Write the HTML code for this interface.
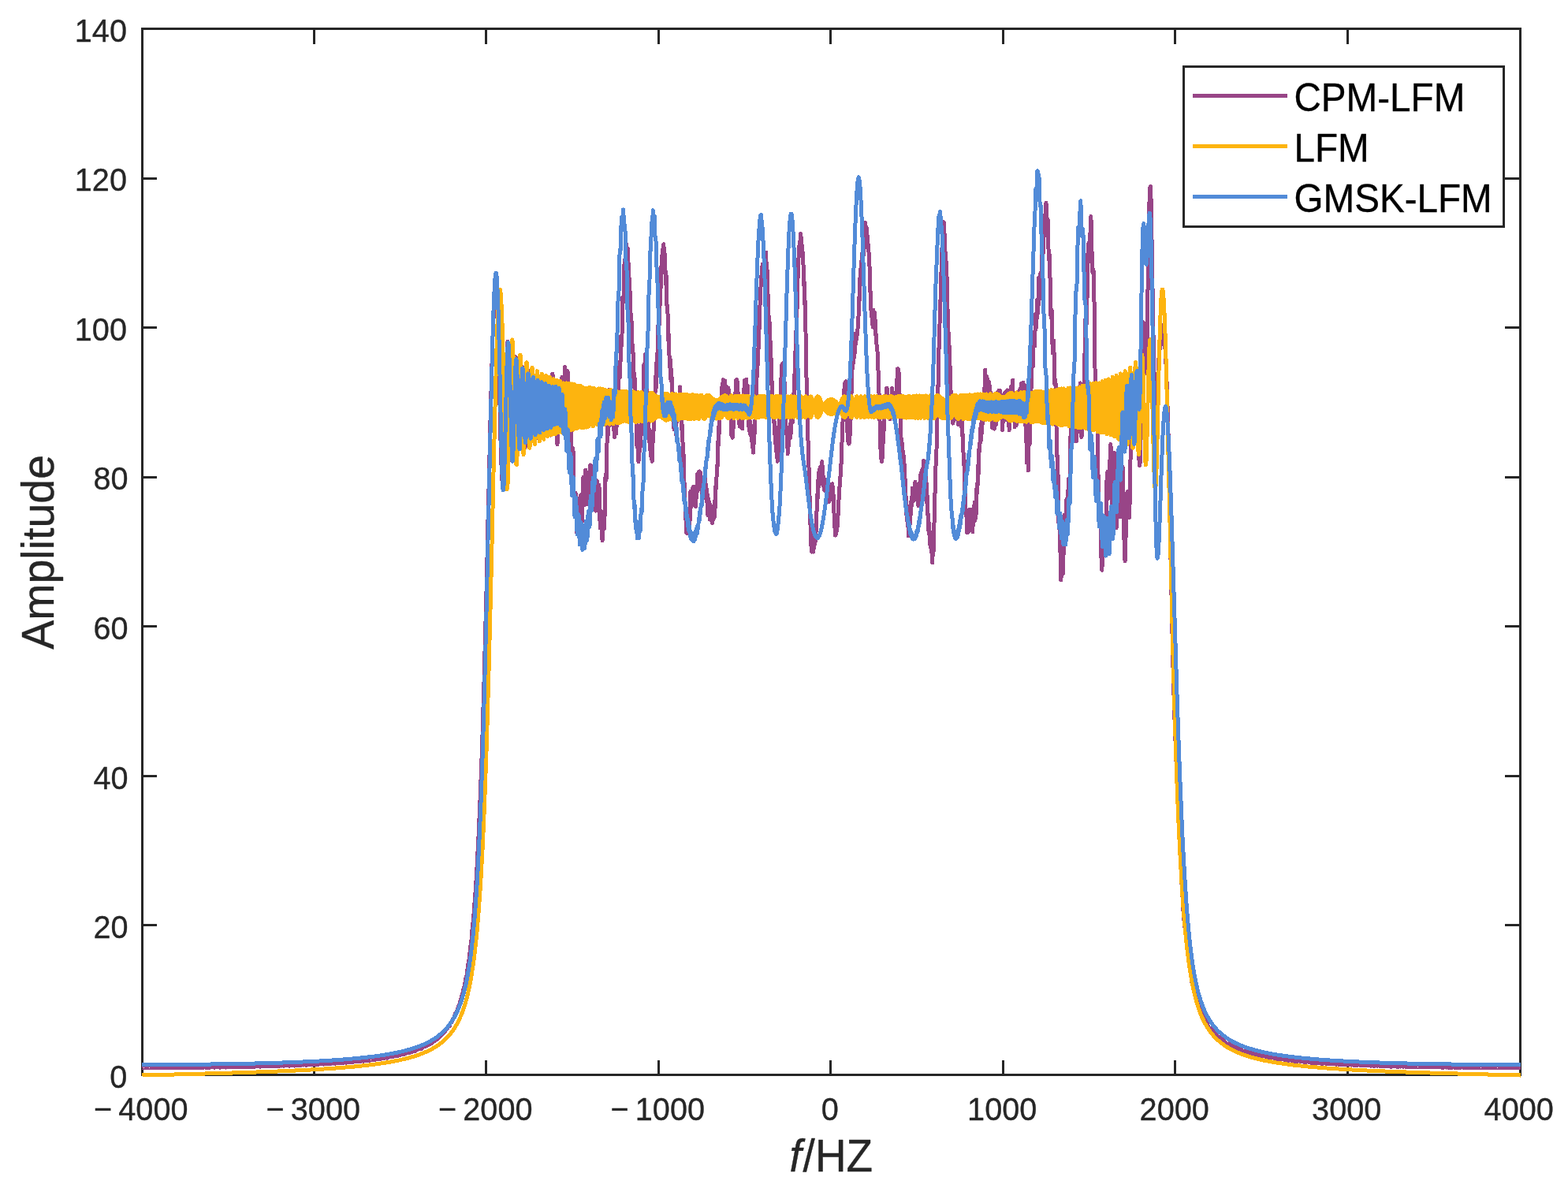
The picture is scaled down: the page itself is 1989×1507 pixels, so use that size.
<!DOCTYPE html>
<html lang="en">
<head>
<meta charset="utf-8">
<title>Spectrum comparison: CPM-LFM, LFM, GMSK-LFM</title>
<style>
html,body{margin:0;padding:0;background:#ffffff;}
body{width:1989px;height:1507px;overflow:hidden;font-family:"Liberation Sans",Arial,Helvetica,sans-serif;}
svg text{font-family:"Liberation Sans",Arial,Helvetica,sans-serif;}
</style>
</head>
<body>
<svg width="1989" height="1507" viewBox="0 0 1989 1507" style="display:block">
<rect x="0" y="0" width="1989" height="1507" fill="#ffffff"/>
<g fill="none" stroke="#262626" stroke-width="3" stroke-linecap="butt" shape-rendering="crispEdges">
<rect x="180.5" y="36.5" width="1748.0" height="1327.0"/>
<path d="M398.5,1363.5v-18.5M398.5,36.5v19.5M616.5,1363.5v-18.5M616.5,36.5v19.5M835.5,1363.5v-18.5M835.5,36.5v19.5M1053.5,1363.5v-18.5M1053.5,36.5v19.5M1272.5,1363.5v-18.5M1272.5,36.5v19.5M1490.5,1363.5v-18.5M1490.5,36.5v19.5M1709.5,1363.5v-18.5M1709.5,36.5v19.5M180.5,1173.5h18.5M1928.5,1173.5h-19.5M180.5,984.5h18.5M1928.5,984.5h-19.5M180.5,794.5h18.5M1928.5,794.5h-19.5M180.5,605.5h18.5M1928.5,605.5h-19.5M180.5,415.5h18.5M1928.5,415.5h-19.5M180.5,226.5h18.5M1928.5,226.5h-19.5"/>
</g>
<g fill="none" stroke-width="5.0" stroke-linejoin="round" stroke-linecap="butt" shape-rendering="crispEdges">
<path stroke="#984587" d="M180.3,1354.5L180.7,1354.4L181.2,1354.3L181.6,1354.5L182.0,1354.4L182.5,1354.5L182.9,1354.4L183.4,1354.3L183.8,1354.1L184.2,1353.8L184.7,1354.3L185.1,1354.7L185.5,1354.5L186.0,1354.3L186.4,1354.4L186.9,1354.2L187.3,1354.4L187.7,1354.6L188.2,1354.5L188.6,1354.1L189.0,1354.2L189.5,1354.5L189.9,1354.5L190.4,1354.4L190.8,1354.7L191.2,1354.1L191.7,1354.5L192.1,1354.8L192.5,1354.4L193.0,1354.3L193.4,1354.3L193.8,1354.1L194.3,1354.0L194.7,1354.2L195.2,1354.5L195.6,1354.3L196.0,1354.6L196.5,1354.4L196.9,1354.3L197.3,1353.9L197.8,1354.3L198.2,1354.4L198.7,1354.7L199.1,1354.1L199.5,1354.6L200.0,1354.2L200.4,1354.3L200.8,1354.6L201.3,1354.3L201.7,1354.4L202.2,1354.4L202.6,1354.4L203.0,1354.3L203.5,1354.4L203.9,1354.4L204.3,1354.5L204.8,1354.3L205.2,1354.3L205.6,1354.0L206.1,1353.7L206.5,1354.2L207.0,1354.7L207.4,1354.4L207.8,1354.2L208.3,1354.4L208.7,1354.2L209.1,1354.3L209.6,1354.5L210.0,1354.4L210.5,1354.1L210.9,1354.1L211.3,1354.5L211.8,1354.4L212.2,1354.3L212.6,1354.6L213.1,1354.1L213.5,1354.4L213.9,1354.8L214.4,1354.3L214.8,1354.2L215.3,1354.3L215.7,1354.0L216.1,1353.9L216.6,1354.1L217.0,1354.4L217.4,1354.2L217.9,1354.5L218.3,1354.3L218.8,1354.3L219.2,1353.9L219.6,1354.2L220.1,1354.3L220.5,1354.6L220.9,1354.0L221.4,1354.5L221.8,1354.1L222.3,1354.2L222.7,1354.5L223.1,1354.2L223.6,1354.3L224.0,1354.3L224.4,1354.3L224.9,1354.2L225.3,1354.3L225.7,1354.3L226.2,1354.4L226.6,1354.2L227.1,1354.2L227.5,1353.9L227.9,1353.6L228.4,1354.1L228.8,1354.6L229.2,1354.3L229.7,1354.1L230.1,1354.3L230.6,1354.1L231.0,1354.2L231.4,1354.4L231.9,1354.3L232.3,1354.0L232.7,1354.0L233.2,1354.3L233.6,1354.3L234.1,1354.2L234.5,1354.5L234.9,1353.9L235.4,1354.3L235.8,1354.6L236.2,1354.1L236.7,1354.1L237.1,1354.2L237.5,1353.9L238.0,1353.8L238.4,1354.0L238.9,1354.3L239.3,1354.1L239.7,1354.4L240.2,1354.2L240.6,1354.1L241.0,1353.7L241.5,1354.1L241.9,1354.1L242.4,1354.5L242.8,1353.9L243.2,1354.3L243.7,1354.0L244.1,1354.1L244.5,1354.3L245.0,1354.1L245.4,1354.2L245.9,1354.2L246.3,1354.1L246.7,1354.0L247.2,1354.1L247.6,1354.1L248.0,1354.2L248.5,1354.1L248.9,1354.0L249.3,1353.8L249.8,1353.5L250.2,1353.9L250.7,1354.4L251.1,1354.1L251.5,1353.9L252.0,1354.1L252.4,1353.9L252.8,1354.0L253.3,1354.2L253.7,1354.1L254.2,1353.8L254.6,1353.8L255.0,1354.1L255.5,1354.1L255.9,1353.9L256.3,1354.3L256.8,1353.7L257.2,1354.1L257.6,1354.4L258.1,1353.9L258.5,1353.9L259.0,1354.0L259.4,1353.7L259.8,1353.6L260.3,1353.8L260.7,1354.1L261.1,1353.9L261.6,1354.2L262.0,1353.9L262.5,1353.9L262.9,1353.5L263.3,1353.9L263.8,1353.9L264.2,1354.3L264.6,1353.6L265.1,1354.1L265.5,1353.7L266.0,1353.8L266.4,1354.1L266.8,1353.8L267.3,1354.0L267.7,1353.9L268.1,1353.9L268.6,1353.8L269.0,1353.9L269.4,1353.9L269.9,1354.0L270.3,1353.8L270.8,1353.8L271.2,1353.5L271.6,1353.2L272.1,1353.7L272.5,1354.2L272.9,1353.9L273.4,1353.7L273.8,1353.8L274.3,1353.6L274.7,1353.7L275.1,1353.9L275.6,1353.9L276.0,1353.5L276.4,1353.6L276.9,1353.9L277.3,1353.8L277.8,1353.7L278.2,1354.0L278.6,1353.4L279.1,1353.8L279.5,1354.1L279.9,1353.6L280.4,1353.6L280.8,1353.7L281.2,1353.4L281.7,1353.3L282.1,1353.5L282.6,1353.8L283.0,1353.6L283.4,1353.9L283.9,1353.7L284.3,1353.6L284.7,1353.2L285.2,1353.6L285.6,1353.6L286.1,1354.0L286.5,1353.3L286.9,1353.8L287.4,1353.4L287.8,1353.5L288.2,1353.7L288.7,1353.5L289.1,1353.7L289.6,1353.6L290.0,1353.6L290.4,1353.4L290.9,1353.6L291.3,1353.5L291.7,1353.7L292.2,1353.5L292.6,1353.5L293.0,1353.2L293.5,1352.9L293.9,1353.4L294.4,1353.8L294.8,1353.5L295.2,1353.3L295.7,1353.5L296.1,1353.3L296.5,1353.4L297.0,1353.6L297.4,1353.5L297.9,1353.2L298.3,1353.2L298.7,1353.5L299.2,1353.5L299.6,1353.3L300.0,1353.6L300.5,1353.1L300.9,1353.5L301.3,1353.8L301.8,1353.3L302.2,1353.3L302.7,1353.4L303.1,1353.1L303.5,1352.9L304.0,1353.1L304.4,1353.4L304.8,1353.2L305.3,1353.5L305.7,1353.3L306.2,1353.2L306.6,1352.8L307.0,1353.2L307.5,1353.3L307.9,1353.6L308.3,1352.9L308.8,1353.4L309.2,1353.0L309.7,1353.1L310.1,1353.3L310.5,1353.1L311.0,1353.3L311.4,1353.2L311.8,1353.2L312.3,1353.0L312.7,1353.1L313.1,1353.1L313.6,1353.3L314.0,1353.1L314.5,1353.1L314.9,1352.8L315.3,1352.4L315.8,1353.0L316.2,1353.4L316.6,1353.1L317.1,1352.9L317.5,1353.1L318.0,1352.8L318.4,1352.9L318.8,1353.2L319.3,1353.1L319.7,1352.8L320.1,1352.8L320.6,1353.1L321.0,1353.0L321.5,1352.9L321.9,1353.2L322.3,1352.6L322.8,1353.0L323.2,1353.3L323.6,1352.8L324.1,1352.8L324.5,1352.9L324.9,1352.6L325.4,1352.5L325.8,1352.6L326.3,1353.0L326.7,1352.8L327.1,1353.0L327.6,1352.8L328.0,1352.7L328.4,1352.3L328.9,1352.7L329.3,1352.8L329.8,1353.2L330.2,1352.5L330.6,1352.9L331.1,1352.5L331.5,1352.6L331.9,1352.8L332.4,1352.6L332.8,1352.8L333.2,1352.7L333.7,1352.6L334.1,1352.5L334.6,1352.6L335.0,1352.6L335.4,1352.8L335.9,1352.6L336.3,1352.6L336.7,1352.2L337.2,1351.9L337.6,1352.4L338.1,1352.9L338.5,1352.6L338.9,1352.4L339.4,1352.6L339.8,1352.3L340.2,1352.4L340.7,1352.6L341.1,1352.6L341.6,1352.2L342.0,1352.3L342.4,1352.6L342.9,1352.5L343.3,1352.3L343.7,1352.6L344.2,1352.1L344.6,1352.5L345.0,1352.8L345.5,1352.2L345.9,1352.2L346.4,1352.3L346.8,1352.0L347.2,1351.9L347.7,1352.0L348.1,1352.4L348.5,1352.2L349.0,1352.5L349.4,1352.2L349.9,1352.1L350.3,1351.7L350.7,1352.1L351.2,1352.2L351.6,1352.6L352.0,1351.8L352.5,1352.3L352.9,1351.9L353.4,1352.0L353.8,1352.2L354.2,1352.0L354.7,1352.2L355.1,1352.1L355.5,1352.0L356.0,1351.8L356.4,1351.9L356.8,1352.0L357.3,1352.1L357.7,1352.0L358.2,1351.9L358.6,1351.6L359.0,1351.2L359.5,1351.8L359.9,1352.3L360.3,1351.9L360.8,1351.7L361.2,1351.9L361.7,1351.6L362.1,1351.7L362.5,1351.9L363.0,1351.9L363.4,1351.5L363.8,1351.6L364.3,1351.9L364.7,1351.7L365.2,1351.6L365.6,1351.9L366.0,1351.3L366.5,1351.8L366.9,1352.1L367.3,1351.5L367.8,1351.5L368.2,1351.6L368.6,1351.3L369.1,1351.1L369.5,1351.3L370.0,1351.7L370.4,1351.4L370.8,1351.7L371.3,1351.5L371.7,1351.3L372.1,1350.9L372.6,1351.4L373.0,1351.5L373.5,1351.9L373.9,1351.1L374.3,1351.5L374.8,1351.1L375.2,1351.2L375.6,1351.4L376.1,1351.2L376.5,1351.4L377.0,1351.3L377.4,1351.2L377.8,1351.0L378.3,1351.1L378.7,1351.2L379.1,1351.3L379.6,1351.2L380.0,1351.1L380.4,1350.7L380.9,1350.4L381.3,1350.9L381.8,1351.5L382.2,1351.1L382.6,1350.8L383.1,1351.0L383.5,1350.8L383.9,1350.8L384.4,1351.1L384.8,1351.0L385.3,1350.7L385.7,1350.7L386.1,1351.0L386.6,1350.9L387.0,1350.7L387.4,1351.0L387.9,1350.4L388.3,1350.9L388.7,1351.2L389.2,1350.6L389.6,1350.6L390.1,1350.8L390.5,1350.4L390.9,1350.2L391.4,1350.4L391.8,1350.8L392.2,1350.5L392.7,1350.8L393.1,1350.6L393.6,1350.4L394.0,1349.9L394.4,1350.4L394.9,1350.5L395.3,1350.9L395.7,1350.1L396.2,1350.5L396.6,1350.1L397.1,1350.2L397.5,1350.4L397.9,1350.3L398.4,1350.5L398.8,1350.3L399.2,1350.2L399.7,1350.0L400.1,1350.1L400.5,1350.2L401.0,1350.3L401.4,1350.2L401.9,1350.1L402.3,1349.7L402.7,1349.3L403.2,1349.9L403.6,1350.5L404.0,1350.1L404.5,1349.8L404.9,1350.0L405.4,1349.7L405.8,1349.7L406.2,1350.0L406.7,1349.9L407.1,1349.6L407.5,1349.6L408.0,1349.9L408.4,1349.8L408.9,1349.5L409.3,1349.9L409.7,1349.3L410.2,1349.8L410.6,1350.1L411.0,1349.4L411.5,1349.5L411.9,1349.6L412.3,1349.3L412.8,1349.0L413.2,1349.2L413.7,1349.6L414.1,1349.4L414.5,1349.7L415.0,1349.4L415.4,1349.2L415.8,1348.7L416.3,1349.2L416.7,1349.3L417.2,1349.8L417.6,1348.9L418.0,1349.3L418.5,1348.8L418.9,1349.0L419.3,1349.2L419.8,1349.0L420.2,1349.2L420.7,1349.1L421.1,1348.9L421.5,1348.7L422.0,1348.8L422.4,1348.9L422.8,1349.1L423.3,1348.9L423.7,1348.9L424.1,1348.3L424.6,1347.9L425.0,1348.5L425.5,1349.2L425.9,1348.8L426.3,1348.4L426.8,1348.6L427.2,1348.3L427.6,1348.3L428.1,1348.6L428.5,1348.6L429.0,1348.2L429.4,1348.2L429.8,1348.5L430.3,1348.3L430.7,1348.1L431.1,1348.5L431.6,1347.9L432.0,1348.4L432.4,1348.6L432.9,1347.9L433.3,1348.0L433.8,1348.2L434.2,1347.8L434.6,1347.5L435.1,1347.7L435.5,1348.1L435.9,1347.9L436.4,1348.2L436.8,1347.9L437.3,1347.6L437.7,1347.1L438.1,1347.6L438.6,1347.8L439.0,1348.2L439.4,1347.3L439.9,1347.7L440.3,1347.2L440.8,1347.3L441.2,1347.6L441.6,1347.4L442.1,1347.6L442.5,1347.5L442.9,1347.3L443.4,1347.0L443.8,1347.1L444.2,1347.2L444.7,1347.4L445.1,1347.3L445.6,1347.2L446.0,1346.6L446.4,1346.1L446.9,1346.8L447.3,1347.5L447.7,1347.0L448.2,1346.7L448.6,1346.9L449.1,1346.5L449.5,1346.5L449.9,1346.8L450.4,1346.8L450.8,1346.4L451.2,1346.4L451.7,1346.7L452.1,1346.5L452.6,1346.2L453.0,1346.6L453.4,1346.0L453.9,1346.5L454.3,1346.8L454.7,1346.0L455.2,1346.1L455.6,1346.3L456.0,1345.8L456.5,1345.5L456.9,1345.7L457.4,1346.2L457.8,1345.9L458.2,1346.2L458.7,1345.9L459.1,1345.5L459.5,1345.0L460.0,1345.6L460.4,1345.8L460.9,1346.2L461.3,1345.2L461.7,1345.5L462.2,1345.1L462.6,1345.2L463.0,1345.4L463.5,1345.3L463.9,1345.5L464.4,1345.3L464.8,1345.1L465.2,1344.7L465.7,1344.8L466.1,1345.0L466.5,1345.2L467.0,1345.1L467.4,1344.9L467.8,1344.3L468.3,1343.8L468.7,1344.5L469.2,1345.2L469.6,1344.7L470.0,1344.3L470.5,1344.5L470.9,1344.1L471.3,1344.1L471.8,1344.4L472.2,1344.4L472.7,1343.9L473.1,1344.0L473.5,1344.3L474.0,1344.0L474.4,1343.7L474.8,1344.1L475.3,1343.4L475.7,1344.0L476.1,1344.2L476.6,1343.4L477.0,1343.5L477.5,1343.7L477.9,1343.2L478.3,1342.8L478.8,1343.0L479.2,1343.5L479.6,1343.2L480.1,1343.5L480.5,1343.1L481.0,1342.7L481.4,1342.1L481.8,1342.8L482.3,1343.0L482.7,1343.5L483.1,1342.3L483.6,1342.7L484.0,1342.1L484.5,1342.3L484.9,1342.5L485.3,1342.4L485.8,1342.6L486.2,1342.4L486.6,1342.0L487.1,1341.6L487.5,1341.7L487.9,1341.9L488.4,1342.2L488.8,1342.1L489.3,1341.9L489.7,1341.1L490.1,1340.5L490.6,1341.3L491.0,1342.1L491.4,1341.5L491.9,1341.0L492.3,1341.3L492.8,1340.8L493.2,1340.7L493.6,1341.1L494.1,1341.0L494.5,1340.5L494.9,1340.6L495.4,1340.8L495.8,1340.5L496.3,1340.2L496.7,1340.5L497.1,1339.8L497.6,1340.4L498.0,1340.7L498.4,1339.7L498.9,1339.8L499.3,1340.0L499.7,1339.5L500.2,1339.0L500.6,1339.2L501.1,1339.7L501.5,1339.4L501.9,1339.7L502.4,1339.3L502.8,1338.8L503.2,1338.1L503.7,1338.8L504.1,1339.1L504.6,1339.6L505.0,1338.3L505.4,1338.5L505.9,1337.9L506.3,1338.1L506.7,1338.3L507.2,1338.2L507.6,1338.4L508.1,1338.1L508.5,1337.7L508.9,1337.2L509.4,1337.3L509.8,1337.5L510.2,1337.8L510.7,1337.6L511.1,1337.4L511.5,1336.4L512.0,1335.8L512.4,1336.6L512.9,1337.5L513.3,1336.9L513.7,1336.3L514.2,1336.5L514.6,1335.9L515.0,1335.8L515.5,1336.2L515.9,1336.0L516.4,1335.5L516.8,1335.5L517.2,1335.8L517.7,1335.4L518.1,1334.9L518.5,1335.3L519.0,1334.5L519.4,1335.1L519.8,1335.3L520.3,1334.3L520.7,1334.3L521.2,1334.5L521.6,1333.9L522.0,1333.4L522.5,1333.5L522.9,1334.0L523.3,1333.7L523.8,1334.0L524.2,1333.4L524.7,1332.8L525.1,1332.0L525.5,1332.7L526.0,1333.1L526.4,1333.5L526.8,1332.0L527.3,1332.2L527.7,1331.5L528.2,1331.6L528.6,1331.8L529.0,1331.7L529.5,1331.9L529.9,1331.5L530.3,1330.9L530.8,1330.3L531.2,1330.3L531.6,1330.6L532.1,1330.9L532.5,1330.7L533.0,1330.3L533.4,1329.1L533.8,1328.3L534.3,1329.2L534.7,1330.2L535.1,1329.4L535.6,1328.7L536.0,1328.8L536.5,1328.1L536.9,1327.9L537.3,1328.2L537.8,1328.1L538.2,1327.4L538.6,1327.4L539.1,1327.6L539.5,1327.0L540.0,1326.4L540.4,1326.7L540.8,1325.9L541.3,1326.5L541.7,1326.6L542.1,1325.3L542.6,1325.3L543.0,1325.5L543.4,1324.7L543.9,1324.0L544.3,1324.0L544.8,1324.5L545.2,1324.1L545.6,1324.3L546.1,1323.5L546.5,1322.7L546.9,1321.7L547.4,1322.5L547.8,1322.8L548.3,1323.2L548.7,1321.4L549.1,1321.4L549.6,1320.5L550.0,1320.5L550.4,1320.7L550.9,1320.5L551.3,1320.6L551.8,1320.0L552.2,1319.2L552.6,1318.3L553.1,1318.2L553.5,1318.4L553.9,1318.7L554.4,1318.3L554.8,1317.7L555.2,1316.2L555.7,1315.1L556.1,1315.9L556.6,1316.9L557.0,1315.9L557.4,1314.9L557.9,1314.9L558.3,1313.9L558.7,1313.5L559.2,1313.7L559.6,1313.3L560.1,1312.4L560.5,1312.2L560.9,1312.2L561.4,1311.4L561.8,1310.5L562.2,1310.6L562.7,1309.4L563.1,1309.9L563.5,1309.8L564.0,1308.2L564.4,1307.9L564.9,1307.9L565.3,1306.7L565.7,1305.6L566.2,1305.4L566.6,1305.8L567.0,1305.0L567.5,1305.0L567.9,1303.8L568.4,1302.4L568.8,1301.0L569.2,1301.6L569.7,1301.8L570.1,1301.9L570.5,1299.6L571.0,1299.1L571.4,1297.7L571.9,1297.4L572.3,1297.2L572.7,1296.6L573.2,1296.5L573.6,1295.3L574.0,1293.8L574.5,1292.3L574.9,1291.7L575.3,1291.6L575.8,1291.6L576.2,1290.7L576.7,1289.4L577.1,1287.1L577.5,1285.3L578.0,1285.7L578.4,1286.3L578.8,1284.8L579.3,1282.9L579.7,1282.2L580.2,1280.5L580.6,1279.3L581.0,1278.8L581.5,1277.7L581.9,1276.0L582.3,1275.1L582.8,1274.2L583.2,1272.4L583.7,1270.5L584.1,1269.7L584.5,1267.6L585.0,1267.2L585.4,1266.1L585.8,1263.3L586.3,1261.8L586.7,1260.8L587.1,1258.4L587.6,1255.9L588.0,1254.4L588.5,1253.6L588.9,1251.6L589.3,1250.2L589.8,1247.4L590.2,1244.3L590.6,1241.1L591.1,1240.2L591.5,1238.9L592.0,1237.5L592.4,1233.1L592.8,1230.4L593.3,1226.8L593.7,1224.4L594.1,1222.1L594.6,1219.4L595.0,1217.1L595.5,1213.4L595.9,1209.2L596.3,1204.7L596.8,1201.2L597.2,1198.2L597.6,1195.5L598.1,1191.6L598.5,1187.2L598.9,1181.0L599.4,1175.1L599.8,1171.8L600.3,1168.8L600.7,1163.6L601.1,1157.2L601.6,1152.0L602.0,1145.5L602.4,1139.3L602.9,1133.6L603.3,1127.5L603.8,1120.2L604.2,1113.7L604.6,1106.9L605.1,1098.9L605.5,1090.2L605.9,1082.4L606.4,1073.2L606.8,1065.5L607.2,1057.2L607.7,1046.3L608.1,1036.1L608.6,1026.7L609.0,1015.8L609.4,1003.9L609.9,992.1L610.3,981.5L610.7,969.4L611.2,957.5L611.6,944.5L612.1,929.9L612.5,913.9L612.9,900.2L613.4,886.4L613.8,873.5L614.2,857.2L614.7,840.8L615.1,822.7L615.6,805.9L616.0,788.7L616.4,771.1L616.9,755.2L617.3,737.8L617.7,719.3L618.2,699.6L618.6,679.4L619.0,659.5L619.5,642.1L619.9,623.8L620.4,606.9L620.8,588.2L621.2,567.6L621.7,547.6L622.1,529.2L622.5,514.2L623.0,496.8L623.4,480.7L623.9,465.5L624.3,450.2L624.7,434.9L625.2,422.4L625.6,410.8L626.0,400.5L626.5,391.4L626.9,384.8L627.4,379.4L627.8,374.5L628.2,372.6L628.7,370.7L629.1,371.6L629.5,376.7L630.0,382.3L630.4,388.9L630.8,398.8L631.3,411.2L631.7,425.0L632.2,438.6L632.6,454.4L633.0,471.1L633.5,488.5L633.9,507.8L634.3,529.1L634.8,548.8L635.2,566.6L635.7,580.9L636.1,592.1L636.5,602.9L637.0,610.1L637.4,614.6L637.8,615.5L638.3,612.0L638.7,605.6L639.2,594.1L639.6,578.9L640.0,560.6L640.5,540.8L640.9,520.6L641.3,503.3L641.8,486.4L642.2,472.7L642.6,460.7L643.1,449.4L643.5,439.3L644.0,433.2L644.4,434.2L644.8,440.1L645.3,448.0L645.7,460.9L646.1,476.7L646.6,494.6L647.0,512.2L647.5,531.6L647.9,548.8L648.3,564.2L648.8,575.2L649.2,582.1L649.6,585.0L650.1,580.7L650.5,573.5L650.9,561.4L651.4,543.8L651.8,524.0L652.3,505.9L652.7,489.5L653.1,474.8L653.6,461.9L654.0,454.0L654.4,452.8L654.9,456.3L655.3,466.2L655.8,481.7L656.2,501.8L656.6,521.3L657.1,539.8L657.5,554.2L657.9,563.6L658.4,569.8L658.8,568.5L659.3,562.2L659.7,550.2L660.1,533.7L660.6,517.5L661.0,500.7L661.4,485.9L661.9,474.5L662.3,467.3L662.7,465.7L663.2,469.9L663.6,481.3L664.1,496.3L664.5,515.7L664.9,536.7L665.4,554.8L665.8,566.7L666.2,567.7L666.7,560.4L667.1,548.4L667.6,530.5L668.0,510.4L668.4,491.0L668.9,477.6L669.3,470.2L669.7,469.4L670.2,475.8L670.6,489.7L671.1,508.7L671.5,528.7L671.9,546.0L672.4,558.7L672.8,562.5L673.2,555.3L673.7,541.6L674.1,525.0L674.5,507.1L675.0,490.6L675.4,477.7L675.9,472.4L676.3,477.0L676.7,488.3L677.2,505.0L677.6,524.5L678.0,542.9L678.5,555.7L678.9,558.8L679.4,553.0L679.8,536.5L680.2,516.9L680.7,497.7L681.1,483.9L681.5,477.8L682.0,481.3L682.4,491.2L682.8,507.8L683.3,525.6L683.7,540.1L684.2,547.5L684.6,545.3L685.0,535.5L685.5,519.2L685.9,504.8L686.3,494.3L686.8,490.2L687.2,492.3L687.7,502.2L688.1,516.8L688.5,534.8L689.0,546.3L689.4,547.0L689.8,537.8L690.3,520.9L690.7,502.8L691.2,486.7L691.6,478.9L692.0,480.8L692.5,493.7L692.9,513.5L693.3,533.5L693.8,546.5L694.2,550.9L694.6,543.4L695.1,525.7L695.5,505.8L696.0,492.3L696.4,489.8L696.8,497.9L697.3,514.4L697.7,532.4L698.1,546.6L698.6,552.3L699.0,544.3L699.5,525.8L699.9,502.2L700.3,482.9L700.8,474.0L701.2,476.8L701.6,493.1L702.1,512.8L702.5,528.8L703.0,534.5L703.4,528.0L703.8,512.2L704.3,497.9L704.7,490.0L705.1,493.7L705.6,509.3L706.0,531.5L706.4,553.0L706.9,563.7L707.3,560.7L707.8,547.5L708.2,528.1L708.6,511.3L709.1,502.7L709.5,506.2L709.9,518.7L710.4,535.3L710.8,542.7L711.3,535.4L711.7,517.1L712.1,494.8L712.6,480.5L713.0,478.5L713.4,487.4L713.9,503.7L714.3,517.4L714.8,520.3L715.2,510.7L715.6,490.9L716.1,472.7L716.5,465.5L716.9,474.5L717.4,493.1L717.8,511.0L718.2,518.8L718.7,512.6L719.1,495.4L719.6,478.2L720.0,470.6L720.4,475.8L720.9,493.6L721.3,514.9L721.7,528.8L722.2,530.5L722.6,520.1L723.1,510.3L723.5,511.1L723.9,523.3L724.4,548.4L724.8,572.7L725.2,587.3L725.7,585.6L726.1,576.5L726.5,568.0L727.0,571.4L727.4,589.6L727.9,616.0L728.3,639.6L728.7,648.5L729.2,641.5L729.6,630.7L730.0,625.3L730.5,632.6L730.9,649.3L731.4,669.2L731.8,676.8L732.2,669.1L732.7,653.0L733.1,637.5L733.5,632.9L734.0,642.5L734.4,658.9L734.9,671.7L735.3,670.1L735.7,654.7L736.2,636.5L736.6,627.8L737.0,633.0L737.5,649.8L737.9,663.4L738.3,661.8L738.8,642.3L739.2,618.3L739.7,605.5L740.1,610.1L740.5,625.8L741.0,640.6L741.4,640.5L741.8,623.7L742.3,603.7L742.7,596.2L743.2,605.0L743.6,625.1L744.0,639.7L744.5,637.9L744.9,623.5L745.3,606.8L745.8,599.5L746.2,609.9L746.7,625.1L747.1,633.1L747.5,623.6L748.0,605.5L748.4,590.2L748.8,590.0L749.3,604.8L749.7,622.1L750.1,627.4L750.6,617.0L751.0,598.8L751.5,591.8L751.9,602.6L752.3,624.7L752.8,642.3L753.2,643.7L753.6,630.2L754.1,613.2L754.5,609.7L755.0,623.1L755.4,640.8L755.8,648.2L756.3,637.9L756.7,618.8L757.1,609.6L757.6,616.2L758.0,633.7L758.5,646.4L758.9,643.5L759.3,627.0L759.8,615.2L760.2,620.5L760.6,642.8L761.1,664.7L761.5,670.1L761.9,659.6L762.4,648.5L762.8,649.5L763.3,664.3L763.7,681.5L764.1,685.6L764.6,672.1L765.0,655.5L765.4,651.5L765.9,659.9L766.3,671.4L766.8,668.2L767.2,643.5L767.6,615.7L768.1,602.3L768.5,603.8L768.9,609.5L769.4,600.6L769.8,576.9L770.2,550.3L770.7,538.9L771.1,544.4L771.6,551.6L772.0,543.2L772.4,520.9L772.9,498.6L773.3,494.2L773.7,507.1L774.2,519.6L774.6,517.9L775.1,503.5L775.5,498.0L775.9,509.2L776.4,528.2L776.8,539.2L777.2,532.3L777.7,515.9L778.1,512.4L778.6,528.1L779.0,547.4L779.4,554.6L779.9,542.0L780.3,525.4L780.7,522.6L781.2,537.7L781.6,550.0L782.0,542.9L782.5,518.5L782.9,498.8L783.4,497.3L783.8,505.5L784.2,503.2L784.7,483.4L785.1,462.4L785.5,459.4L786.0,471.7L786.4,478.9L786.9,466.3L787.3,440.7L787.7,425.9L788.2,431.4L788.6,438.2L789.0,424.6L789.5,397.5L789.9,377.2L790.4,376.1L790.8,383.5L791.2,374.9L791.7,350.7L792.1,329.8L792.5,330.0L793.0,341.9L793.4,341.5L793.8,322.1L794.3,308.5L794.7,316.3L795.2,334.0L795.6,339.6L796.0,326.0L796.5,315.4L796.9,326.2L797.3,348.7L797.8,359.9L798.2,354.5L798.7,353.4L799.1,373.2L799.5,401.7L800.0,410.1L800.4,399.1L800.8,398.4L801.3,418.9L801.7,443.2L802.2,446.7L802.6,438.1L803.0,445.9L803.5,470.7L803.9,491.1L804.3,485.3L804.8,473.8L805.2,483.5L805.6,508.9L806.1,521.4L806.5,513.6L807.0,513.0L807.4,537.3L807.8,565.0L808.3,567.2L808.7,555.9L809.1,561.0L809.6,579.5L810.0,585.6L810.5,569.1L810.9,554.9L811.3,560.3L811.8,572.6L812.2,563.4L812.6,541.4L813.1,537.8L813.5,549.9L814.0,550.6L814.4,527.7L814.8,508.7L815.3,511.9L815.7,517.3L816.1,498.2L816.6,468.9L817.0,462.5L817.4,473.9L817.9,471.1L818.3,453.7L818.8,449.2L819.2,470.4L819.6,489.5L820.1,486.4L820.5,484.5L820.9,505.9L821.4,532.1L821.8,532.1L822.3,521.4L822.7,532.3L823.1,556.8L823.6,560.3L824.0,545.5L824.4,546.4L824.9,568.8L825.3,577.8L825.7,563.5L826.2,560.1L826.6,577.9L827.1,585.5L827.5,566.6L827.9,550.2L828.4,556.0L828.8,559.7L829.2,535.7L829.7,508.9L830.1,509.1L830.6,516.4L831.0,499.3L831.4,477.8L831.9,481.2L832.3,492.2L832.7,475.9L833.2,449.6L833.6,448.4L834.1,455.7L834.5,440.3L834.9,412.9L835.4,410.2L835.8,420.9L836.2,407.3L836.7,381.8L837.1,379.1L837.5,386.5L838.0,367.8L838.4,339.4L838.9,338.1L839.3,347.5L839.7,333.2L840.2,316.6L840.6,327.0L841.0,338.4L841.5,322.5L841.9,309.8L842.4,325.7L842.8,338.3L843.2,324.6L843.7,322.8L844.1,348.4L844.5,360.0L845.0,349.0L845.4,356.1L845.9,385.1L846.3,395.1L846.7,388.0L847.2,403.3L847.6,431.5L848.0,430.5L848.5,424.1L848.9,445.6L849.3,465.5L849.8,458.0L850.2,456.0L850.7,477.9L851.1,483.3L851.5,468.0L852.0,477.2L852.4,502.6L852.8,501.8L853.3,497.9L853.7,523.0L854.2,542.0L854.6,527.6L855.0,523.9L855.5,545.2L855.9,543.5L856.3,527.0L856.8,539.5L857.2,551.1L857.7,531.5L858.1,520.3L858.5,535.2L859.0,531.8L859.4,511.0L859.8,518.3L860.3,532.0L860.7,514.9L861.1,503.0L861.6,516.3L862.0,512.1L862.5,490.9L862.9,501.8L863.3,522.1L863.8,514.5L864.2,515.7L864.6,541.3L865.1,547.1L865.5,539.3L866.0,560.6L866.4,581.0L866.8,573.3L867.3,579.4L867.7,609.5L868.1,616.9L868.6,614.2L869.0,638.3L869.4,657.8L869.9,646.9L870.3,654.7L870.8,676.1L871.2,667.0L871.6,657.6L872.1,675.4L872.5,676.8L872.9,657.6L873.4,665.1L873.8,676.3L874.3,657.3L874.7,650.6L875.1,660.9L875.6,643.6L876.0,623.5L876.4,638.3L876.9,642.9L877.3,622.7L877.8,628.4L878.2,640.5L878.6,620.8L879.1,617.9L879.5,638.2L879.9,630.3L880.4,618.1L880.8,634.1L881.2,633.0L881.7,617.4L882.1,632.3L882.6,642.6L883.0,622.8L883.4,622.1L883.9,631.3L884.3,609.9L884.7,601.1L885.2,620.0L885.6,612.9L886.1,599.0L886.5,614.0L886.9,615.0L887.4,597.9L887.8,610.9L888.2,619.2L888.7,600.3L889.1,604.8L889.6,622.2L890.0,610.2L890.4,612.2L890.9,632.6L891.3,623.7L891.7,614.0L892.2,631.3L892.6,624.7L893.0,607.1L893.5,619.0L893.9,622.0L894.4,605.4L894.8,619.3L895.2,631.9L895.7,614.6L896.1,619.9L896.5,636.1L897.0,625.8L897.4,631.7L897.9,653.5L898.3,640.4L898.7,632.6L899.2,652.8L899.6,645.9L900.0,637.2L900.5,659.1L900.9,655.5L901.3,641.7L901.8,659.2L902.2,659.7L902.7,645.4L903.1,662.7L903.5,663.8L904.0,642.7L904.4,653.3L904.8,659.4L905.3,641.9L905.7,650.1L906.2,656.7L906.6,635.2L907.0,639.9L907.5,643.1L907.9,616.8L908.3,614.9L908.8,619.0L909.2,592.8L909.7,590.5L910.1,592.1L910.5,564.0L911.0,558.9L911.4,564.7L911.8,541.0L912.3,541.0L912.7,549.0L913.1,524.2L913.6,521.5L914.0,529.3L914.5,505.9L914.9,503.6L915.3,512.4L915.8,491.2L916.2,489.9L916.6,501.1L917.1,481.6L917.5,485.5L918.0,500.6L918.4,483.3L918.8,487.6L919.3,499.8L919.7,482.9L920.1,493.9L920.6,509.0L921.0,491.3L921.5,500.4L921.9,510.1L922.3,490.8L922.8,501.9L923.2,509.1L923.6,492.1L924.1,506.8L924.5,510.6L924.9,495.4L925.4,512.6L925.8,511.3L926.3,501.8L926.7,525.2L927.1,525.5L927.6,525.0L928.0,552.8L928.4,545.3L928.9,541.1L929.3,555.3L929.8,535.6L930.2,532.5L930.6,542.6L931.1,519.9L931.5,523.7L931.9,524.3L932.4,498.4L932.8,505.9L933.3,501.8L933.7,481.8L934.1,498.1L934.6,492.0L935.0,481.8L935.4,503.4L935.9,494.8L936.3,501.3L936.7,524.1L937.2,515.4L937.6,528.3L938.1,541.0L938.5,525.5L938.9,541.4L939.4,539.5L939.8,524.2L940.2,541.6L940.7,532.4L941.1,528.8L941.6,544.0L942.0,520.2L942.4,515.9L942.9,516.9L943.3,494.1L943.7,504.0L944.2,495.7L944.6,482.5L945.0,501.6L945.5,488.6L945.9,487.8L946.4,501.0L946.8,481.4L947.2,494.1L947.7,498.2L948.1,488.6L948.5,513.4L949.0,510.9L949.4,516.9L949.9,541.5L950.3,529.6L950.7,544.9L951.2,549.4L951.6,534.7L952.0,551.6L952.5,540.0L952.9,539.9L953.4,558.7L953.8,547.1L954.2,562.6L954.7,567.8L955.1,555.8L955.5,574.2L956.0,557.1L956.4,553.2L956.8,562.3L957.3,536.3L957.7,542.0L958.2,526.0L958.6,505.1L959.0,509.9L959.5,482.8L959.9,480.1L960.3,475.9L960.8,451.4L961.2,463.5L961.7,445.8L962.1,439.7L962.5,441.0L963.0,411.7L963.4,416.5L963.8,395.9L964.3,376.4L964.7,381.1L965.2,355.1L965.6,361.4L966.0,349.6L966.5,338.3L966.9,354.4L967.3,335.3L967.8,347.1L968.2,346.1L968.6,336.7L969.1,351.4L969.5,329.3L970.0,339.3L970.4,338.5L970.8,328.7L971.3,341.8L971.7,320.2L972.1,335.0L972.6,339.3L973.0,341.5L973.5,370.0L973.9,365.3L974.3,393.2L974.8,397.5L975.2,401.7L975.6,421.0L976.1,408.7L976.5,433.9L977.0,432.2L977.4,440.6L977.8,459.0L978.3,455.2L978.7,488.0L979.1,483.0L979.6,500.0L980.0,507.8L980.4,503.1L980.9,525.7L981.3,514.7L981.8,536.5L982.2,535.0L982.6,538.6L983.1,554.1L983.5,541.1L983.9,563.9L984.4,554.7L984.8,572.0L985.3,575.6L985.7,570.3L986.1,585.2L986.6,563.0L987.0,575.1L987.4,557.0L987.9,558.1L988.3,552.3L988.8,529.6L989.2,535.8L989.6,505.6L990.1,509.4L990.5,485.5L990.9,480.1L991.4,478.8L991.8,462.9L992.2,479.0L992.7,460.7L993.1,473.2L993.6,459.8L994.0,465.5L994.4,477.2L994.9,476.4L995.3,505.4L995.7,500.2L996.2,530.6L996.6,527.0L997.1,543.1L997.5,550.1L997.9,546.4L998.4,567.0L998.8,553.8L999.2,575.6L999.7,558.1L1000.1,566.6L1000.5,557.9L1001.0,552.5L1001.4,556.2L1001.9,540.4L1002.3,556.1L1002.7,537.1L1003.2,550.4L1003.6,533.5L1004.0,537.7L1004.5,534.0L1004.9,525.5L1005.4,536.0L1005.8,516.5L1006.2,526.8L1006.7,499.4L1007.1,506.1L1007.5,482.8L1008.0,474.3L1008.4,461.0L1008.9,445.1L1009.3,446.8L1009.7,420.4L1010.2,424.1L1010.6,390.2L1011.0,393.5L1011.5,363.5L1011.9,360.1L1012.3,337.5L1012.8,329.7L1013.2,324.5L1013.7,312.3L1014.1,323.0L1014.5,306.8L1015.0,319.6L1015.4,296.5L1015.8,315.5L1016.3,301.0L1016.7,318.1L1017.2,310.1L1017.6,318.4L1018.0,318.6L1018.5,322.7L1018.9,335.7L1019.3,337.5L1019.8,362.5L1020.2,357.1L1020.7,386.4L1021.1,381.3L1021.5,417.6L1022.0,421.2L1022.4,460.7L1022.8,465.6L1023.3,496.7L1023.7,503.5L1024.1,527.3L1024.6,543.6L1025.0,558.9L1025.5,578.7L1025.9,585.7L1026.3,610.7L1026.8,612.2L1027.2,643.3L1027.6,641.9L1028.1,670.9L1028.5,663.2L1029.0,692.5L1029.4,680.2L1029.8,700.2L1030.3,683.4L1030.7,698.9L1031.1,685.7L1031.6,700.3L1032.0,689.1L1032.5,695.9L1032.9,688.6L1033.3,691.0L1033.8,688.4L1034.2,687.5L1034.6,684.7L1035.1,673.3L1035.5,669.6L1035.9,648.8L1036.4,646.8L1036.8,626.7L1037.3,632.3L1037.7,608.9L1038.1,618.7L1038.6,599.2L1039.0,614.8L1039.4,596.2L1039.9,613.8L1040.3,592.6L1040.8,610.1L1041.2,592.4L1041.6,609.6L1042.1,588.5L1042.5,603.8L1042.9,585.5L1043.4,605.2L1043.8,595.1L1044.2,616.3L1044.7,605.0L1045.1,621.0L1045.6,608.1L1046.0,621.5L1046.4,613.5L1046.9,622.9L1047.3,613.0L1047.7,621.2L1048.2,614.6L1048.6,624.5L1049.1,623.0L1049.5,632.0L1049.9,630.1L1050.4,636.3L1050.8,634.3L1051.2,636.5L1051.7,636.1L1052.1,635.8L1052.6,631.4L1053.0,624.5L1053.4,619.8L1053.9,616.2L1054.3,618.5L1054.7,614.8L1055.2,617.8L1055.6,613.7L1056.0,616.5L1056.5,617.2L1056.9,626.3L1057.4,632.2L1057.8,647.1L1058.2,654.5L1058.7,666.8L1059.1,670.8L1059.5,679.2L1060.0,677.5L1060.4,678.1L1060.9,673.8L1061.3,674.4L1061.7,670.9L1062.2,667.2L1062.6,662.4L1063.0,654.0L1063.5,645.4L1063.9,635.3L1064.4,629.4L1064.8,618.0L1065.2,617.0L1065.7,605.5L1066.1,604.6L1066.5,589.2L1067.0,589.4L1067.4,568.8L1067.8,569.5L1068.3,550.2L1068.7,550.4L1069.2,525.8L1069.6,529.5L1070.0,505.5L1070.5,515.1L1070.9,493.1L1071.3,505.5L1071.8,485.9L1072.2,503.0L1072.7,483.7L1073.1,506.2L1073.5,495.1L1074.0,524.8L1074.4,519.2L1074.8,548.6L1075.3,539.7L1075.7,560.1L1076.1,546.9L1076.6,563.2L1077.0,551.0L1077.5,562.1L1077.9,551.3L1078.3,552.1L1078.8,538.4L1079.2,528.3L1079.6,512.7L1080.1,496.1L1080.5,485.9L1081.0,466.0L1081.4,467.4L1081.8,450.2L1082.3,461.2L1082.7,441.6L1083.1,454.3L1083.6,431.9L1084.0,449.8L1084.5,429.3L1084.9,442.0L1085.3,422.9L1085.8,436.0L1086.2,424.1L1086.6,430.0L1087.1,425.4L1087.5,421.5L1087.9,420.7L1088.4,406.3L1088.8,411.4L1089.3,387.4L1089.7,395.8L1090.1,371.2L1090.6,379.9L1091.0,352.3L1091.4,362.1L1091.9,340.6L1092.3,346.1L1092.8,331.6L1093.2,329.0L1093.6,327.8L1094.1,319.1L1094.5,329.2L1094.9,312.3L1095.4,324.2L1095.8,297.7L1096.3,307.5L1096.7,283.0L1097.1,291.1L1097.6,282.5L1098.0,287.8L1098.4,292.9L1098.9,287.7L1099.3,304.3L1099.7,290.0L1100.2,313.7L1100.6,299.7L1101.1,318.5L1101.5,310.1L1101.9,318.5L1102.4,324.9L1102.8,324.3L1103.2,349.6L1103.7,345.8L1104.1,377.1L1104.6,370.8L1105.0,393.8L1105.4,394.3L1105.9,399.0L1106.3,410.6L1106.7,398.9L1107.2,415.1L1107.6,393.2L1108.1,407.9L1108.5,394.9L1108.9,399.5L1109.4,404.5L1109.8,396.6L1110.2,418.7L1110.7,406.7L1111.1,430.7L1111.5,424.7L1112.0,437.3L1112.4,443.7L1112.9,438.9L1113.3,461.2L1113.7,451.1L1114.2,480.4L1114.6,479.4L1115.0,498.9L1115.5,519.2L1115.9,525.7L1116.4,560.7L1116.8,555.5L1117.2,580.7L1117.7,576.4L1118.1,577.4L1118.5,585.5L1119.0,566.2L1119.4,580.8L1119.8,558.5L1120.3,562.1L1120.7,553.8L1121.2,536.6L1121.6,545.1L1122.0,516.8L1122.5,524.3L1122.9,510.1L1123.3,505.6L1123.8,511.0L1124.2,493.4L1124.7,510.9L1125.1,492.3L1125.5,501.0L1126.0,508.2L1126.4,502.3L1126.8,523.9L1127.3,509.7L1127.7,528.3L1128.2,527.1L1128.6,520.9L1129.0,531.6L1129.5,508.0L1129.9,521.1L1130.3,508.4L1130.8,504.4L1131.2,512.9L1131.6,492.3L1132.1,511.9L1132.5,502.6L1133.0,502.7L1133.4,512.6L1133.8,497.8L1134.3,515.2L1134.7,502.5L1135.1,507.6L1135.6,517.7L1136.0,499.7L1136.5,516.1L1136.9,499.5L1137.3,493.8L1137.8,494.1L1138.2,467.9L1138.6,481.4L1139.1,467.8L1139.5,470.8L1140.0,485.8L1140.4,473.5L1140.8,498.9L1141.3,500.4L1141.7,510.9L1142.1,536.2L1142.6,529.0L1143.0,555.4L1143.4,559.2L1143.9,556.6L1144.3,577.3L1144.8,562.8L1145.2,578.8L1145.6,583.1L1146.1,577.0L1146.5,600.0L1146.9,585.4L1147.4,598.2L1147.8,613.8L1148.3,607.7L1148.7,634.6L1149.1,629.7L1149.6,635.2L1150.0,653.5L1150.4,641.3L1150.9,661.8L1151.3,660.4L1151.8,657.4L1152.2,680.0L1152.6,663.9L1153.1,670.9L1153.5,671.9L1153.9,651.3L1154.4,664.6L1154.8,649.7L1155.2,643.8L1155.7,651.7L1156.1,631.2L1156.6,641.8L1157.0,635.4L1157.4,619.3L1157.9,636.5L1158.3,620.2L1158.7,623.0L1159.2,635.4L1159.6,618.3L1160.1,633.0L1160.5,625.4L1160.9,611.1L1161.4,628.2L1161.8,613.6L1162.2,618.0L1162.7,631.7L1163.1,614.5L1163.5,631.6L1164.0,630.6L1164.4,621.5L1164.9,642.1L1165.3,628.1L1165.7,626.1L1166.2,635.4L1166.6,612.0L1167.0,620.7L1167.5,617.3L1167.9,601.2L1168.4,616.9L1168.8,600.2L1169.2,596.6L1169.7,613.3L1170.1,595.3L1170.5,604.2L1171.0,607.7L1171.4,584.6L1171.9,597.4L1172.3,592.0L1172.7,585.7L1173.2,608.1L1173.6,595.6L1174.0,599.3L1174.5,617.7L1174.9,606.5L1175.3,627.1L1175.8,638.3L1176.2,628.1L1176.7,652.3L1177.1,653.4L1177.5,652.2L1178.0,674.1L1178.4,663.3L1178.8,671.1L1179.3,690.3L1179.7,674.4L1180.2,687.9L1180.6,695.2L1181.0,680.6L1181.5,700.4L1181.9,700.1L1182.3,693.7L1182.8,714.0L1183.2,698.9L1183.7,689.7L1184.1,699.4L1184.5,672.1L1185.0,663.3L1185.4,660.0L1185.8,626.3L1186.3,624.5L1186.7,615.8L1187.1,583.7L1187.6,585.7L1188.0,569.8L1188.5,537.8L1188.9,538.1L1189.3,514.5L1189.8,488.6L1190.2,490.2L1190.6,458.2L1191.1,437.8L1191.5,441.4L1192.0,410.8L1192.4,396.6L1192.8,395.9L1193.3,359.2L1193.7,346.6L1194.1,344.9L1194.6,315.6L1195.0,316.3L1195.5,316.8L1195.9,289.6L1196.3,296.2L1196.8,301.1L1197.2,281.7L1197.6,299.7L1198.1,311.4L1198.5,297.8L1198.9,316.7L1199.4,326.6L1199.8,320.5L1200.3,346.4L1200.7,357.9L1201.1,351.8L1201.6,381.1L1202.0,396.5L1202.4,393.7L1202.9,419.6L1203.3,430.8L1203.8,423.0L1204.2,451.7L1204.6,468.5L1205.1,464.6L1205.5,490.7L1205.9,505.7L1206.4,495.8L1206.8,513.7L1207.2,524.9L1207.7,509.7L1208.1,523.4L1208.6,537.1L1209.0,519.6L1209.4,523.1L1209.9,534.2L1210.3,513.4L1210.7,510.9L1211.2,522.7L1211.6,507.7L1212.1,506.2L1212.5,530.3L1212.9,522.4L1213.4,513.2L1213.8,531.8L1214.2,526.1L1214.7,514.1L1215.1,535.4L1215.6,538.9L1216.0,522.4L1216.4,534.1L1216.9,538.2L1217.3,515.7L1217.7,519.1L1218.2,530.6L1218.6,514.4L1219.0,518.0L1219.5,541.5L1219.9,534.6L1220.4,530.1L1220.8,553.3L1221.2,554.1L1221.7,551.9L1222.1,579.5L1222.5,589.6L1223.0,581.9L1223.4,606.1L1223.9,628.0L1224.3,621.0L1224.7,631.6L1225.2,654.1L1225.6,646.7L1226.0,650.3L1226.5,675.6L1226.9,671.7L1227.4,656.6L1227.8,671.9L1228.2,675.2L1228.7,653.3L1229.1,659.0L1229.5,670.6L1230.0,651.1L1230.4,646.1L1230.8,664.7L1231.3,657.5L1231.7,646.4L1232.2,665.8L1232.6,670.9L1233.0,656.3L1233.5,664.5L1233.9,674.6L1234.3,650.9L1234.8,644.6L1235.2,661.9L1235.7,652.1L1236.1,637.1L1236.5,653.0L1237.0,660.2L1237.4,641.6L1237.8,642.9L1238.3,652.1L1238.7,629.3L1239.2,613.8L1239.6,625.6L1240.0,616.5L1240.5,590.8L1240.9,595.0L1241.3,601.6L1241.8,577.5L1242.2,562.9L1242.6,572.8L1243.1,561.1L1243.5,543.1L1244.0,554.0L1244.4,559.1L1244.8,537.2L1245.3,533.8L1245.7,549.3L1246.1,536.8L1246.6,515.9L1247.0,524.9L1247.5,528.2L1247.9,502.0L1248.3,492.8L1248.8,503.5L1249.2,489.3L1249.6,469.0L1250.1,481.2L1250.5,492.6L1251.0,476.8L1251.4,477.8L1251.8,499.9L1252.3,496.7L1252.7,480.9L1253.1,493.2L1253.6,506.7L1254.0,490.9L1254.4,484.5L1254.9,501.9L1255.3,504.2L1255.8,490.0L1256.2,502.3L1256.6,523.7L1257.1,518.6L1257.5,511.2L1257.9,531.0L1258.4,542.6L1258.8,523.5L1259.3,518.5L1259.7,536.8L1260.1,535.6L1260.6,516.8L1261.0,524.1L1261.4,544.1L1261.9,533.9L1262.3,516.3L1262.7,527.9L1263.2,539.4L1263.6,521.4L1264.1,505.0L1264.5,516.0L1264.9,517.7L1265.4,499.1L1265.8,496.7L1266.2,516.4L1266.7,515.8L1267.1,495.0L1267.6,497.2L1268.0,513.8L1268.4,509.2L1268.9,495.6L1269.3,507.5L1269.7,525.5L1270.2,518.4L1270.6,510.1L1271.1,528.5L1271.5,545.7L1271.9,532.0L1272.4,516.7L1272.8,528.2L1273.2,534.7L1273.7,513.3L1274.1,499.1L1274.5,513.5L1275.0,524.5L1275.4,508.3L1275.9,496.7L1276.3,509.6L1276.7,513.9L1277.2,497.7L1277.6,494.9L1278.0,520.7L1278.5,533.0L1278.9,519.6L1279.4,517.3L1279.8,538.0L1280.2,545.9L1280.7,524.8L1281.1,513.5L1281.5,526.0L1282.0,528.5L1282.4,504.6L1282.9,489.7L1283.3,500.8L1283.7,508.4L1284.2,492.8L1284.6,482.1L1285.0,502.9L1285.5,526.4L1285.9,523.2L1286.3,514.1L1286.8,526.7L1287.2,541.8L1287.7,531.9L1288.1,514.0L1288.5,519.6L1289.0,539.6L1289.4,537.6L1289.8,519.6L1290.3,517.1L1290.7,532.3L1291.2,532.1L1291.6,508.5L1292.0,496.7L1292.5,511.3L1292.9,521.2L1293.3,505.9L1293.8,493.3L1294.2,504.9L1294.6,518.6L1295.1,507.0L1295.5,486.5L1296.0,488.6L1296.4,507.6L1296.8,511.3L1297.3,494.0L1297.7,485.3L1298.1,498.7L1298.6,507.5L1299.0,496.6L1299.5,488.1L1299.9,506.7L1300.3,532.9L1300.8,540.1L1301.2,531.5L1301.6,538.6L1302.1,566.8L1302.5,587.1L1303.0,580.4L1303.4,570.0L1303.8,580.8L1304.3,596.7L1304.7,586.8L1305.1,561.0L1305.6,553.4L1306.0,564.1L1306.4,562.9L1306.9,532.2L1307.3,499.4L1307.8,489.5L1308.2,492.6L1308.6,480.9L1309.1,455.6L1309.5,442.0L1309.9,453.2L1310.4,464.4L1310.8,450.6L1311.3,426.7L1311.7,422.0L1312.1,435.1L1312.6,438.9L1313.0,420.3L1313.4,399.7L1313.9,398.1L1314.3,412.1L1314.8,414.8L1315.2,396.1L1315.6,380.1L1316.1,384.7L1316.5,398.1L1316.9,394.0L1317.4,369.6L1317.8,351.6L1318.2,358.6L1318.7,378.0L1319.1,378.8L1319.6,359.0L1320.0,345.6L1320.4,352.5L1320.9,365.0L1321.3,357.6L1321.7,328.9L1322.2,309.5L1322.6,311.2L1323.1,321.9L1323.5,317.5L1323.9,294.5L1324.4,272.9L1324.8,274.0L1325.2,289.8L1325.7,294.3L1326.1,277.4L1326.6,258.1L1327.0,257.1L1327.4,278.1L1327.9,299.0L1328.3,299.1L1328.7,284.6L1329.2,278.4L1329.6,292.4L1330.0,315.9L1330.5,329.0L1330.9,326.7L1331.4,322.8L1331.8,336.5L1332.2,365.5L1332.7,393.5L1333.1,403.2L1333.5,397.2L1334.0,392.8L1334.4,406.8L1334.9,432.4L1335.3,448.1L1335.7,447.4L1336.2,436.4L1336.6,432.1L1337.0,446.0L1337.5,470.1L1337.9,487.6L1338.3,487.4L1338.8,481.4L1339.2,489.0L1339.7,515.4L1340.1,549.2L1340.5,573.9L1341.0,580.0L1341.4,578.5L1341.8,590.3L1342.3,619.1L1342.7,652.1L1343.2,670.0L1343.6,667.6L1344.0,663.4L1344.5,669.5L1344.9,692.8L1345.3,721.0L1345.8,736.0L1346.2,730.2L1346.7,715.5L1347.1,705.0L1347.5,708.6L1348.0,721.9L1348.4,727.6L1348.8,715.4L1349.3,687.6L1349.7,661.5L1350.1,653.2L1350.6,663.3L1351.0,675.6L1351.5,675.0L1351.9,658.1L1352.3,639.2L1352.8,633.6L1353.2,644.1L1353.6,659.1L1354.1,662.4L1354.5,645.6L1355.0,621.6L1355.4,607.4L1355.8,606.8L1356.3,615.6L1356.7,619.7L1357.1,603.8L1357.6,576.9L1358.0,553.2L1358.5,541.6L1358.9,544.9L1359.3,554.1L1359.8,556.8L1360.2,543.3L1360.6,521.1L1361.1,505.8L1361.5,507.1L1361.9,524.3L1362.4,546.5L1362.8,555.5L1363.3,547.9L1363.7,534.6L1364.1,528.3L1364.6,533.4L1365.0,547.3L1365.4,560.0L1365.9,555.9L1366.3,535.3L1366.8,510.2L1367.2,494.1L1367.6,494.8L1368.1,509.0L1368.5,520.4L1368.9,520.3L1369.4,507.8L1369.8,491.7L1370.3,486.0L1370.7,496.1L1371.1,520.7L1371.6,545.5L1372.0,554.5L1372.4,542.8L1372.9,521.8L1373.3,503.6L1373.7,498.5L1374.2,503.9L1374.6,509.5L1375.1,505.6L1375.5,485.2L1375.9,454.9L1376.4,424.8L1376.8,405.7L1377.2,402.5L1377.7,408.4L1378.1,411.5L1378.6,404.1L1379.0,380.0L1379.4,350.1L1379.9,325.4L1380.3,310.4L1380.7,308.7L1381.2,318.0L1381.6,330.3L1382.0,331.9L1382.5,319.8L1382.9,299.4L1383.4,281.0L1383.8,274.5L1384.2,282.0L1384.7,300.0L1385.1,323.5L1385.5,340.1L1386.0,345.5L1386.4,343.7L1386.9,342.2L1387.3,346.6L1387.7,364.5L1388.2,394.7L1388.6,431.8L1389.0,467.0L1389.5,490.9L1389.9,499.8L1390.4,497.8L1390.8,490.8L1391.2,491.0L1391.7,504.9L1392.1,531.6L1392.5,565.4L1393.0,599.6L1393.4,628.8L1393.8,645.0L1394.3,647.6L1394.7,644.7L1395.2,643.1L1395.6,649.5L1396.0,663.9L1396.5,683.3L1396.9,704.2L1397.3,718.8L1397.8,723.3L1398.2,714.5L1398.7,698.5L1399.1,681.3L1399.5,666.5L1400.0,661.9L1400.4,666.8L1400.8,680.4L1401.3,694.7L1401.7,701.0L1402.2,698.8L1402.6,686.0L1403.0,663.2L1403.5,635.4L1403.9,613.0L1404.3,600.2L1404.8,598.5L1405.2,605.2L1405.6,616.6L1406.1,628.8L1406.5,632.3L1407.0,625.9L1407.4,610.9L1407.8,591.1L1408.3,572.5L1408.7,563.5L1409.1,566.6L1409.6,579.7L1410.0,601.0L1410.5,623.2L1410.9,640.4L1411.3,646.3L1411.8,639.2L1412.2,622.4L1412.6,600.1L1413.1,582.3L1413.5,574.2L1414.0,577.4L1414.4,590.6L1414.8,613.8L1415.3,640.2L1415.7,660.8L1416.1,669.7L1416.6,667.6L1417.0,654.5L1417.4,634.5L1417.9,613.7L1418.3,598.6L1418.8,592.1L1419.2,596.4L1419.6,608.1L1420.1,625.6L1420.5,642.3L1420.9,652.5L1421.4,656.0L1421.8,649.1L1422.3,634.6L1422.7,616.4L1423.1,599.8L1423.6,592.4L1424.0,592.0L1424.4,600.5L1424.9,619.8L1425.3,646.7L1425.8,673.1L1426.2,695.2L1426.6,708.6L1427.1,711.7L1427.5,703.6L1427.9,686.4L1428.4,667.3L1428.8,647.6L1429.2,633.4L1429.7,626.1L1430.1,623.7L1430.6,627.0L1431.0,637.3L1431.4,646.8L1431.9,655.3L1432.3,656.7L1432.7,649.9L1433.2,633.7L1433.6,608.1L1434.1,577.8L1434.5,544.9L1434.9,517.0L1435.4,497.9L1435.8,488.3L1436.2,487.7L1436.7,498.0L1437.1,513.3L1437.5,528.8L1438.0,542.4L1438.4,552.5L1438.9,556.3L1439.3,551.9L1439.7,540.9L1440.2,526.3L1440.6,509.2L1441.0,493.4L1441.5,481.5L1441.9,476.3L1442.4,478.2L1442.8,488.9L1443.2,504.9L1443.7,524.7L1444.1,546.6L1444.5,566.9L1445.0,583.7L1445.4,590.5L1445.9,589.9L1446.3,580.7L1446.7,561.0L1447.2,533.6L1447.6,504.5L1448.0,475.7L1448.5,449.8L1448.9,429.0L1449.3,415.9L1449.8,408.9L1450.2,408.8L1450.7,415.2L1451.1,425.5L1451.5,439.1L1452.0,453.2L1452.4,463.7L1452.8,471.6L1453.3,473.6L1453.7,471.4L1454.2,463.0L1454.6,449.7L1455.0,431.1L1455.5,405.9L1455.9,376.9L1456.3,344.5L1456.8,315.0L1457.2,289.5L1457.7,268.4L1458.1,252.4L1458.5,243.5L1459.0,237.1L1459.4,236.7L1459.8,245.6L1460.3,261.1L1460.7,282.9L1461.1,309.3L1461.6,337.8L1462.0,365.4L1462.5,392.5L1462.9,418.0L1463.3,441.5L1463.8,462.1L1464.2,479.8L1464.6,492.9L1465.1,504.8L1465.5,512.6L1466.0,517.4L1466.4,517.0L1466.8,515.6L1467.3,510.7L1467.7,502.6L1468.1,495.0L1468.6,486.4L1469.0,474.9L1469.5,465.0L1469.9,456.4L1470.3,449.7L1470.8,445.0L1471.2,442.9L1471.6,440.1L1472.1,438.6L1472.5,435.6L1472.9,432.1L1473.4,428.1L1473.8,421.2L1474.3,415.6L1474.7,413.0L1475.1,412.3L1475.6,413.1L1476.0,415.1L1476.4,417.1L1476.9,420.4L1477.3,427.2L1477.8,436.6L1478.2,447.2L1478.6,455.0L1479.1,463.1L1479.5,472.0L1479.9,481.5L1480.4,494.3L1480.8,508.3L1481.2,521.0L1481.7,535.9L1482.1,553.9L1482.6,575.7L1483.0,600.4L1483.4,626.4L1483.9,650.9L1484.3,674.3L1484.7,696.3L1485.2,717.3L1485.6,737.9L1486.1,758.1L1486.5,777.7L1486.9,799.0L1487.4,818.6L1487.8,837.8L1488.2,854.7L1488.7,871.6L1489.1,885.2L1489.6,900.0L1490.0,913.1L1490.4,924.0L1490.9,936.9L1491.3,949.1L1491.7,960.1L1492.2,969.9L1492.6,978.6L1493.0,985.4L1493.5,993.5L1493.9,1001.3L1494.4,1011.1L1494.8,1021.8L1495.2,1033.5L1495.7,1047.8L1496.1,1060.5L1496.5,1071.5L1497.0,1080.9L1497.4,1090.7L1497.9,1100.0L1498.3,1109.8L1498.7,1117.8L1499.2,1124.2L1499.6,1129.7L1500.0,1137.6L1500.5,1146.8L1500.9,1154.3L1501.4,1160.5L1501.8,1165.8L1502.2,1168.7L1502.7,1173.8L1503.1,1177.8L1503.5,1178.3L1504.0,1178.5L1504.4,1179.3L1504.8,1181.1L1505.3,1185.4L1505.7,1191.1L1506.2,1196.8L1506.6,1201.5L1507.0,1206.3L1507.5,1209.9L1507.9,1213.5L1508.3,1216.0L1508.8,1220.4L1509.2,1224.7L1509.7,1229.6L1510.1,1232.6L1510.5,1237.4L1511.0,1239.6L1511.4,1242.5L1511.8,1245.6L1512.3,1246.5L1512.7,1248.4L1513.1,1250.9L1513.6,1253.1L1514.0,1254.7L1514.5,1256.0L1514.9,1255.4L1515.3,1255.0L1515.8,1254.3L1516.2,1254.4L1516.6,1255.2L1517.1,1256.6L1517.5,1260.6L1518.0,1264.5L1518.4,1266.7L1518.8,1268.5L1519.3,1270.4L1519.7,1272.2L1520.1,1274.8L1520.6,1276.8L1521.0,1277.4L1521.5,1277.2L1521.9,1278.7L1522.3,1281.9L1522.8,1284.3L1523.2,1286.0L1523.6,1287.6L1524.1,1287.0L1524.5,1288.7L1524.9,1290.1L1525.4,1288.8L1525.8,1287.2L1526.3,1285.8L1526.7,1284.8L1527.1,1285.7L1527.6,1287.8L1528.0,1290.0L1528.4,1291.4L1528.9,1293.1L1529.3,1293.7L1529.8,1294.5L1530.2,1294.4L1530.6,1295.9L1531.1,1297.3L1531.5,1299.3L1531.9,1299.8L1532.4,1302.1L1532.8,1302.3L1533.3,1303.2L1533.7,1304.5L1534.1,1304.1L1534.6,1304.5L1535.0,1305.5L1535.4,1306.3L1535.9,1306.9L1536.3,1307.4L1536.7,1306.5L1537.2,1305.8L1537.6,1304.7L1538.1,1304.1L1538.5,1304.0L1538.9,1304.1L1539.4,1306.4L1539.8,1308.6L1540.2,1309.4L1540.7,1309.9L1541.1,1310.6L1541.6,1311.1L1542.0,1312.5L1542.4,1313.5L1542.9,1313.4L1543.3,1312.5L1543.7,1312.9L1544.2,1314.9L1544.6,1316.2L1545.1,1317.0L1545.5,1317.9L1545.9,1316.9L1546.4,1318.0L1546.8,1319.1L1547.2,1317.8L1547.7,1316.5L1548.1,1315.3L1548.5,1314.3L1549.0,1314.7L1549.4,1316.0L1549.9,1317.4L1550.3,1318.1L1550.7,1319.1L1551.2,1319.1L1551.6,1319.4L1552.0,1318.8L1552.5,1319.7L1552.9,1320.5L1553.4,1321.8L1553.8,1321.6L1554.2,1323.3L1554.7,1323.1L1555.1,1323.5L1555.5,1324.4L1556.0,1323.7L1556.4,1323.8L1556.8,1324.5L1557.3,1325.0L1557.7,1325.3L1558.2,1325.7L1558.6,1324.9L1559.0,1324.4L1559.5,1323.4L1559.9,1322.9L1560.3,1322.7L1560.8,1322.5L1561.2,1324.2L1561.7,1325.8L1562.1,1326.2L1562.5,1326.3L1563.0,1326.6L1563.4,1326.8L1563.8,1327.8L1564.3,1328.4L1564.7,1328.1L1565.2,1327.2L1565.6,1327.4L1566.0,1328.9L1566.5,1329.7L1566.9,1330.1L1567.3,1330.8L1567.8,1329.8L1568.2,1330.7L1568.6,1331.6L1569.1,1330.5L1569.5,1329.5L1570.0,1328.6L1570.4,1327.7L1570.8,1328.0L1571.3,1329.0L1571.7,1330.0L1572.1,1330.3L1572.6,1331.1L1573.0,1331.0L1573.5,1331.1L1573.9,1330.5L1574.3,1331.1L1574.8,1331.6L1575.2,1332.6L1575.6,1332.2L1576.1,1333.5L1576.5,1333.2L1577.0,1333.4L1577.4,1334.1L1577.8,1333.5L1578.3,1333.5L1578.7,1334.0L1579.1,1334.3L1579.6,1334.5L1580.0,1334.9L1580.4,1334.3L1580.9,1333.9L1581.3,1333.1L1581.8,1332.7L1582.2,1332.4L1582.6,1332.2L1583.1,1333.6L1583.5,1334.8L1583.9,1334.9L1584.4,1334.9L1584.8,1335.1L1585.3,1335.2L1585.7,1335.9L1586.1,1336.4L1586.6,1336.1L1587.0,1335.2L1587.4,1335.3L1587.9,1336.5L1588.3,1337.1L1588.8,1337.3L1589.2,1337.9L1589.6,1336.9L1590.1,1337.7L1590.5,1338.5L1590.9,1337.6L1591.4,1336.8L1591.8,1336.1L1592.2,1335.3L1592.7,1335.5L1593.1,1336.3L1593.6,1337.2L1594.0,1337.3L1594.4,1337.9L1594.9,1337.7L1595.3,1337.8L1595.7,1337.2L1596.2,1337.7L1596.6,1338.0L1597.1,1338.9L1597.5,1338.4L1597.9,1339.5L1598.4,1339.1L1598.8,1339.3L1599.2,1339.9L1599.7,1339.3L1600.1,1339.3L1600.5,1339.6L1601.0,1339.9L1601.4,1340.1L1601.9,1340.4L1602.3,1339.9L1602.7,1339.6L1603.2,1339.0L1603.6,1338.6L1604.0,1338.4L1604.5,1338.1L1604.9,1339.2L1605.4,1340.3L1605.8,1340.3L1606.2,1340.2L1606.7,1340.3L1607.1,1340.3L1607.5,1340.9L1608.0,1341.3L1608.4,1341.1L1608.9,1340.2L1609.3,1340.3L1609.7,1341.3L1610.2,1341.7L1610.6,1341.9L1611.0,1342.4L1611.5,1341.5L1611.9,1342.1L1612.3,1342.9L1612.8,1342.1L1613.2,1341.4L1613.7,1340.9L1614.1,1340.2L1614.5,1340.3L1615.0,1341.0L1615.4,1341.7L1615.8,1341.8L1616.3,1342.3L1616.7,1342.1L1617.2,1342.2L1617.6,1341.5L1618.0,1342.0L1618.5,1342.3L1618.9,1343.0L1619.3,1342.4L1619.8,1343.4L1620.2,1343.0L1620.7,1343.1L1621.1,1343.7L1621.5,1343.1L1622.0,1343.1L1622.4,1343.4L1622.8,1343.6L1623.3,1343.7L1623.7,1344.0L1624.1,1343.6L1624.6,1343.4L1625.0,1342.8L1625.5,1342.6L1625.9,1342.3L1626.3,1342.0L1626.8,1343.0L1627.2,1343.9L1627.6,1343.9L1628.1,1343.7L1628.5,1343.9L1629.0,1343.8L1629.4,1344.3L1629.8,1344.7L1630.3,1344.4L1630.7,1343.7L1631.1,1343.7L1631.6,1344.6L1632.0,1344.9L1632.5,1345.0L1632.9,1345.4L1633.3,1344.6L1633.8,1345.2L1634.2,1345.9L1634.6,1345.1L1635.1,1344.6L1635.5,1344.2L1635.9,1343.6L1636.4,1343.7L1636.8,1344.3L1637.3,1344.9L1637.7,1344.9L1638.1,1345.3L1638.6,1345.1L1639.0,1345.1L1639.4,1344.5L1639.9,1345.0L1640.3,1345.2L1640.8,1345.8L1641.2,1345.3L1641.6,1346.1L1642.1,1345.7L1642.5,1345.8L1642.9,1346.3L1643.4,1345.8L1643.8,1345.8L1644.2,1346.0L1644.7,1346.2L1645.1,1346.3L1645.6,1346.5L1646.0,1346.2L1646.4,1346.0L1646.9,1345.6L1647.3,1345.4L1647.7,1345.2L1648.2,1344.8L1648.6,1345.7L1649.1,1346.5L1649.5,1346.4L1649.9,1346.3L1650.4,1346.4L1650.8,1346.3L1651.2,1346.7L1651.7,1347.0L1652.1,1346.8L1652.6,1346.1L1653.0,1346.1L1653.4,1346.9L1653.9,1347.2L1654.3,1347.2L1654.7,1347.6L1655.2,1346.8L1655.6,1347.4L1656.0,1348.0L1656.5,1347.3L1656.9,1346.9L1657.4,1346.6L1657.8,1346.0L1658.2,1346.1L1658.7,1346.6L1659.1,1347.1L1659.5,1347.1L1660.0,1347.5L1660.4,1347.3L1660.9,1347.3L1661.3,1346.8L1661.7,1347.2L1662.2,1347.3L1662.6,1347.9L1663.0,1347.3L1663.5,1348.1L1663.9,1347.7L1664.4,1347.8L1664.8,1348.3L1665.2,1347.8L1665.7,1347.8L1666.1,1348.0L1666.5,1348.1L1667.0,1348.2L1667.4,1348.4L1667.8,1348.1L1668.3,1348.0L1668.7,1347.6L1669.2,1347.4L1669.6,1347.2L1670.0,1346.9L1670.5,1347.7L1670.9,1348.4L1671.3,1348.3L1671.8,1348.1L1672.2,1348.2L1672.7,1348.1L1673.1,1348.5L1673.5,1348.8L1674.0,1348.6L1674.4,1348.0L1674.8,1348.0L1675.3,1348.7L1675.7,1348.9L1676.2,1348.9L1676.6,1349.3L1677.0,1348.5L1677.5,1349.0L1677.9,1349.6L1678.3,1349.0L1678.8,1348.6L1679.2,1348.3L1679.6,1347.9L1680.1,1347.9L1680.5,1348.4L1681.0,1348.9L1681.4,1348.8L1681.8,1349.2L1682.3,1348.9L1682.7,1349.0L1683.1,1348.4L1683.6,1348.8L1684.0,1349.0L1684.5,1349.5L1684.9,1348.9L1685.3,1349.7L1685.8,1349.3L1686.2,1349.3L1686.6,1349.7L1687.1,1349.3L1687.5,1349.3L1688.0,1349.5L1688.4,1349.6L1688.8,1349.6L1689.3,1349.9L1689.7,1349.6L1690.1,1349.5L1690.6,1349.2L1691.0,1349.0L1691.4,1348.8L1691.9,1348.5L1692.3,1349.2L1692.8,1349.9L1693.2,1349.7L1693.6,1349.6L1694.1,1349.7L1694.5,1349.5L1694.9,1349.9L1695.4,1350.2L1695.8,1350.0L1696.3,1349.4L1696.7,1349.4L1697.1,1350.0L1697.6,1350.2L1698.0,1350.2L1698.4,1350.6L1698.9,1349.8L1699.3,1350.3L1699.7,1350.8L1700.2,1350.3L1700.6,1350.0L1701.1,1349.7L1701.5,1349.3L1701.9,1349.3L1702.4,1349.7L1702.8,1350.2L1703.2,1350.1L1703.7,1350.4L1704.1,1350.2L1704.6,1350.2L1705.0,1349.7L1705.4,1350.1L1705.9,1350.2L1706.3,1350.7L1706.7,1350.1L1707.2,1350.8L1707.6,1350.4L1708.1,1350.5L1708.5,1350.9L1708.9,1350.5L1709.4,1350.5L1709.8,1350.7L1710.2,1350.7L1710.7,1350.7L1711.1,1351.0L1711.5,1350.7L1712.0,1350.7L1712.4,1350.4L1712.9,1350.2L1713.3,1350.0L1713.7,1349.7L1714.2,1350.4L1714.6,1351.0L1715.0,1350.8L1715.5,1350.7L1715.9,1350.8L1716.4,1350.7L1716.8,1350.9L1717.2,1351.2L1717.7,1351.0L1718.1,1350.5L1718.5,1350.5L1719.0,1351.1L1719.4,1351.2L1719.9,1351.2L1720.3,1351.5L1720.7,1350.8L1721.2,1351.3L1721.6,1351.8L1722.0,1351.2L1722.5,1351.0L1722.9,1350.8L1723.3,1350.4L1723.8,1350.4L1724.2,1350.8L1724.7,1351.2L1725.1,1351.1L1725.5,1351.4L1726.0,1351.2L1726.4,1351.2L1726.8,1350.7L1727.3,1351.1L1727.7,1351.2L1728.2,1351.7L1728.6,1351.1L1729.0,1351.8L1729.5,1351.4L1729.9,1351.4L1730.3,1351.8L1730.8,1351.4L1731.2,1351.5L1731.6,1351.6L1732.1,1351.6L1732.5,1351.6L1733.0,1351.8L1733.4,1351.6L1733.8,1351.6L1734.3,1351.3L1734.7,1351.2L1735.1,1351.0L1735.6,1350.7L1736.0,1351.4L1736.5,1351.9L1736.9,1351.7L1737.3,1351.6L1737.8,1351.7L1738.2,1351.5L1738.6,1351.8L1739.1,1352.1L1739.5,1351.9L1740.0,1351.4L1740.4,1351.4L1740.8,1351.9L1741.3,1352.0L1741.7,1352.0L1742.1,1352.3L1742.6,1351.6L1743.0,1352.1L1743.4,1352.6L1743.9,1352.0L1744.3,1351.8L1744.8,1351.7L1745.2,1351.3L1745.6,1351.3L1746.1,1351.6L1746.5,1352.0L1746.9,1351.9L1747.4,1352.2L1747.8,1352.0L1748.3,1352.0L1748.7,1351.5L1749.1,1351.9L1749.6,1352.0L1750.0,1352.4L1750.4,1351.9L1750.9,1352.5L1751.3,1352.1L1751.8,1352.2L1752.2,1352.5L1752.6,1352.1L1753.1,1352.2L1753.5,1352.3L1753.9,1352.4L1754.4,1352.3L1754.8,1352.5L1755.2,1352.3L1755.7,1352.3L1756.1,1352.1L1756.6,1352.0L1757.0,1351.8L1757.4,1351.5L1757.9,1352.1L1758.3,1352.6L1758.7,1352.4L1759.2,1352.3L1759.6,1352.4L1760.1,1352.2L1760.5,1352.5L1760.9,1352.7L1761.4,1352.6L1761.8,1352.1L1762.2,1352.1L1762.7,1352.6L1763.1,1352.7L1763.6,1352.6L1764.0,1353.0L1764.4,1352.3L1764.9,1352.7L1765.3,1353.2L1765.7,1352.7L1766.2,1352.5L1766.6,1352.4L1767.0,1352.0L1767.5,1352.0L1767.9,1352.3L1768.4,1352.7L1768.8,1352.5L1769.2,1352.8L1769.7,1352.6L1770.1,1352.7L1770.5,1352.2L1771.0,1352.6L1771.4,1352.6L1771.9,1353.0L1772.3,1352.5L1772.7,1353.1L1773.2,1352.7L1773.6,1352.8L1774.0,1353.1L1774.5,1352.7L1774.9,1352.8L1775.3,1352.9L1775.8,1352.9L1776.2,1352.9L1776.7,1353.1L1777.1,1352.9L1777.5,1352.9L1778.0,1352.7L1778.4,1352.6L1778.8,1352.4L1779.3,1352.1L1779.7,1352.7L1780.2,1353.2L1780.6,1353.0L1781.0,1352.8L1781.5,1352.9L1781.9,1352.8L1782.3,1353.0L1782.8,1353.2L1783.2,1353.1L1783.7,1352.7L1784.1,1352.7L1784.5,1353.2L1785.0,1353.2L1785.4,1353.1L1785.8,1353.5L1786.3,1352.8L1786.7,1353.3L1787.1,1353.7L1787.6,1353.2L1788.0,1353.0L1788.5,1352.9L1788.9,1352.6L1789.3,1352.6L1789.8,1352.8L1790.2,1353.2L1790.6,1353.1L1791.1,1353.3L1791.5,1353.1L1792.0,1353.2L1792.4,1352.7L1792.8,1353.1L1793.3,1353.1L1793.7,1353.5L1794.1,1353.0L1794.6,1353.5L1795.0,1353.2L1795.5,1353.2L1795.9,1353.5L1796.3,1353.2L1796.8,1353.3L1797.2,1353.4L1797.6,1353.4L1798.1,1353.3L1798.5,1353.5L1798.9,1353.4L1799.4,1353.4L1799.8,1353.2L1800.3,1353.1L1800.7,1352.9L1801.1,1352.6L1801.6,1353.2L1802.0,1353.6L1802.4,1353.4L1802.9,1353.3L1803.3,1353.4L1803.8,1353.2L1804.2,1353.4L1804.6,1353.7L1805.1,1353.5L1805.5,1353.1L1805.9,1353.1L1806.4,1353.6L1806.8,1353.6L1807.3,1353.5L1807.7,1353.9L1808.1,1353.2L1808.6,1353.7L1809.0,1354.0L1809.4,1353.6L1809.9,1353.4L1810.3,1353.4L1810.7,1353.0L1811.2,1353.0L1811.6,1353.3L1812.1,1353.6L1812.5,1353.5L1812.9,1353.7L1813.4,1353.5L1813.8,1353.5L1814.2,1353.1L1814.7,1353.5L1815.1,1353.5L1815.6,1353.9L1816.0,1353.4L1816.4,1353.9L1816.9,1353.5L1817.3,1353.6L1817.7,1353.9L1818.2,1353.6L1818.6,1353.7L1819.0,1353.7L1819.5,1353.7L1819.9,1353.7L1820.4,1353.9L1820.8,1353.7L1821.2,1353.8L1821.7,1353.6L1822.1,1353.5L1822.5,1353.3L1823.0,1353.0L1823.4,1353.5L1823.9,1354.0L1824.3,1353.8L1824.7,1353.6L1825.2,1353.7L1825.6,1353.6L1826.0,1353.8L1826.5,1354.0L1826.9,1353.9L1827.4,1353.5L1827.8,1353.5L1828.2,1353.9L1828.7,1353.9L1829.1,1353.8L1829.5,1354.2L1830.0,1353.6L1830.4,1354.0L1830.8,1354.3L1831.3,1353.9L1831.7,1353.8L1832.2,1353.7L1832.6,1353.4L1833.0,1353.4L1833.5,1353.6L1833.9,1353.9L1834.3,1353.8L1834.8,1354.1L1835.2,1353.9L1835.7,1353.9L1836.1,1353.4L1836.5,1353.8L1837.0,1353.8L1837.4,1354.2L1837.8,1353.7L1838.3,1354.2L1838.7,1353.8L1839.2,1353.9L1839.6,1354.2L1840.0,1353.9L1840.5,1354.0L1840.9,1354.0L1841.3,1354.0L1841.8,1354.0L1842.2,1354.1L1842.6,1354.0L1843.1,1354.0L1843.5,1353.9L1844.0,1353.8L1844.4,1353.6L1844.8,1353.3L1845.3,1353.8L1845.7,1354.3L1846.1,1354.1L1846.6,1353.9L1847.0,1354.0L1847.5,1353.9L1847.9,1354.0L1848.3,1354.2L1848.8,1354.1L1849.2,1353.7L1849.6,1353.8L1850.1,1354.2L1850.5,1354.2L1851.0,1354.1L1851.4,1354.4L1851.8,1353.8L1852.3,1354.2L1852.7,1354.6L1853.1,1354.1L1853.6,1354.0L1854.0,1354.0L1854.4,1353.7L1854.9,1353.6L1855.3,1353.9L1855.8,1354.2L1856.2,1354.0L1856.6,1354.3L1857.1,1354.1L1857.5,1354.1L1857.9,1353.7L1858.4,1354.0L1858.8,1354.1L1859.3,1354.4L1859.7,1353.9L1860.1,1354.4L1860.6,1354.0L1861.0,1354.1L1861.4,1354.4L1861.9,1354.1L1862.3,1354.2L1862.8,1354.2L1863.2,1354.2L1863.6,1354.1L1864.1,1354.3L1864.5,1354.2L1864.9,1354.3L1865.4,1354.1L1865.8,1354.0L1866.2,1353.8L1866.7,1353.5L1867.1,1354.0L1867.6,1354.5L1868.0,1354.3L1868.4,1354.1L1868.9,1354.2L1869.3,1354.0L1869.7,1354.2L1870.2,1354.4L1870.6,1354.3L1871.1,1353.9L1871.5,1354.0L1871.9,1354.3L1872.4,1354.3L1872.8,1354.2L1873.2,1354.6L1873.7,1354.0L1874.1,1354.4L1874.5,1354.7L1875.0,1354.2L1875.4,1354.2L1875.9,1354.2L1876.3,1353.9L1876.7,1353.8L1877.2,1354.0L1877.6,1354.3L1878.0,1354.2L1878.5,1354.5L1878.9,1354.3L1879.4,1354.2L1879.8,1353.8L1880.2,1354.2L1880.7,1354.2L1881.1,1354.6L1881.5,1354.0L1882.0,1354.5L1882.4,1354.2L1882.9,1354.3L1883.3,1354.5L1883.7,1354.2L1884.2,1354.3L1884.6,1354.4L1885.0,1354.4L1885.5,1354.3L1885.9,1354.4L1886.3,1354.3L1886.8,1354.4L1887.2,1354.2L1887.7,1354.2L1888.1,1354.0L1888.5,1353.7L1889.0,1354.2L1889.4,1354.6L1889.8,1354.4L1890.3,1354.2L1890.7,1354.3L1891.2,1354.2L1891.6,1354.3L1892.0,1354.5L1892.5,1354.4L1892.9,1354.1L1893.3,1354.1L1893.8,1354.5L1894.2,1354.4L1894.7,1354.3L1895.1,1354.7L1895.5,1354.1L1896.0,1354.5L1896.4,1354.8L1896.8,1354.3L1897.3,1354.3L1897.7,1354.3L1898.1,1354.0L1898.6,1353.9L1899.0,1354.1L1899.5,1354.5L1899.9,1354.3L1900.3,1354.6L1900.8,1354.4L1901.2,1354.3L1901.6,1353.9L1902.1,1354.3L1902.5,1354.3L1903.0,1354.7L1903.4,1354.1L1903.8,1354.6L1904.3,1354.3L1904.7,1354.3L1905.1,1354.6L1905.6,1354.3L1906.0,1354.4L1906.5,1354.4L1906.9,1354.4L1907.3,1354.3L1907.8,1354.5L1908.2,1354.4L1908.6,1354.5L1909.1,1354.3L1909.5,1354.3L1909.9,1354.1L1910.4,1353.8L1910.8,1354.3L1911.3,1354.7L1911.7,1354.4L1912.1,1354.3L1912.6,1354.4L1913.0,1354.2L1913.4,1354.4L1913.9,1354.6L1914.3,1354.5L1914.8,1354.1L1915.2,1354.2L1915.6,1354.5L1916.1,1354.5L1916.5,1354.4L1916.9,1354.7L1917.4,1354.1L1917.8,1354.5L1918.2,1354.9L1918.7,1354.4L1919.1,1354.3L1919.6,1354.3L1920.0,1354.1L1920.4,1354.0L1920.9,1354.2L1921.3,1354.5L1921.7,1354.3L1922.2,1354.6L1922.6,1354.4L1923.1,1354.4L1923.5,1354.0L1923.9,1354.3L1924.4,1354.4L1924.8,1354.7L1925.2,1354.1L1925.7,1354.6L1926.1,1354.3L1926.6,1354.4L1927.0,1354.6L1927.4,1354.3L1927.9,1354.5L1928.3,1354.5L1929.3,1354.5"/>
<path stroke="#FDB40F" d="M180.3,1364.0L180.7,1363.9L181.2,1363.9L181.6,1363.9L182.0,1363.9L182.5,1363.9L182.9,1363.9L183.4,1363.9L183.8,1363.9L184.2,1363.9L184.7,1363.8L185.1,1363.8L185.5,1363.8L186.0,1363.8L186.4,1363.8L186.9,1363.8L187.3,1363.8L187.7,1363.8L188.2,1363.8L188.6,1363.7L189.0,1363.7L189.5,1363.7L189.9,1363.7L190.4,1363.7L190.8,1363.7L191.2,1363.7L191.7,1363.7L192.1,1363.7L192.5,1363.7L193.0,1363.6L193.4,1363.6L193.8,1363.6L194.3,1363.6L194.7,1363.6L195.2,1363.6L195.6,1363.6L196.0,1363.6L196.5,1363.6L196.9,1363.5L197.3,1363.5L197.8,1363.5L198.2,1363.5L198.7,1363.5L199.1,1363.5L199.5,1363.5L200.0,1363.5L200.4,1363.5L200.8,1363.5L201.3,1363.4L201.7,1363.4L202.2,1363.4L202.6,1363.4L203.0,1363.4L203.5,1363.4L203.9,1363.4L204.3,1363.4L204.8,1363.4L205.2,1363.3L205.6,1363.3L206.1,1363.3L206.5,1363.3L207.0,1363.3L207.4,1363.3L207.8,1363.3L208.3,1363.3L208.7,1363.3L209.1,1363.3L209.6,1363.2L210.0,1363.2L210.5,1363.2L210.9,1363.2L211.3,1363.2L211.8,1363.2L212.2,1363.2L212.6,1363.2L213.1,1363.2L213.5,1363.1L213.9,1363.1L214.4,1363.1L214.8,1363.1L215.3,1363.1L215.7,1363.1L216.1,1363.1L216.6,1363.1L217.0,1363.1L217.4,1363.0L217.9,1363.0L218.3,1363.0L218.8,1363.0L219.2,1363.0L219.6,1363.0L220.1,1363.0L220.5,1363.0L220.9,1363.0L221.4,1363.0L221.8,1362.9L222.3,1362.9L222.7,1362.9L223.1,1362.9L223.6,1362.9L224.0,1362.9L224.4,1362.9L224.9,1362.9L225.3,1362.9L225.7,1362.8L226.2,1362.8L226.6,1362.8L227.1,1362.8L227.5,1362.8L227.9,1362.8L228.4,1362.8L228.8,1362.8L229.2,1362.8L229.7,1362.7L230.1,1362.7L230.6,1362.7L231.0,1362.7L231.4,1362.7L231.9,1362.7L232.3,1362.7L232.7,1362.7L233.2,1362.7L233.6,1362.6L234.1,1362.6L234.5,1362.6L234.9,1362.6L235.4,1362.6L235.8,1362.6L236.2,1362.6L236.7,1362.6L237.1,1362.6L237.5,1362.5L238.0,1362.5L238.4,1362.5L238.9,1362.5L239.3,1362.5L239.7,1362.5L240.2,1362.5L240.6,1362.5L241.0,1362.5L241.5,1362.4L241.9,1362.4L242.4,1362.4L242.8,1362.4L243.2,1362.4L243.7,1362.4L244.1,1362.4L244.5,1362.4L245.0,1362.4L245.4,1362.3L245.9,1362.3L246.3,1362.3L246.7,1362.3L247.2,1362.3L247.6,1362.3L248.0,1362.3L248.5,1362.3L248.9,1362.2L249.3,1362.2L249.8,1362.2L250.2,1362.2L250.7,1362.2L251.1,1362.2L251.5,1362.2L252.0,1362.2L252.4,1362.2L252.8,1362.1L253.3,1362.1L253.7,1362.1L254.2,1362.1L254.6,1362.1L255.0,1362.1L255.5,1362.1L255.9,1362.1L256.3,1362.1L256.8,1362.0L257.2,1362.0L257.6,1362.0L258.1,1362.0L258.5,1362.0L259.0,1362.0L259.4,1362.0L259.8,1362.0L260.3,1361.9L260.7,1361.9L261.1,1361.9L261.6,1361.9L262.0,1361.9L262.5,1361.9L262.9,1361.9L263.3,1361.9L263.8,1361.9L264.2,1361.8L264.6,1361.8L265.1,1361.8L265.5,1361.8L266.0,1361.8L266.4,1361.8L266.8,1361.8L267.3,1361.8L267.7,1361.7L268.1,1361.7L268.6,1361.7L269.0,1361.7L269.4,1361.7L269.9,1361.7L270.3,1361.7L270.8,1361.7L271.2,1361.6L271.6,1361.6L272.1,1361.6L272.5,1361.6L272.9,1361.6L273.4,1361.6L273.8,1361.6L274.3,1361.6L274.7,1361.6L275.1,1361.5L275.6,1361.5L276.0,1361.5L276.4,1361.5L276.9,1361.5L277.3,1361.5L277.8,1361.5L278.2,1361.5L278.6,1361.4L279.1,1361.4L279.5,1361.4L279.9,1361.4L280.4,1361.4L280.8,1361.4L281.2,1361.4L281.7,1361.4L282.1,1361.3L282.6,1361.3L283.0,1361.3L283.4,1361.3L283.9,1361.3L284.3,1361.3L284.7,1361.3L285.2,1361.2L285.6,1361.2L286.1,1361.2L286.5,1361.2L286.9,1361.2L287.4,1361.2L287.8,1361.2L288.2,1361.2L288.7,1361.1L289.1,1361.1L289.6,1361.1L290.0,1361.1L290.4,1361.1L290.9,1361.1L291.3,1361.1L291.7,1361.1L292.2,1361.0L292.6,1361.0L293.0,1361.0L293.5,1361.0L293.9,1361.0L294.4,1361.0L294.8,1361.0L295.2,1360.9L295.7,1360.9L296.1,1360.9L296.5,1360.9L297.0,1360.9L297.4,1360.9L297.9,1360.9L298.3,1360.9L298.7,1360.8L299.2,1360.8L299.6,1360.8L300.0,1360.8L300.5,1360.8L300.9,1360.8L301.3,1360.8L301.8,1360.7L302.2,1360.7L302.7,1360.7L303.1,1360.7L303.5,1360.7L304.0,1360.7L304.4,1360.7L304.8,1360.6L305.3,1360.6L305.7,1360.6L306.2,1360.6L306.6,1360.6L307.0,1360.6L307.5,1360.6L307.9,1360.6L308.3,1360.5L308.8,1360.5L309.2,1360.5L309.7,1360.5L310.1,1360.5L310.5,1360.5L311.0,1360.5L311.4,1360.4L311.8,1360.4L312.3,1360.4L312.7,1360.4L313.1,1360.4L313.6,1360.4L314.0,1360.4L314.5,1360.3L314.9,1360.3L315.3,1360.3L315.8,1360.3L316.2,1360.3L316.6,1360.3L317.1,1360.2L317.5,1360.2L318.0,1360.2L318.4,1360.2L318.8,1360.2L319.3,1360.2L319.7,1360.2L320.1,1360.1L320.6,1360.1L321.0,1360.1L321.5,1360.1L321.9,1360.1L322.3,1360.1L322.8,1360.1L323.2,1360.0L323.6,1360.0L324.1,1360.0L324.5,1360.0L324.9,1360.0L325.4,1360.0L325.8,1359.9L326.3,1359.9L326.7,1359.9L327.1,1359.9L327.6,1359.9L328.0,1359.9L328.4,1359.9L328.9,1359.8L329.3,1359.8L329.8,1359.8L330.2,1359.8L330.6,1359.8L331.1,1359.8L331.5,1359.7L331.9,1359.7L332.4,1359.7L332.8,1359.7L333.2,1359.7L333.7,1359.7L334.1,1359.7L334.6,1359.6L335.0,1359.6L335.4,1359.6L335.9,1359.6L336.3,1359.6L336.7,1359.6L337.2,1359.5L337.6,1359.5L338.1,1359.5L338.5,1359.5L338.9,1359.5L339.4,1359.5L339.8,1359.4L340.2,1359.4L340.7,1359.4L341.1,1359.4L341.6,1359.4L342.0,1359.4L342.4,1359.3L342.9,1359.3L343.3,1359.3L343.7,1359.3L344.2,1359.3L344.6,1359.3L345.0,1359.2L345.5,1359.2L345.9,1359.2L346.4,1359.2L346.8,1359.2L347.2,1359.1L347.7,1359.1L348.1,1359.1L348.5,1359.1L349.0,1359.1L349.4,1359.1L349.9,1359.0L350.3,1359.0L350.7,1359.0L351.2,1359.0L351.6,1359.0L352.0,1359.0L352.5,1358.9L352.9,1358.9L353.4,1358.9L353.8,1358.9L354.2,1358.9L354.7,1358.8L355.1,1358.8L355.5,1358.8L356.0,1358.8L356.4,1358.8L356.8,1358.8L357.3,1358.7L357.7,1358.7L358.2,1358.7L358.6,1358.7L359.0,1358.7L359.5,1358.6L359.9,1358.6L360.3,1358.6L360.8,1358.6L361.2,1358.6L361.7,1358.6L362.1,1358.5L362.5,1358.5L363.0,1358.5L363.4,1358.5L363.8,1358.5L364.3,1358.4L364.7,1358.4L365.2,1358.4L365.6,1358.4L366.0,1358.4L366.5,1358.3L366.9,1358.3L367.3,1358.3L367.8,1358.3L368.2,1358.3L368.6,1358.2L369.1,1358.2L369.5,1358.2L370.0,1358.2L370.4,1358.2L370.8,1358.1L371.3,1358.1L371.7,1358.1L372.1,1358.1L372.6,1358.1L373.0,1358.0L373.5,1358.0L373.9,1358.0L374.3,1358.0L374.8,1358.0L375.2,1357.9L375.6,1357.9L376.1,1357.9L376.5,1357.9L377.0,1357.8L377.4,1357.8L377.8,1357.8L378.3,1357.8L378.7,1357.8L379.1,1357.7L379.6,1357.7L380.0,1357.7L380.4,1357.7L380.9,1357.7L381.3,1357.6L381.8,1357.6L382.2,1357.6L382.6,1357.6L383.1,1357.5L383.5,1357.5L383.9,1357.5L384.4,1357.5L384.8,1357.5L385.3,1357.4L385.7,1357.4L386.1,1357.4L386.6,1357.4L387.0,1357.3L387.4,1357.3L387.9,1357.3L388.3,1357.3L388.7,1357.3L389.2,1357.2L389.6,1357.2L390.1,1357.2L390.5,1357.2L390.9,1357.1L391.4,1357.1L391.8,1357.1L392.2,1357.1L392.7,1357.0L393.1,1357.0L393.6,1357.0L394.0,1357.0L394.4,1356.9L394.9,1356.9L395.3,1356.9L395.7,1356.9L396.2,1356.8L396.6,1356.8L397.1,1356.8L397.5,1356.8L397.9,1356.7L398.4,1356.7L398.8,1356.7L399.2,1356.7L399.7,1356.6L400.1,1356.6L400.5,1356.6L401.0,1356.6L401.4,1356.5L401.9,1356.5L402.3,1356.5L402.7,1356.5L403.2,1356.4L403.6,1356.4L404.0,1356.4L404.5,1356.4L404.9,1356.3L405.4,1356.3L405.8,1356.3L406.2,1356.3L406.7,1356.2L407.1,1356.2L407.5,1356.2L408.0,1356.1L408.4,1356.1L408.9,1356.1L409.3,1356.1L409.7,1356.0L410.2,1356.0L410.6,1356.0L411.0,1356.0L411.5,1355.9L411.9,1355.9L412.3,1355.9L412.8,1355.8L413.2,1355.8L413.7,1355.8L414.1,1355.8L414.5,1355.7L415.0,1355.7L415.4,1355.7L415.8,1355.6L416.3,1355.6L416.7,1355.6L417.2,1355.5L417.6,1355.5L418.0,1355.5L418.5,1355.5L418.9,1355.4L419.3,1355.4L419.8,1355.4L420.2,1355.3L420.7,1355.3L421.1,1355.3L421.5,1355.2L422.0,1355.2L422.4,1355.2L422.8,1355.2L423.3,1355.1L423.7,1355.1L424.1,1355.1L424.6,1355.0L425.0,1355.0L425.5,1355.0L425.9,1354.9L426.3,1354.9L426.8,1354.9L427.2,1354.8L427.6,1354.8L428.1,1354.8L428.5,1354.7L429.0,1354.7L429.4,1354.7L429.8,1354.6L430.3,1354.6L430.7,1354.6L431.1,1354.5L431.6,1354.5L432.0,1354.5L432.4,1354.4L432.9,1354.4L433.3,1354.4L433.8,1354.3L434.2,1354.3L434.6,1354.3L435.1,1354.2L435.5,1354.2L435.9,1354.2L436.4,1354.1L436.8,1354.1L437.3,1354.0L437.7,1354.0L438.1,1354.0L438.6,1353.9L439.0,1353.9L439.4,1353.9L439.9,1353.8L440.3,1353.8L440.8,1353.7L441.2,1353.7L441.6,1353.7L442.1,1353.6L442.5,1353.6L442.9,1353.6L443.4,1353.5L443.8,1353.5L444.2,1353.4L444.7,1353.4L445.1,1353.4L445.6,1353.3L446.0,1353.3L446.4,1353.2L446.9,1353.2L447.3,1353.2L447.7,1353.1L448.2,1353.1L448.6,1353.0L449.1,1353.0L449.5,1353.0L449.9,1352.9L450.4,1352.9L450.8,1352.8L451.2,1352.8L451.7,1352.7L452.1,1352.7L452.6,1352.7L453.0,1352.6L453.4,1352.6L453.9,1352.5L454.3,1352.5L454.7,1352.4L455.2,1352.4L455.6,1352.4L456.0,1352.3L456.5,1352.3L456.9,1352.2L457.4,1352.2L457.8,1352.1L458.2,1352.1L458.7,1352.0L459.1,1352.0L459.5,1351.9L460.0,1351.9L460.4,1351.9L460.9,1351.8L461.3,1351.8L461.7,1351.7L462.2,1351.7L462.6,1351.6L463.0,1351.6L463.5,1351.5L463.9,1351.5L464.4,1351.4L464.8,1351.4L465.2,1351.3L465.7,1351.3L466.1,1351.2L466.5,1351.2L467.0,1351.1L467.4,1351.1L467.8,1351.0L468.3,1351.0L468.7,1350.9L469.2,1350.9L469.6,1350.8L470.0,1350.7L470.5,1350.7L470.9,1350.6L471.3,1350.6L471.8,1350.5L472.2,1350.5L472.7,1350.4L473.1,1350.4L473.5,1350.3L474.0,1350.2L474.4,1350.2L474.8,1350.1L475.3,1350.1L475.7,1350.0L476.1,1350.0L476.6,1349.9L477.0,1349.8L477.5,1349.8L477.9,1349.7L478.3,1349.7L478.8,1349.6L479.2,1349.5L479.6,1349.5L480.1,1349.4L480.5,1349.4L481.0,1349.3L481.4,1349.2L481.8,1349.2L482.3,1349.1L482.7,1349.0L483.1,1349.0L483.6,1348.9L484.0,1348.9L484.5,1348.8L484.9,1348.7L485.3,1348.7L485.8,1348.6L486.2,1348.5L486.6,1348.5L487.1,1348.4L487.5,1348.3L487.9,1348.3L488.4,1348.2L488.8,1348.1L489.3,1348.0L489.7,1348.0L490.1,1347.9L490.6,1347.8L491.0,1347.8L491.4,1347.7L491.9,1347.6L492.3,1347.5L492.8,1347.5L493.2,1347.4L493.6,1347.3L494.1,1347.2L494.5,1347.2L494.9,1347.1L495.4,1347.0L495.8,1346.9L496.3,1346.8L496.7,1346.8L497.1,1346.7L497.6,1346.6L498.0,1346.5L498.4,1346.4L498.9,1346.4L499.3,1346.3L499.7,1346.2L500.2,1346.1L500.6,1346.0L501.1,1345.9L501.5,1345.9L501.9,1345.8L502.4,1345.7L502.8,1345.6L503.2,1345.5L503.7,1345.4L504.1,1345.3L504.6,1345.2L505.0,1345.1L505.4,1345.1L505.9,1345.0L506.3,1344.9L506.7,1344.8L507.2,1344.7L507.6,1344.6L508.1,1344.5L508.5,1344.4L508.9,1344.3L509.4,1344.2L509.8,1344.1L510.2,1344.0L510.7,1343.9L511.1,1343.8L511.5,1343.7L512.0,1343.6L512.4,1343.5L512.9,1343.4L513.3,1343.3L513.7,1343.2L514.2,1343.1L514.6,1342.9L515.0,1342.8L515.5,1342.7L515.9,1342.6L516.4,1342.5L516.8,1342.4L517.2,1342.3L517.7,1342.2L518.1,1342.0L518.5,1341.9L519.0,1341.8L519.4,1341.7L519.8,1341.6L520.3,1341.4L520.7,1341.3L521.2,1341.2L521.6,1341.1L522.0,1340.9L522.5,1340.8L522.9,1340.7L523.3,1340.6L523.8,1340.4L524.2,1340.3L524.7,1340.2L525.1,1340.0L525.5,1339.9L526.0,1339.8L526.4,1339.6L526.8,1339.5L527.3,1339.3L527.7,1339.2L528.2,1339.0L528.6,1338.9L529.0,1338.8L529.5,1338.6L529.9,1338.5L530.3,1338.3L530.8,1338.2L531.2,1338.0L531.6,1337.8L532.1,1337.7L532.5,1337.5L533.0,1337.4L533.4,1337.2L533.8,1337.0L534.3,1336.9L534.7,1336.7L535.1,1336.5L535.6,1336.4L536.0,1336.2L536.5,1336.0L536.9,1335.8L537.3,1335.7L537.8,1335.5L538.2,1335.3L538.6,1335.1L539.1,1334.9L539.5,1334.7L540.0,1334.5L540.4,1334.3L540.8,1334.2L541.3,1334.0L541.7,1333.8L542.1,1333.6L542.6,1333.3L543.0,1333.1L543.4,1332.9L543.9,1332.7L544.3,1332.5L544.8,1332.3L545.2,1332.1L545.6,1331.8L546.1,1331.6L546.5,1331.4L546.9,1331.2L547.4,1330.9L547.8,1330.7L548.3,1330.5L548.7,1330.2L549.1,1330.0L549.6,1329.7L550.0,1329.5L550.4,1329.2L550.9,1328.9L551.3,1328.7L551.8,1328.4L552.2,1328.2L552.6,1327.9L553.1,1327.6L553.5,1327.3L553.9,1327.0L554.4,1326.7L554.8,1326.5L555.2,1326.2L555.7,1325.9L556.1,1325.6L556.6,1325.2L557.0,1324.9L557.4,1324.6L557.9,1324.3L558.3,1324.0L558.7,1323.6L559.2,1323.3L559.6,1323.0L560.1,1322.6L560.5,1322.3L560.9,1321.9L561.4,1321.5L561.8,1321.2L562.2,1320.8L562.7,1320.4L563.1,1320.0L563.5,1319.6L564.0,1319.2L564.4,1318.8L564.9,1318.4L565.3,1318.0L565.7,1317.6L566.2,1317.1L566.6,1316.7L567.0,1316.2L567.5,1315.8L567.9,1315.3L568.4,1314.8L568.8,1314.4L569.2,1313.9L569.7,1313.4L570.1,1312.9L570.5,1312.3L571.0,1311.8L571.4,1311.3L571.9,1310.7L572.3,1310.2L572.7,1309.6L573.2,1309.0L573.6,1308.4L574.0,1307.8L574.5,1307.2L574.9,1306.6L575.3,1306.0L575.8,1305.3L576.2,1304.6L576.7,1304.0L577.1,1303.3L577.5,1302.6L578.0,1301.8L578.4,1301.1L578.8,1300.3L579.3,1299.6L579.7,1298.8L580.2,1298.0L580.6,1297.1L581.0,1296.3L581.5,1295.4L581.9,1294.6L582.3,1293.6L582.8,1292.7L583.2,1291.8L583.7,1290.8L584.1,1289.8L584.5,1288.8L585.0,1287.7L585.4,1286.6L585.8,1285.5L586.3,1284.4L586.7,1283.2L587.1,1282.1L587.6,1280.8L588.0,1279.6L588.5,1278.3L588.9,1276.9L589.3,1275.6L589.8,1274.2L590.2,1272.7L590.6,1271.2L591.1,1269.7L591.5,1268.1L592.0,1266.5L592.4,1264.8L592.8,1263.1L593.3,1261.3L593.7,1259.4L594.1,1257.5L594.6,1255.6L595.0,1253.5L595.5,1251.5L595.9,1249.3L596.3,1247.1L596.8,1244.8L597.2,1242.4L597.6,1239.9L598.1,1237.3L598.5,1234.7L598.9,1231.9L599.4,1229.1L599.8,1226.1L600.3,1223.1L600.7,1219.9L601.1,1216.6L601.6,1213.2L602.0,1209.7L602.4,1206.0L602.9,1202.2L603.3,1198.3L603.8,1194.2L604.2,1189.9L604.6,1185.4L605.1,1180.8L605.5,1176.0L605.9,1171.0L606.4,1165.9L606.8,1160.5L607.2,1154.9L607.7,1149.0L608.1,1142.9L608.6,1136.6L609.0,1130.1L609.4,1123.2L609.9,1116.1L610.3,1108.7L610.7,1101.0L611.2,1093.1L611.6,1084.7L612.1,1076.1L612.5,1067.1L612.9,1057.8L613.4,1048.1L613.8,1038.1L614.2,1027.7L614.7,1016.8L615.1,1005.6L615.6,994.0L616.0,982.0L616.4,969.6L616.9,956.7L617.3,943.4L617.7,929.7L618.2,915.5L618.6,900.9L619.0,885.9L619.5,870.4L619.9,854.6L620.4,838.3L620.8,821.6L621.2,804.6L621.7,787.2L622.1,769.4L622.5,751.3L623.0,732.9L623.4,714.3L623.9,695.5L624.3,676.5L624.7,657.3L625.2,638.1L625.6,618.9L626.0,599.7L626.5,580.7L626.9,561.8L627.4,543.2L627.8,525.0L628.2,507.3L628.7,490.1L629.1,473.5L629.5,457.8L630.0,442.9L630.4,428.9L630.8,416.1L631.3,404.5L631.7,394.3L632.2,385.5L632.6,378.2L633.0,372.7L633.5,368.9L633.9,367.0L634.3,367.0L634.8,369.0L635.2,373.1L635.7,379.2L636.1,387.5L636.5,397.7L637.0,409.9L637.4,424.0L637.8,439.7L638.3,456.9L638.7,475.3L639.2,494.5L639.6,514.2L640.0,533.8L640.5,552.8L640.9,570.7L641.3,586.7L641.8,600.3L642.2,610.8L642.6,617.8L643.1,620.7L643.5,619.5L644.0,614.1L644.4,604.8L644.8,591.8L645.3,576.0L645.7,557.9L646.1,538.5L646.6,518.6L647.0,499.0L647.5,480.7L647.9,464.3L648.3,450.6L648.8,440.2L649.2,433.5L649.6,430.8L650.1,432.3L650.5,438.1L650.9,447.9L651.4,461.3L651.8,477.8L652.3,496.6L652.7,516.5L653.1,536.5L653.6,555.1L654.0,570.9L654.4,582.6L654.9,589.1L655.3,589.8L655.8,584.5L656.2,573.7L656.6,558.3L657.1,539.8L657.5,519.6L657.9,499.6L658.4,481.4L658.8,466.4L659.3,455.7L659.7,450.2L660.1,450.5L660.6,456.5L661.0,467.8L661.4,483.6L661.9,502.5L662.3,522.9L662.7,542.6L663.2,559.5L663.6,571.5L664.1,576.9L664.5,575.0L664.9,565.9L665.4,551.0L665.8,532.0L666.2,511.5L666.7,491.9L667.1,475.6L667.6,464.4L668.0,459.6L668.4,461.8L668.9,470.9L669.3,485.8L669.7,504.7L670.2,525.4L670.6,544.8L671.1,560.0L671.5,568.3L671.9,568.3L672.4,559.9L672.8,544.6L673.2,524.9L673.7,504.2L674.1,485.8L674.5,472.4L675.0,466.1L675.4,467.8L675.9,477.5L676.3,493.6L676.7,513.7L677.2,534.3L677.6,551.6L678.0,562.2L678.5,563.6L678.9,555.5L679.4,539.6L679.8,519.3L680.2,498.7L680.7,481.9L681.1,472.0L681.5,470.8L682.0,478.7L682.4,494.2L682.8,514.4L683.3,535.1L683.7,551.6L684.2,559.9L684.6,557.7L685.0,545.6L685.5,526.7L685.9,505.6L686.3,487.3L686.8,475.9L687.2,474.0L687.7,482.1L688.1,498.4L688.5,519.2L689.0,539.4L689.4,553.4L689.8,557.3L690.3,549.7L690.7,532.8L691.2,511.7L691.6,492.1L692.0,479.3L692.5,476.5L692.9,484.5L693.3,501.4L693.8,522.6L694.2,542.0L694.6,553.6L695.1,553.4L695.5,541.4L696.0,521.6L696.4,500.5L696.8,484.5L697.3,478.3L697.7,483.8L698.1,499.5L698.6,520.7L699.0,540.4L699.5,551.9L699.9,550.8L700.3,537.4L700.8,516.7L701.2,496.2L701.6,482.8L702.1,480.9L702.5,491.2L703.0,510.5L703.4,531.9L703.8,547.5L704.3,551.0L704.7,540.8L705.1,521.1L705.6,499.8L706.0,485.0L706.4,482.2L706.9,492.3L707.3,511.8L707.8,533.2L708.2,547.6L708.6,548.6L709.1,535.7L709.5,514.6L709.9,494.5L710.4,483.6L710.8,486.3L711.3,501.6L711.7,523.3L712.1,542.0L712.6,548.8L713.0,540.3L713.4,520.8L713.9,499.4L714.3,485.9L714.8,486.1L715.2,500.0L715.6,521.6L716.1,540.7L716.5,547.7L716.9,538.8L717.4,518.6L717.8,497.6L718.2,485.8L718.7,488.9L719.1,505.5L719.6,527.6L720.0,543.8L720.4,545.3L720.9,531.0L721.3,509.0L721.7,491.1L722.2,486.4L722.6,497.4L723.1,518.5L723.5,538.5L723.9,545.8L724.4,536.1L724.8,515.0L725.2,494.9L725.7,486.8L726.1,495.2L726.5,515.5L727.0,536.4L727.4,545.1L727.9,536.1L728.3,515.1L728.7,495.0L729.2,487.6L729.6,497.3L730.0,518.4L730.5,538.3L730.9,544.0L731.4,531.7L731.8,509.5L732.2,491.8L732.7,489.5L733.1,504.1L733.5,526.5L734.0,542.2L734.4,540.1L734.9,521.8L735.3,499.9L735.7,489.0L736.2,496.2L736.6,516.9L737.0,537.2L737.5,542.6L737.9,529.0L738.3,506.4L738.8,490.9L739.2,493.1L739.7,511.5L740.1,533.4L740.5,542.6L741.0,531.8L741.4,509.5L741.8,492.3L742.3,492.7L742.7,510.4L743.2,532.6L743.6,542.1L744.0,531.2L744.5,508.6L744.9,492.2L745.3,494.1L745.8,513.1L746.2,534.7L746.7,541.2L747.1,527.1L747.5,504.3L748.0,491.2L748.4,498.1L748.8,519.7L749.3,538.4L749.7,538.2L750.1,519.1L750.6,497.8L751.0,491.9L751.5,506.3L751.9,529.2L752.3,540.8L752.8,530.4L753.2,507.6L753.6,492.5L754.1,497.9L754.5,519.4L755.0,538.1L755.4,536.6L755.8,516.3L756.3,496.1L756.7,494.1L757.1,512.0L757.6,533.9L758.0,539.0L758.5,522.2L758.9,499.9L759.3,492.9L759.8,507.7L760.2,530.6L760.6,539.5L761.1,525.2L761.5,502.2L761.9,492.9L762.4,506.1L762.8,529.2L763.3,539.3L763.7,525.6L764.1,502.6L764.6,493.3L765.0,506.9L765.4,530.0L765.9,538.8L766.3,523.6L766.8,500.9L767.2,494.0L767.6,510.1L768.1,532.6L768.5,537.4L768.9,519.1L769.4,497.8L769.8,496.1L770.2,515.8L770.7,536.0L771.1,534.0L771.6,512.1L772.0,494.9L772.4,500.9L772.9,523.9L773.3,538.1L773.7,527.1L774.2,503.6L774.6,494.5L775.1,509.8L775.5,532.5L775.9,536.0L776.4,516.1L776.8,496.4L777.2,499.7L777.7,522.2L778.1,537.6L778.6,526.9L779.0,503.4L779.4,495.2L779.9,512.0L780.3,533.9L780.7,533.8L781.2,511.8L781.6,495.3L782.0,504.3L782.5,528.0L782.9,536.8L783.4,519.2L783.8,498.0L784.2,499.5L784.7,522.0L785.1,537.0L785.5,524.7L786.0,501.4L786.4,497.1L786.9,517.3L787.3,536.0L787.7,528.2L788.2,504.4L788.6,496.2L789.0,514.2L789.5,534.9L789.9,530.0L790.4,506.3L790.8,496.0L791.2,512.8L791.7,534.2L792.1,530.4L792.5,506.8L793.0,496.2L793.4,513.0L793.8,534.3L794.3,529.7L794.7,505.9L795.2,496.6L795.6,514.8L796.0,535.0L796.5,527.8L796.9,503.8L797.3,497.7L797.8,518.1L798.2,535.7L798.7,524.3L799.1,500.9L799.5,499.9L800.0,522.7L800.4,535.7L800.8,519.0L801.3,498.1L801.7,504.1L802.2,528.2L802.6,533.8L803.0,512.2L803.5,496.7L803.9,510.8L804.3,533.1L804.8,528.8L805.2,504.7L805.6,498.4L806.1,519.7L806.5,535.4L807.0,520.3L807.4,498.7L807.8,504.7L808.3,528.9L808.7,532.5L809.1,509.5L809.6,497.4L810.0,515.4L810.5,534.7L810.9,523.3L811.3,500.2L811.8,503.2L812.2,527.5L812.6,532.8L813.1,510.1L813.5,497.6L814.0,515.9L814.4,534.6L814.8,521.7L815.3,499.4L815.7,505.4L816.1,529.7L816.6,530.5L817.0,506.4L817.4,499.2L817.9,521.1L818.3,534.4L818.8,515.4L819.2,497.8L819.6,512.2L820.1,533.6L820.5,523.7L820.9,500.4L821.4,505.0L821.8,529.4L822.3,529.8L822.7,505.3L823.1,500.5L823.6,523.8L824.0,533.1L824.4,511.1L824.9,498.4L825.3,518.1L825.7,534.2L826.2,516.4L826.6,498.2L827.1,513.1L827.5,533.7L827.9,520.9L828.4,499.2L828.8,509.3L829.2,532.3L829.7,524.2L830.1,500.7L830.6,506.6L831.0,530.8L831.4,526.5L831.9,502.1L832.3,504.8L832.7,529.5L833.2,527.8L833.6,503.1L834.1,503.9L834.5,528.7L834.9,528.4L835.4,503.7L835.8,503.7L836.2,528.4L836.7,528.4L837.1,503.6L837.5,504.0L838.0,528.8L838.4,527.7L838.9,502.9L839.3,505.1L839.7,529.8L840.2,526.2L840.6,501.8L841.0,506.9L841.5,531.1L841.9,523.9L842.4,500.5L842.8,509.6L843.2,532.4L843.7,520.7L844.1,499.4L844.5,513.3L845.0,533.2L845.4,516.4L845.9,499.1L846.3,518.0L846.7,532.8L847.2,511.4L847.6,500.3L848.0,523.3L848.5,530.7L848.9,506.1L849.3,503.4L849.8,528.4L850.2,526.2L850.7,501.7L851.1,509.0L851.5,532.1L852.0,519.4L852.4,499.5L852.8,516.5L853.3,532.7L853.7,511.3L854.2,500.9L854.6,524.7L855.0,529.0L855.5,503.9L855.9,506.6L856.3,531.0L856.8,521.0L857.2,499.8L857.7,516.0L858.1,532.5L858.5,510.8L859.0,501.5L859.4,526.1L859.8,527.3L860.3,502.3L860.7,509.7L861.1,532.2L861.6,516.5L862.0,500.0L862.5,521.6L862.9,530.1L863.3,505.1L863.8,506.4L864.2,530.9L864.6,519.7L865.1,499.9L865.5,519.1L866.0,531.0L866.4,506.5L866.8,505.4L867.3,530.3L867.7,520.3L868.1,500.0L868.6,519.1L869.0,530.8L869.4,506.0L869.9,506.3L870.3,530.9L870.8,518.5L871.2,500.2L871.6,521.5L872.1,529.2L872.5,503.9L872.9,509.3L873.4,531.9L873.8,514.3L874.3,501.4L874.7,525.8L875.1,525.4L875.6,501.2L876.0,515.1L876.4,531.6L876.9,508.1L877.3,505.3L877.8,530.4L878.2,518.3L878.6,500.6L879.1,523.2L879.5,527.2L879.9,502.1L880.4,513.6L880.8,531.6L881.2,508.6L881.7,505.4L882.1,530.5L882.6,517.3L883.0,501.0L883.4,524.9L883.9,525.3L884.3,501.2L884.7,517.1L885.2,530.4L885.6,505.2L886.1,509.5L886.5,531.7L886.9,511.5L887.4,503.9L887.8,529.5L888.2,518.5L888.7,501.1L889.1,524.8L889.6,524.6L890.0,501.0L890.4,519.0L890.9,528.9L891.3,503.3L891.7,513.2L892.2,531.2L892.6,507.0L893.0,508.3L893.5,531.4L893.9,511.6L894.4,504.5L894.8,530.0L895.2,516.1L895.7,502.2L896.1,527.6L896.5,520.3L897.0,501.1L897.4,524.6L897.9,523.7L898.3,501.0L898.7,521.5L899.2,526.4L899.6,501.6L900.0,518.6L900.5,528.3L900.9,502.6L901.3,516.0L901.8,529.6L902.2,503.8L902.7,513.9L903.1,530.4L903.5,505.0L904.0,512.2L904.4,530.8L904.8,506.1L905.3,511.0L905.7,531.0L906.2,506.9L906.6,510.2L907.0,531.1L907.5,507.4L907.9,509.8L908.3,531.1L908.8,507.5L909.2,509.8L909.7,531.0L910.1,507.3L910.5,510.1L911.0,530.9L911.4,506.8L911.8,510.9L912.3,530.7L912.7,506.0L913.1,512.1L913.6,530.4L914.0,505.0L914.5,513.7L914.9,529.7L915.3,503.8L915.8,515.8L916.2,528.7L916.6,502.7L917.1,518.2L917.5,527.0L918.0,501.9L918.4,521.1L918.8,524.7L919.3,501.5L919.7,524.0L920.1,521.7L920.6,501.8L921.0,526.9L921.5,518.0L921.9,503.2L922.3,529.2L922.8,513.7L923.2,505.7L923.6,530.6L924.1,509.4L924.5,509.6L924.9,530.5L925.4,505.4L925.8,514.6L926.3,528.6L926.7,502.6L927.1,520.1L927.6,524.6L928.0,501.6L928.4,525.4L928.9,519.0L929.3,503.2L929.8,529.3L930.2,512.5L930.6,507.4L931.1,530.6L931.5,506.5L931.9,513.8L932.4,528.6L932.8,502.5L933.3,521.1L933.7,523.1L934.1,502.0L934.6,527.4L935.0,515.4L935.4,505.7L935.9,530.5L936.3,507.6L936.7,512.9L937.2,528.7L937.6,502.6L938.1,521.7L938.5,522.1L938.9,502.5L939.4,528.6L939.8,512.8L940.2,508.0L940.7,530.3L941.1,504.8L941.6,517.5L942.0,525.4L942.4,501.9L942.9,526.6L943.3,515.7L943.7,506.2L944.2,530.4L944.6,506.0L945.0,516.0L945.5,526.1L945.9,501.9L946.4,526.3L946.8,515.7L947.2,506.5L947.7,530.3L948.1,505.3L948.5,517.5L949.0,524.8L949.4,502.2L949.9,527.8L950.3,512.9L950.7,509.0L951.2,529.6L951.6,503.3L952.0,521.6L952.5,520.7L952.9,503.8L953.4,529.9L953.8,507.8L954.2,514.7L954.7,526.3L955.1,502.1L955.5,527.2L956.0,513.3L956.4,509.2L956.8,529.3L957.3,502.9L957.7,523.2L958.2,518.2L958.6,505.6L959.0,530.2L959.5,504.9L959.9,519.4L960.3,521.9L960.8,503.6L961.2,529.9L961.7,507.1L962.1,516.5L962.5,524.3L963.0,502.7L963.4,529.2L963.8,508.8L964.3,514.6L964.7,525.6L965.2,502.4L965.6,528.6L966.0,509.7L966.5,513.9L966.9,526.0L967.3,502.4L967.8,528.6L968.2,509.6L968.6,514.2L969.1,525.5L969.5,502.6L970.0,529.0L970.4,508.6L970.8,515.6L971.3,524.2L971.7,503.1L972.1,529.6L972.6,506.8L973.0,518.1L973.5,521.9L973.9,504.4L974.3,530.0L974.8,504.6L975.2,521.6L975.6,518.2L976.1,507.0L976.5,529.4L977.0,502.8L977.4,525.5L977.8,513.4L978.3,511.3L978.7,526.9L979.1,502.5L979.6,528.8L980.0,508.0L980.4,517.4L980.9,521.9L981.3,504.9L981.8,529.9L982.2,503.7L982.6,524.1L983.1,514.6L983.5,510.7L983.9,527.0L984.4,502.6L984.8,529.1L985.3,507.0L985.7,519.2L986.1,519.6L986.6,506.8L987.0,529.1L987.4,502.6L987.9,527.3L988.3,509.8L988.8,516.0L989.2,522.3L989.6,505.1L990.1,529.6L990.5,503.0L990.9,526.1L991.4,511.1L991.8,515.0L992.2,523.0L992.7,504.8L993.1,529.6L993.6,503.0L994.0,526.4L994.4,510.5L994.9,516.0L995.3,521.8L995.7,505.8L996.2,529.2L996.6,502.6L997.1,527.9L997.5,508.1L997.9,519.0L998.4,518.5L998.8,508.6L999.2,527.4L999.7,502.8L1000.1,529.5L1000.5,504.8L1001.0,523.8L1001.4,513.1L1001.9,513.9L1002.3,523.0L1002.7,505.4L1003.2,529.1L1003.6,502.6L1004.0,528.5L1004.5,506.6L1004.9,521.6L1005.4,515.1L1005.8,512.3L1006.2,524.1L1006.7,504.9L1007.1,529.3L1007.5,502.7L1008.0,528.5L1008.4,506.2L1008.9,522.5L1009.3,513.8L1009.7,514.0L1010.2,522.2L1010.6,506.5L1011.0,528.2L1011.5,502.8L1011.9,529.5L1012.3,503.9L1012.8,526.0L1013.2,509.3L1013.7,519.2L1014.1,516.8L1014.5,511.5L1015.0,524.0L1015.4,505.5L1015.8,528.7L1016.3,502.7L1016.7,529.5L1017.2,503.9L1017.6,526.5L1018.0,508.4L1018.5,520.7L1018.9,514.8L1019.3,513.9L1019.8,521.4L1020.2,507.9L1020.7,526.7L1021.1,503.9L1021.5,529.4L1022.0,502.7L1022.4,529.1L1022.8,504.3L1023.3,526.2L1023.7,508.2L1024.1,521.4L1024.6,513.5L1025.0,515.8L1025.5,519.1L1025.9,510.4L1026.3,524.1L1026.8,506.1L1027.2,527.7L1027.6,503.5L1028.1,529.4L1028.5,502.7L1029.0,529.3L1029.4,503.7L1029.8,527.4L1030.3,506.2L1030.7,524.3L1031.1,509.8L1031.6,520.3L1032.0,513.9L1032.5,516.1L1032.9,518.1L1033.3,512.0L1033.8,522.0L1034.2,508.5L1034.6,525.2L1035.1,505.7L1035.5,527.6L1035.9,503.9L1036.4,529.0L1036.8,502.9L1037.3,529.6L1037.7,502.8L1038.1,529.3L1038.6,503.4L1039.0,528.3L1039.4,504.6L1039.9,526.8L1040.3,506.3L1040.8,525.0L1041.2,508.2L1041.6,522.9L1042.1,510.3L1042.5,520.8L1042.9,512.4L1043.4,518.7L1043.8,514.5L1044.2,516.7L1044.7,516.4L1045.1,514.8L1045.6,518.2L1046.0,513.2L1046.4,519.7L1046.9,511.7L1047.3,521.1L1047.7,510.5L1048.2,522.2L1048.6,509.4L1049.1,523.2L1049.5,508.6L1049.9,524.0L1050.4,507.9L1050.8,524.6L1051.2,507.4L1051.7,525.0L1052.1,507.0L1052.6,525.3L1053.0,506.8L1053.4,525.5L1053.9,506.6L1054.3,525.6L1054.7,506.6L1055.2,525.5L1055.6,506.8L1056.0,525.3L1056.5,507.0L1056.9,525.0L1057.4,507.4L1057.8,524.6L1058.2,507.9L1058.7,524.0L1059.1,508.6L1059.5,523.2L1060.0,509.4L1060.4,522.2L1060.9,510.5L1061.3,521.1L1061.7,511.7L1062.2,519.7L1062.6,513.2L1063.0,518.2L1063.5,514.8L1063.9,516.4L1064.4,516.7L1064.8,514.5L1065.2,518.7L1065.7,512.4L1066.1,520.8L1066.5,510.3L1067.0,522.9L1067.4,508.2L1067.8,525.0L1068.3,506.3L1068.7,526.8L1069.2,504.6L1069.6,528.3L1070.0,503.4L1070.5,529.3L1070.9,502.8L1071.3,529.6L1071.8,502.9L1072.2,529.0L1072.7,503.9L1073.1,527.6L1073.5,505.7L1074.0,525.2L1074.4,508.5L1074.8,522.0L1075.3,512.0L1075.7,518.1L1076.1,516.1L1076.6,513.9L1077.0,520.3L1077.5,509.8L1077.9,524.3L1078.3,506.2L1078.8,527.4L1079.2,503.7L1079.6,529.3L1080.1,502.7L1080.5,529.4L1081.0,503.5L1081.4,527.7L1081.8,506.1L1082.3,524.1L1082.7,510.4L1083.1,519.1L1083.6,515.8L1084.0,513.5L1084.5,521.4L1084.9,508.2L1085.3,526.2L1085.8,504.3L1086.2,529.1L1086.6,502.7L1087.1,529.4L1087.5,503.9L1087.9,526.7L1088.4,507.9L1088.8,521.4L1089.3,513.9L1089.7,514.8L1090.1,520.7L1090.6,508.4L1091.0,526.5L1091.4,503.9L1091.9,529.5L1092.3,502.7L1092.8,528.7L1093.2,505.5L1093.6,524.0L1094.1,511.5L1094.5,516.8L1094.9,519.2L1095.4,509.3L1095.8,526.0L1096.3,503.9L1096.7,529.5L1097.1,502.8L1097.6,528.2L1098.0,506.5L1098.4,522.2L1098.9,514.0L1099.3,513.8L1099.7,522.5L1100.2,506.2L1100.6,528.5L1101.1,502.7L1101.5,529.3L1101.9,504.9L1102.4,524.1L1102.8,512.3L1103.2,515.1L1103.7,521.6L1104.1,506.6L1104.6,528.5L1105.0,502.6L1105.4,529.1L1105.9,505.4L1106.3,523.0L1106.7,513.9L1107.2,513.1L1107.6,523.8L1108.1,504.8L1108.5,529.5L1108.9,502.8L1109.4,527.4L1109.8,508.6L1110.2,518.5L1110.7,519.0L1111.1,508.1L1111.5,527.9L1112.0,502.6L1112.4,529.2L1112.9,505.8L1113.3,521.8L1113.7,516.0L1114.2,510.5L1114.6,526.4L1115.0,503.0L1115.5,529.6L1115.9,504.8L1116.4,523.0L1116.8,515.0L1117.2,511.1L1117.7,526.1L1118.1,503.0L1118.5,529.6L1119.0,505.1L1119.4,522.3L1119.8,516.0L1120.3,509.8L1120.7,527.3L1121.2,502.6L1121.6,529.1L1122.0,506.8L1122.5,519.6L1122.9,519.2L1123.3,507.0L1123.8,529.1L1124.2,502.6L1124.7,527.0L1125.1,510.7L1125.5,514.6L1126.0,524.1L1126.4,503.7L1126.8,529.9L1127.3,504.9L1127.7,521.9L1128.2,517.4L1128.6,508.0L1129.0,528.8L1129.5,502.5L1129.9,526.9L1130.3,511.3L1130.8,513.4L1131.2,525.5L1131.6,502.8L1132.1,529.4L1132.5,507.0L1133.0,518.2L1133.4,521.6L1133.8,504.6L1134.3,530.0L1134.7,504.4L1135.1,521.9L1135.6,518.1L1136.0,506.8L1136.5,529.6L1136.9,503.1L1137.3,524.2L1137.8,515.6L1138.2,508.6L1138.6,529.0L1139.1,502.6L1139.5,525.5L1140.0,514.2L1140.4,509.6L1140.8,528.6L1141.3,502.4L1141.7,526.0L1142.1,513.9L1142.6,509.7L1143.0,528.6L1143.4,502.4L1143.9,525.6L1144.3,514.6L1144.8,508.8L1145.2,529.2L1145.6,502.7L1146.1,524.3L1146.5,516.5L1146.9,507.1L1147.4,529.9L1147.8,503.6L1148.3,521.9L1148.7,519.4L1149.1,504.9L1149.6,530.2L1150.0,505.6L1150.4,518.2L1150.9,523.2L1151.3,502.9L1151.8,529.3L1152.2,509.2L1152.6,513.3L1153.1,527.2L1153.5,502.1L1153.9,526.3L1154.4,514.7L1154.8,507.8L1155.2,529.9L1155.7,503.8L1156.1,520.7L1156.6,521.6L1157.0,503.3L1157.4,529.6L1157.9,509.0L1158.3,512.9L1158.7,527.8L1159.2,502.2L1159.6,524.8L1160.1,517.5L1160.5,505.3L1160.9,530.3L1161.4,506.5L1161.8,515.7L1162.2,526.3L1162.7,501.9L1163.1,526.1L1163.5,516.0L1164.0,506.0L1164.4,530.4L1164.9,506.2L1165.3,515.7L1165.7,526.6L1166.2,501.9L1166.6,525.4L1167.0,517.5L1167.5,504.8L1167.9,530.3L1168.4,508.0L1168.8,512.8L1169.2,528.6L1169.7,502.5L1170.1,522.1L1170.5,521.7L1171.0,502.6L1171.4,528.7L1171.9,512.9L1172.3,507.6L1172.7,530.5L1173.2,505.7L1173.6,515.4L1174.0,527.4L1174.5,502.0L1174.9,523.1L1175.3,521.1L1175.8,502.5L1176.2,528.6L1176.7,513.8L1177.1,506.5L1177.5,530.6L1178.0,507.4L1178.4,512.5L1178.8,529.3L1179.3,503.2L1179.7,519.0L1180.2,525.4L1180.6,501.6L1181.0,524.6L1181.5,520.1L1181.9,502.6L1182.3,528.6L1182.8,514.6L1183.2,505.4L1183.7,530.5L1184.1,509.6L1184.5,509.4L1185.0,530.6L1185.4,505.7L1185.8,513.7L1186.3,529.2L1186.7,503.2L1187.1,518.0L1187.6,526.9L1188.0,501.8L1188.5,521.7L1188.9,524.0L1189.3,501.5L1189.8,524.7L1190.2,521.1L1190.6,501.9L1191.1,527.0L1191.5,518.2L1192.0,502.7L1192.4,528.7L1192.8,515.8L1193.3,503.8L1193.7,529.7L1194.1,513.7L1194.6,505.0L1195.0,530.4L1195.5,512.1L1195.9,506.0L1196.3,530.7L1196.8,510.9L1197.2,506.8L1197.6,530.9L1198.1,510.1L1198.5,507.3L1198.9,531.0L1199.4,509.8L1199.8,507.5L1200.3,531.1L1200.7,509.8L1201.1,507.4L1201.6,531.1L1202.0,510.2L1202.4,506.9L1202.9,531.0L1203.3,511.0L1203.8,506.1L1204.2,530.8L1204.6,512.2L1205.1,505.0L1205.5,530.4L1205.9,513.9L1206.4,503.8L1206.8,529.6L1207.2,516.0L1207.7,502.6L1208.1,528.3L1208.6,518.6L1209.0,501.6L1209.4,526.4L1209.9,521.5L1210.3,501.0L1210.7,523.7L1211.2,524.6L1211.6,501.1L1212.1,520.3L1212.5,527.6L1212.9,502.2L1213.4,516.1L1213.8,530.0L1214.2,504.5L1214.7,511.6L1215.1,531.4L1215.6,508.3L1216.0,507.0L1216.4,531.2L1216.9,513.2L1217.3,503.3L1217.7,528.9L1218.2,519.0L1218.6,501.0L1219.0,524.6L1219.5,524.8L1219.9,501.1L1220.4,518.5L1220.8,529.5L1221.2,503.9L1221.7,511.5L1222.1,531.7L1222.5,509.5L1223.0,505.2L1223.4,530.4L1223.9,517.1L1224.3,501.2L1224.7,525.3L1225.2,524.9L1225.6,501.0L1226.0,517.3L1226.5,530.5L1226.9,505.4L1227.4,508.6L1227.8,531.6L1228.2,513.6L1228.7,502.1L1229.1,527.2L1229.5,523.2L1230.0,500.6L1230.4,518.3L1230.8,530.4L1231.3,505.3L1231.7,508.1L1232.2,531.6L1232.6,515.1L1233.0,501.2L1233.5,525.4L1233.9,525.8L1234.3,501.4L1234.8,514.3L1235.2,531.9L1235.7,509.3L1236.1,503.9L1236.5,529.2L1237.0,521.5L1237.4,500.2L1237.8,518.5L1238.3,530.9L1238.7,506.3L1239.2,506.0L1239.6,530.8L1240.0,519.1L1240.5,500.0L1240.9,520.3L1241.3,530.3L1241.8,505.4L1242.2,506.5L1242.6,531.0L1243.1,519.1L1243.5,499.9L1244.0,519.7L1244.4,530.9L1244.8,506.4L1245.3,505.1L1245.7,530.1L1246.1,521.6L1246.6,500.0L1247.0,516.5L1247.5,532.2L1247.9,509.7L1248.3,502.3L1248.8,527.3L1249.2,526.1L1249.6,501.5L1250.1,510.8L1250.5,532.5L1251.0,516.0L1251.4,499.8L1251.8,521.0L1252.3,531.0L1252.7,506.6L1253.1,503.9L1253.6,529.0L1254.0,524.7L1254.4,500.9L1254.9,511.3L1255.3,532.7L1255.8,516.5L1256.2,499.5L1256.6,519.4L1257.1,532.1L1257.5,509.0L1257.9,501.7L1258.4,526.2L1258.8,528.4L1259.3,503.4L1259.7,506.1L1260.1,530.7L1260.6,523.3L1261.0,500.3L1261.4,511.4L1261.9,532.8L1262.3,518.0L1262.7,499.1L1263.2,516.4L1263.6,533.2L1264.1,513.3L1264.5,499.4L1264.9,520.7L1265.4,532.4L1265.8,509.6L1266.2,500.5L1266.7,523.9L1267.1,531.1L1267.6,506.9L1268.0,501.8L1268.4,526.2L1268.9,529.8L1269.3,505.1L1269.7,502.9L1270.2,527.7L1270.6,528.8L1271.1,504.0L1271.5,503.6L1271.9,528.4L1272.4,528.4L1272.8,503.7L1273.2,503.7L1273.7,528.4L1274.1,528.7L1274.5,503.9L1275.0,503.1L1275.4,527.8L1275.9,529.5L1276.3,504.8L1276.7,502.1L1277.2,526.5L1277.6,530.8L1278.0,506.6L1278.5,500.7L1278.9,524.2L1279.4,532.3L1279.8,509.3L1280.2,499.2L1280.7,520.9L1281.1,533.7L1281.5,513.1L1282.0,498.2L1282.4,516.4L1282.9,534.2L1283.3,518.1L1283.7,498.4L1284.2,511.1L1284.6,533.1L1285.0,523.8L1285.5,500.5L1285.9,505.3L1286.3,529.8L1286.8,529.4L1287.2,505.0L1287.7,500.4L1288.1,523.7L1288.5,533.6L1289.0,512.2L1289.4,497.8L1289.8,515.4L1290.3,534.4L1290.7,521.1L1291.2,499.2L1291.6,506.4L1292.0,530.5L1292.5,529.7L1292.9,505.4L1293.3,499.4L1293.8,521.7L1294.2,534.6L1294.6,515.9L1295.1,497.6L1295.5,510.1L1296.0,532.8L1296.4,527.5L1296.8,503.2L1297.3,500.2L1297.7,523.3L1298.1,534.7L1298.6,515.4L1299.0,497.4L1299.5,509.5L1299.9,532.5L1300.3,528.9L1300.8,504.7L1301.2,498.7L1301.6,520.3L1302.1,535.4L1302.5,519.7L1303.0,498.4L1303.4,504.7L1303.8,528.8L1304.3,533.1L1304.7,510.8L1305.1,496.7L1305.6,512.2L1306.0,533.8L1306.4,528.2L1306.9,504.1L1307.3,498.1L1307.8,519.0L1308.2,535.7L1308.6,522.7L1309.1,499.9L1309.5,500.9L1309.9,524.3L1310.4,535.7L1310.8,518.1L1311.3,497.7L1311.7,503.8L1312.1,527.8L1312.6,535.0L1313.0,514.8L1313.4,496.6L1313.9,505.9L1314.3,529.7L1314.8,534.3L1315.2,513.0L1315.6,496.2L1316.1,506.8L1316.5,530.4L1316.9,534.2L1317.4,512.8L1317.8,496.0L1318.2,506.3L1318.7,530.0L1319.1,534.9L1319.6,514.2L1320.0,496.2L1320.4,504.4L1320.9,528.2L1321.3,536.0L1321.7,517.3L1322.2,497.1L1322.6,501.4L1323.1,524.7L1323.5,537.0L1323.9,522.0L1324.4,499.5L1324.8,498.0L1325.2,519.2L1325.7,536.8L1326.1,528.0L1326.6,504.3L1327.0,495.3L1327.4,511.8L1327.9,533.8L1328.3,533.9L1328.7,512.0L1329.2,495.2L1329.6,503.4L1330.0,526.9L1330.5,537.6L1330.9,522.2L1331.4,499.7L1331.8,496.4L1332.2,516.1L1332.7,536.0L1333.1,532.5L1333.5,509.8L1334.0,494.5L1334.4,503.6L1334.9,527.1L1335.3,538.1L1335.7,523.9L1336.2,500.9L1336.6,494.9L1337.0,512.1L1337.5,534.0L1337.9,536.0L1338.3,515.8L1338.8,496.1L1339.2,497.8L1339.7,519.1L1340.1,537.4L1340.5,532.6L1341.0,510.1L1341.4,494.0L1341.8,500.9L1342.3,523.6L1342.7,538.8L1343.2,530.0L1343.6,506.9L1344.0,493.3L1344.5,502.6L1344.9,525.6L1345.3,539.3L1345.8,529.2L1346.2,506.1L1346.7,492.9L1347.1,502.2L1347.5,525.2L1348.0,539.5L1348.4,530.6L1348.8,507.7L1349.3,492.9L1349.7,499.9L1350.1,522.2L1350.6,539.0L1351.0,533.9L1351.5,512.0L1351.9,494.1L1352.3,496.1L1352.8,516.3L1353.2,536.6L1353.6,538.1L1354.1,519.4L1354.5,497.9L1355.0,492.5L1355.4,507.6L1355.8,530.4L1356.3,540.8L1356.7,529.2L1357.1,506.3L1357.6,491.9L1358.0,497.8L1358.5,519.1L1358.9,538.2L1359.3,538.4L1359.8,519.7L1360.2,498.1L1360.6,491.2L1361.1,504.3L1361.5,527.1L1361.9,541.2L1362.4,534.7L1362.8,513.1L1363.3,494.1L1363.7,492.2L1364.1,508.6L1364.6,531.2L1365.0,542.1L1365.4,532.6L1365.9,510.4L1366.3,492.7L1366.8,492.3L1367.2,509.5L1367.6,531.8L1368.1,542.6L1368.5,533.4L1368.9,511.5L1369.4,493.1L1369.8,490.9L1370.3,506.4L1370.7,529.0L1371.1,542.6L1371.6,537.2L1372.0,516.9L1372.4,496.2L1372.9,489.0L1373.3,499.9L1373.7,521.8L1374.2,540.1L1374.6,542.2L1375.1,526.5L1375.5,504.1L1375.9,489.5L1376.4,491.8L1376.8,509.5L1377.2,531.7L1377.7,544.0L1378.1,538.3L1378.6,518.4L1379.0,497.3L1379.4,487.6L1379.9,495.0L1380.3,515.1L1380.7,536.1L1381.2,545.1L1381.6,536.4L1382.0,515.5L1382.5,495.2L1382.9,486.8L1383.4,494.9L1383.8,515.0L1384.2,536.1L1384.7,545.8L1385.1,538.5L1385.5,518.5L1386.0,497.4L1386.4,486.4L1386.9,491.1L1387.3,509.0L1387.7,531.0L1388.2,545.3L1388.6,543.8L1389.0,527.6L1389.5,505.5L1389.9,488.9L1390.4,485.8L1390.8,497.6L1391.2,518.6L1391.7,538.8L1392.1,547.7L1392.5,540.7L1393.0,521.6L1393.4,500.0L1393.8,486.1L1394.3,485.9L1394.7,499.4L1395.2,520.8L1395.6,540.3L1396.0,548.8L1396.5,542.0L1396.9,523.3L1397.3,501.6L1397.8,486.3L1398.2,483.6L1398.7,494.5L1399.1,514.6L1399.5,535.7L1400.0,548.6L1400.4,547.6L1400.8,533.2L1401.3,511.8L1401.7,492.3L1402.2,482.2L1402.6,485.0L1403.0,499.8L1403.5,521.1L1403.9,540.8L1404.3,551.0L1404.8,547.5L1405.2,531.9L1405.6,510.5L1406.1,491.2L1406.5,480.9L1407.0,482.8L1407.4,496.2L1407.8,516.7L1408.3,537.4L1408.7,550.8L1409.1,551.9L1409.6,540.4L1410.0,520.7L1410.5,499.5L1410.9,483.8L1411.3,478.3L1411.8,484.5L1412.2,500.5L1412.6,521.6L1413.1,541.4L1413.5,553.4L1414.0,553.6L1414.4,542.0L1414.8,522.6L1415.3,501.4L1415.7,484.5L1416.1,476.5L1416.6,479.3L1417.0,492.1L1417.4,511.7L1417.9,532.8L1418.3,549.7L1418.8,557.3L1419.2,553.4L1419.6,539.4L1420.1,519.2L1420.5,498.4L1420.9,482.1L1421.4,474.0L1421.8,475.9L1422.3,487.3L1422.7,505.6L1423.1,526.7L1423.6,545.6L1424.0,557.7L1424.4,559.9L1424.9,551.6L1425.3,535.1L1425.8,514.4L1426.2,494.2L1426.6,478.7L1427.1,470.8L1427.5,472.0L1427.9,481.9L1428.4,498.7L1428.8,519.3L1429.2,539.6L1429.7,555.5L1430.1,563.6L1430.6,562.2L1431.0,551.6L1431.4,534.3L1431.9,513.7L1432.3,493.6L1432.7,477.5L1433.2,467.8L1433.6,466.1L1434.1,472.4L1434.5,485.8L1434.9,504.2L1435.4,524.9L1435.8,544.6L1436.2,559.9L1436.7,568.3L1437.1,568.3L1437.5,560.0L1438.0,544.8L1438.4,525.4L1438.9,504.7L1439.3,485.8L1439.7,470.9L1440.2,461.8L1440.6,459.6L1441.0,464.4L1441.5,475.6L1441.9,491.9L1442.4,511.5L1442.8,532.0L1443.2,551.0L1443.7,565.9L1444.1,575.0L1444.5,576.9L1445.0,571.5L1445.4,559.5L1445.9,542.6L1446.3,522.9L1446.7,502.5L1447.2,483.6L1447.6,467.8L1448.0,456.5L1448.5,450.5L1448.9,450.2L1449.3,455.7L1449.8,466.4L1450.2,481.4L1450.7,499.6L1451.1,519.6L1451.5,539.8L1452.0,558.3L1452.4,573.7L1452.8,584.5L1453.3,589.8L1453.7,589.1L1454.2,582.6L1454.6,570.9L1455.0,555.1L1455.5,536.5L1455.9,516.5L1456.3,496.6L1456.8,477.8L1457.2,461.3L1457.7,447.9L1458.1,438.1L1458.5,432.3L1459.0,430.8L1459.4,433.5L1459.8,440.2L1460.3,450.6L1460.7,464.3L1461.1,480.7L1461.6,499.0L1462.0,518.6L1462.5,538.5L1462.9,557.9L1463.3,576.0L1463.8,591.8L1464.2,604.8L1464.6,614.1L1465.1,619.5L1465.5,620.7L1466.0,617.8L1466.4,610.8L1466.8,600.3L1467.3,586.7L1467.7,570.7L1468.1,552.8L1468.6,533.8L1469.0,514.2L1469.5,494.5L1469.9,475.3L1470.3,456.9L1470.8,439.7L1471.2,424.0L1471.6,409.9L1472.1,397.7L1472.5,387.5L1472.9,379.2L1473.4,373.1L1473.8,369.0L1474.3,367.0L1474.7,367.0L1475.1,368.9L1475.6,372.7L1476.0,378.2L1476.4,385.5L1476.9,394.3L1477.3,404.5L1477.8,416.1L1478.2,428.9L1478.6,442.9L1479.1,457.8L1479.5,473.5L1479.9,490.1L1480.4,507.3L1480.8,525.0L1481.2,543.2L1481.7,561.8L1482.1,580.7L1482.6,599.7L1483.0,618.9L1483.4,638.1L1483.9,657.3L1484.3,676.5L1484.7,695.5L1485.2,714.3L1485.6,732.9L1486.1,751.3L1486.5,769.4L1486.9,787.2L1487.4,804.6L1487.8,821.6L1488.2,838.3L1488.7,854.6L1489.1,870.4L1489.6,885.9L1490.0,900.9L1490.4,915.5L1490.9,929.7L1491.3,943.4L1491.7,956.7L1492.2,969.6L1492.6,982.0L1493.0,994.0L1493.5,1005.6L1493.9,1016.8L1494.4,1027.7L1494.8,1038.1L1495.2,1048.1L1495.7,1057.8L1496.1,1067.1L1496.5,1076.1L1497.0,1084.7L1497.4,1093.1L1497.9,1101.0L1498.3,1108.7L1498.7,1116.1L1499.2,1123.2L1499.6,1130.1L1500.0,1136.6L1500.5,1142.9L1500.9,1149.0L1501.4,1154.9L1501.8,1160.5L1502.2,1165.9L1502.7,1171.0L1503.1,1176.0L1503.5,1180.8L1504.0,1185.4L1504.4,1189.9L1504.8,1194.2L1505.3,1198.3L1505.7,1202.2L1506.2,1206.0L1506.6,1209.7L1507.0,1213.2L1507.5,1216.6L1507.9,1219.9L1508.3,1223.1L1508.8,1226.1L1509.2,1229.1L1509.7,1231.9L1510.1,1234.7L1510.5,1237.3L1511.0,1239.9L1511.4,1242.4L1511.8,1244.8L1512.3,1247.1L1512.7,1249.3L1513.1,1251.5L1513.6,1253.5L1514.0,1255.6L1514.5,1257.5L1514.9,1259.4L1515.3,1261.3L1515.8,1263.1L1516.2,1264.8L1516.6,1266.5L1517.1,1268.1L1517.5,1269.7L1518.0,1271.2L1518.4,1272.7L1518.8,1274.2L1519.3,1275.6L1519.7,1276.9L1520.1,1278.3L1520.6,1279.6L1521.0,1280.8L1521.5,1282.1L1521.9,1283.2L1522.3,1284.4L1522.8,1285.5L1523.2,1286.6L1523.6,1287.7L1524.1,1288.8L1524.5,1289.8L1524.9,1290.8L1525.4,1291.8L1525.8,1292.7L1526.3,1293.6L1526.7,1294.6L1527.1,1295.4L1527.6,1296.3L1528.0,1297.1L1528.4,1298.0L1528.9,1298.8L1529.3,1299.6L1529.8,1300.3L1530.2,1301.1L1530.6,1301.8L1531.1,1302.6L1531.5,1303.3L1531.9,1304.0L1532.4,1304.6L1532.8,1305.3L1533.3,1306.0L1533.7,1306.6L1534.1,1307.2L1534.6,1307.8L1535.0,1308.4L1535.4,1309.0L1535.9,1309.6L1536.3,1310.2L1536.7,1310.7L1537.2,1311.3L1537.6,1311.8L1538.1,1312.3L1538.5,1312.9L1538.9,1313.4L1539.4,1313.9L1539.8,1314.4L1540.2,1314.8L1540.7,1315.3L1541.1,1315.8L1541.6,1316.2L1542.0,1316.7L1542.4,1317.1L1542.9,1317.6L1543.3,1318.0L1543.7,1318.4L1544.2,1318.8L1544.6,1319.2L1545.1,1319.6L1545.5,1320.0L1545.9,1320.4L1546.4,1320.8L1546.8,1321.2L1547.2,1321.5L1547.7,1321.9L1548.1,1322.3L1548.5,1322.6L1549.0,1323.0L1549.4,1323.3L1549.9,1323.6L1550.3,1324.0L1550.7,1324.3L1551.2,1324.6L1551.6,1324.9L1552.0,1325.2L1552.5,1325.6L1552.9,1325.9L1553.4,1326.2L1553.8,1326.5L1554.2,1326.7L1554.7,1327.0L1555.1,1327.3L1555.5,1327.6L1556.0,1327.9L1556.4,1328.2L1556.8,1328.4L1557.3,1328.7L1557.7,1328.9L1558.2,1329.2L1558.6,1329.5L1559.0,1329.7L1559.5,1330.0L1559.9,1330.2L1560.3,1330.5L1560.8,1330.7L1561.2,1330.9L1561.7,1331.2L1562.1,1331.4L1562.5,1331.6L1563.0,1331.8L1563.4,1332.1L1563.8,1332.3L1564.3,1332.5L1564.7,1332.7L1565.2,1332.9L1565.6,1333.1L1566.0,1333.3L1566.5,1333.6L1566.9,1333.8L1567.3,1334.0L1567.8,1334.2L1568.2,1334.3L1568.6,1334.5L1569.1,1334.7L1569.5,1334.9L1570.0,1335.1L1570.4,1335.3L1570.8,1335.5L1571.3,1335.7L1571.7,1335.8L1572.1,1336.0L1572.6,1336.2L1573.0,1336.4L1573.5,1336.5L1573.9,1336.7L1574.3,1336.9L1574.8,1337.0L1575.2,1337.2L1575.6,1337.4L1576.1,1337.5L1576.5,1337.7L1577.0,1337.8L1577.4,1338.0L1577.8,1338.2L1578.3,1338.3L1578.7,1338.5L1579.1,1338.6L1579.6,1338.8L1580.0,1338.9L1580.4,1339.0L1580.9,1339.2L1581.3,1339.3L1581.8,1339.5L1582.2,1339.6L1582.6,1339.8L1583.1,1339.9L1583.5,1340.0L1583.9,1340.2L1584.4,1340.3L1584.8,1340.4L1585.3,1340.6L1585.7,1340.7L1586.1,1340.8L1586.6,1340.9L1587.0,1341.1L1587.4,1341.2L1587.9,1341.3L1588.3,1341.4L1588.8,1341.6L1589.2,1341.7L1589.6,1341.8L1590.1,1341.9L1590.5,1342.0L1590.9,1342.2L1591.4,1342.3L1591.8,1342.4L1592.2,1342.5L1592.7,1342.6L1593.1,1342.7L1593.6,1342.8L1594.0,1342.9L1594.4,1343.1L1594.9,1343.2L1595.3,1343.3L1595.7,1343.4L1596.2,1343.5L1596.6,1343.6L1597.1,1343.7L1597.5,1343.8L1597.9,1343.9L1598.4,1344.0L1598.8,1344.1L1599.2,1344.2L1599.7,1344.3L1600.1,1344.4L1600.5,1344.5L1601.0,1344.6L1601.4,1344.7L1601.9,1344.8L1602.3,1344.9L1602.7,1345.0L1603.2,1345.1L1603.6,1345.1L1604.0,1345.2L1604.5,1345.3L1604.9,1345.4L1605.4,1345.5L1605.8,1345.6L1606.2,1345.7L1606.7,1345.8L1607.1,1345.9L1607.5,1345.9L1608.0,1346.0L1608.4,1346.1L1608.9,1346.2L1609.3,1346.3L1609.7,1346.4L1610.2,1346.4L1610.6,1346.5L1611.0,1346.6L1611.5,1346.7L1611.9,1346.8L1612.3,1346.8L1612.8,1346.9L1613.2,1347.0L1613.7,1347.1L1614.1,1347.2L1614.5,1347.2L1615.0,1347.3L1615.4,1347.4L1615.8,1347.5L1616.3,1347.5L1616.7,1347.6L1617.2,1347.7L1617.6,1347.8L1618.0,1347.8L1618.5,1347.9L1618.9,1348.0L1619.3,1348.0L1619.8,1348.1L1620.2,1348.2L1620.7,1348.3L1621.1,1348.3L1621.5,1348.4L1622.0,1348.5L1622.4,1348.5L1622.8,1348.6L1623.3,1348.7L1623.7,1348.7L1624.1,1348.8L1624.6,1348.9L1625.0,1348.9L1625.5,1349.0L1625.9,1349.0L1626.3,1349.1L1626.8,1349.2L1627.2,1349.2L1627.6,1349.3L1628.1,1349.4L1628.5,1349.4L1629.0,1349.5L1629.4,1349.5L1629.8,1349.6L1630.3,1349.7L1630.7,1349.7L1631.1,1349.8L1631.6,1349.8L1632.0,1349.9L1632.5,1350.0L1632.9,1350.0L1633.3,1350.1L1633.8,1350.1L1634.2,1350.2L1634.6,1350.2L1635.1,1350.3L1635.5,1350.4L1635.9,1350.4L1636.4,1350.5L1636.8,1350.5L1637.3,1350.6L1637.7,1350.6L1638.1,1350.7L1638.6,1350.7L1639.0,1350.8L1639.4,1350.9L1639.9,1350.9L1640.3,1351.0L1640.8,1351.0L1641.2,1351.1L1641.6,1351.1L1642.1,1351.2L1642.5,1351.2L1642.9,1351.3L1643.4,1351.3L1643.8,1351.4L1644.2,1351.4L1644.7,1351.5L1645.1,1351.5L1645.6,1351.6L1646.0,1351.6L1646.4,1351.7L1646.9,1351.7L1647.3,1351.8L1647.7,1351.8L1648.2,1351.9L1648.6,1351.9L1649.1,1351.9L1649.5,1352.0L1649.9,1352.0L1650.4,1352.1L1650.8,1352.1L1651.2,1352.2L1651.7,1352.2L1652.1,1352.3L1652.6,1352.3L1653.0,1352.4L1653.4,1352.4L1653.9,1352.4L1654.3,1352.5L1654.7,1352.5L1655.2,1352.6L1655.6,1352.6L1656.0,1352.7L1656.5,1352.7L1656.9,1352.7L1657.4,1352.8L1657.8,1352.8L1658.2,1352.9L1658.7,1352.9L1659.1,1353.0L1659.5,1353.0L1660.0,1353.0L1660.4,1353.1L1660.9,1353.1L1661.3,1353.2L1661.7,1353.2L1662.2,1353.2L1662.6,1353.3L1663.0,1353.3L1663.5,1353.4L1663.9,1353.4L1664.4,1353.4L1664.8,1353.5L1665.2,1353.5L1665.7,1353.6L1666.1,1353.6L1666.5,1353.6L1667.0,1353.7L1667.4,1353.7L1667.8,1353.7L1668.3,1353.8L1668.7,1353.8L1669.2,1353.9L1669.6,1353.9L1670.0,1353.9L1670.5,1354.0L1670.9,1354.0L1671.3,1354.0L1671.8,1354.1L1672.2,1354.1L1672.7,1354.2L1673.1,1354.2L1673.5,1354.2L1674.0,1354.3L1674.4,1354.3L1674.8,1354.3L1675.3,1354.4L1675.7,1354.4L1676.2,1354.4L1676.6,1354.5L1677.0,1354.5L1677.5,1354.5L1677.9,1354.6L1678.3,1354.6L1678.8,1354.6L1679.2,1354.7L1679.6,1354.7L1680.1,1354.7L1680.5,1354.8L1681.0,1354.8L1681.4,1354.8L1681.8,1354.9L1682.3,1354.9L1682.7,1354.9L1683.1,1355.0L1683.6,1355.0L1684.0,1355.0L1684.5,1355.1L1684.9,1355.1L1685.3,1355.1L1685.8,1355.2L1686.2,1355.2L1686.6,1355.2L1687.1,1355.2L1687.5,1355.3L1688.0,1355.3L1688.4,1355.3L1688.8,1355.4L1689.3,1355.4L1689.7,1355.4L1690.1,1355.5L1690.6,1355.5L1691.0,1355.5L1691.4,1355.5L1691.9,1355.6L1692.3,1355.6L1692.8,1355.6L1693.2,1355.7L1693.6,1355.7L1694.1,1355.7L1694.5,1355.8L1694.9,1355.8L1695.4,1355.8L1695.8,1355.8L1696.3,1355.9L1696.7,1355.9L1697.1,1355.9L1697.6,1356.0L1698.0,1356.0L1698.4,1356.0L1698.9,1356.0L1699.3,1356.1L1699.7,1356.1L1700.2,1356.1L1700.6,1356.1L1701.1,1356.2L1701.5,1356.2L1701.9,1356.2L1702.4,1356.3L1702.8,1356.3L1703.2,1356.3L1703.7,1356.3L1704.1,1356.4L1704.6,1356.4L1705.0,1356.4L1705.4,1356.4L1705.9,1356.5L1706.3,1356.5L1706.7,1356.5L1707.2,1356.5L1707.6,1356.6L1708.1,1356.6L1708.5,1356.6L1708.9,1356.6L1709.4,1356.7L1709.8,1356.7L1710.2,1356.7L1710.7,1356.7L1711.1,1356.8L1711.5,1356.8L1712.0,1356.8L1712.4,1356.8L1712.9,1356.9L1713.3,1356.9L1713.7,1356.9L1714.2,1356.9L1714.6,1357.0L1715.0,1357.0L1715.5,1357.0L1715.9,1357.0L1716.4,1357.1L1716.8,1357.1L1717.2,1357.1L1717.7,1357.1L1718.1,1357.2L1718.5,1357.2L1719.0,1357.2L1719.4,1357.2L1719.9,1357.3L1720.3,1357.3L1720.7,1357.3L1721.2,1357.3L1721.6,1357.3L1722.0,1357.4L1722.5,1357.4L1722.9,1357.4L1723.3,1357.4L1723.8,1357.5L1724.2,1357.5L1724.7,1357.5L1725.1,1357.5L1725.5,1357.5L1726.0,1357.6L1726.4,1357.6L1726.8,1357.6L1727.3,1357.6L1727.7,1357.7L1728.2,1357.7L1728.6,1357.7L1729.0,1357.7L1729.5,1357.7L1729.9,1357.8L1730.3,1357.8L1730.8,1357.8L1731.2,1357.8L1731.6,1357.8L1732.1,1357.9L1732.5,1357.9L1733.0,1357.9L1733.4,1357.9L1733.8,1358.0L1734.3,1358.0L1734.7,1358.0L1735.1,1358.0L1735.6,1358.0L1736.0,1358.1L1736.5,1358.1L1736.9,1358.1L1737.3,1358.1L1737.8,1358.1L1738.2,1358.2L1738.6,1358.2L1739.1,1358.2L1739.5,1358.2L1740.0,1358.2L1740.4,1358.3L1740.8,1358.3L1741.3,1358.3L1741.7,1358.3L1742.1,1358.3L1742.6,1358.4L1743.0,1358.4L1743.4,1358.4L1743.9,1358.4L1744.3,1358.4L1744.8,1358.5L1745.2,1358.5L1745.6,1358.5L1746.1,1358.5L1746.5,1358.5L1746.9,1358.6L1747.4,1358.6L1747.8,1358.6L1748.3,1358.6L1748.7,1358.6L1749.1,1358.6L1749.6,1358.7L1750.0,1358.7L1750.4,1358.7L1750.9,1358.7L1751.3,1358.7L1751.8,1358.8L1752.2,1358.8L1752.6,1358.8L1753.1,1358.8L1753.5,1358.8L1753.9,1358.8L1754.4,1358.9L1754.8,1358.9L1755.2,1358.9L1755.7,1358.9L1756.1,1358.9L1756.6,1359.0L1757.0,1359.0L1757.4,1359.0L1757.9,1359.0L1758.3,1359.0L1758.7,1359.0L1759.2,1359.1L1759.6,1359.1L1760.1,1359.1L1760.5,1359.1L1760.9,1359.1L1761.4,1359.1L1761.8,1359.2L1762.2,1359.2L1762.7,1359.2L1763.1,1359.2L1763.6,1359.2L1764.0,1359.3L1764.4,1359.3L1764.9,1359.3L1765.3,1359.3L1765.7,1359.3L1766.2,1359.3L1766.6,1359.4L1767.0,1359.4L1767.5,1359.4L1767.9,1359.4L1768.4,1359.4L1768.8,1359.4L1769.2,1359.5L1769.7,1359.5L1770.1,1359.5L1770.5,1359.5L1771.0,1359.5L1771.4,1359.5L1771.9,1359.6L1772.3,1359.6L1772.7,1359.6L1773.2,1359.6L1773.6,1359.6L1774.0,1359.6L1774.5,1359.7L1774.9,1359.7L1775.3,1359.7L1775.8,1359.7L1776.2,1359.7L1776.7,1359.7L1777.1,1359.7L1777.5,1359.8L1778.0,1359.8L1778.4,1359.8L1778.8,1359.8L1779.3,1359.8L1779.7,1359.8L1780.2,1359.9L1780.6,1359.9L1781.0,1359.9L1781.5,1359.9L1781.9,1359.9L1782.3,1359.9L1782.8,1359.9L1783.2,1360.0L1783.7,1360.0L1784.1,1360.0L1784.5,1360.0L1785.0,1360.0L1785.4,1360.0L1785.8,1360.1L1786.3,1360.1L1786.7,1360.1L1787.1,1360.1L1787.6,1360.1L1788.0,1360.1L1788.5,1360.1L1788.9,1360.2L1789.3,1360.2L1789.8,1360.2L1790.2,1360.2L1790.6,1360.2L1791.1,1360.2L1791.5,1360.2L1792.0,1360.3L1792.4,1360.3L1792.8,1360.3L1793.3,1360.3L1793.7,1360.3L1794.1,1360.3L1794.6,1360.4L1795.0,1360.4L1795.5,1360.4L1795.9,1360.4L1796.3,1360.4L1796.8,1360.4L1797.2,1360.4L1797.6,1360.5L1798.1,1360.5L1798.5,1360.5L1798.9,1360.5L1799.4,1360.5L1799.8,1360.5L1800.3,1360.5L1800.7,1360.6L1801.1,1360.6L1801.6,1360.6L1802.0,1360.6L1802.4,1360.6L1802.9,1360.6L1803.3,1360.6L1803.8,1360.6L1804.2,1360.7L1804.6,1360.7L1805.1,1360.7L1805.5,1360.7L1805.9,1360.7L1806.4,1360.7L1806.8,1360.7L1807.3,1360.8L1807.7,1360.8L1808.1,1360.8L1808.6,1360.8L1809.0,1360.8L1809.4,1360.8L1809.9,1360.8L1810.3,1360.9L1810.7,1360.9L1811.2,1360.9L1811.6,1360.9L1812.1,1360.9L1812.5,1360.9L1812.9,1360.9L1813.4,1360.9L1813.8,1361.0L1814.2,1361.0L1814.7,1361.0L1815.1,1361.0L1815.6,1361.0L1816.0,1361.0L1816.4,1361.0L1816.9,1361.1L1817.3,1361.1L1817.7,1361.1L1818.2,1361.1L1818.6,1361.1L1819.0,1361.1L1819.5,1361.1L1819.9,1361.1L1820.4,1361.2L1820.8,1361.2L1821.2,1361.2L1821.7,1361.2L1822.1,1361.2L1822.5,1361.2L1823.0,1361.2L1823.4,1361.2L1823.9,1361.3L1824.3,1361.3L1824.7,1361.3L1825.2,1361.3L1825.6,1361.3L1826.0,1361.3L1826.5,1361.3L1826.9,1361.4L1827.4,1361.4L1827.8,1361.4L1828.2,1361.4L1828.7,1361.4L1829.1,1361.4L1829.5,1361.4L1830.0,1361.4L1830.4,1361.5L1830.8,1361.5L1831.3,1361.5L1831.7,1361.5L1832.2,1361.5L1832.6,1361.5L1833.0,1361.5L1833.5,1361.5L1833.9,1361.6L1834.3,1361.6L1834.8,1361.6L1835.2,1361.6L1835.7,1361.6L1836.1,1361.6L1836.5,1361.6L1837.0,1361.6L1837.4,1361.6L1837.8,1361.7L1838.3,1361.7L1838.7,1361.7L1839.2,1361.7L1839.6,1361.7L1840.0,1361.7L1840.5,1361.7L1840.9,1361.7L1841.3,1361.8L1841.8,1361.8L1842.2,1361.8L1842.6,1361.8L1843.1,1361.8L1843.5,1361.8L1844.0,1361.8L1844.4,1361.8L1844.8,1361.9L1845.3,1361.9L1845.7,1361.9L1846.1,1361.9L1846.6,1361.9L1847.0,1361.9L1847.5,1361.9L1847.9,1361.9L1848.3,1361.9L1848.8,1362.0L1849.2,1362.0L1849.6,1362.0L1850.1,1362.0L1850.5,1362.0L1851.0,1362.0L1851.4,1362.0L1851.8,1362.0L1852.3,1362.1L1852.7,1362.1L1853.1,1362.1L1853.6,1362.1L1854.0,1362.1L1854.4,1362.1L1854.9,1362.1L1855.3,1362.1L1855.8,1362.1L1856.2,1362.2L1856.6,1362.2L1857.1,1362.2L1857.5,1362.2L1857.9,1362.2L1858.4,1362.2L1858.8,1362.2L1859.3,1362.2L1859.7,1362.2L1860.1,1362.3L1860.6,1362.3L1861.0,1362.3L1861.4,1362.3L1861.9,1362.3L1862.3,1362.3L1862.8,1362.3L1863.2,1362.3L1863.6,1362.4L1864.1,1362.4L1864.5,1362.4L1864.9,1362.4L1865.4,1362.4L1865.8,1362.4L1866.2,1362.4L1866.7,1362.4L1867.1,1362.4L1867.6,1362.5L1868.0,1362.5L1868.4,1362.5L1868.9,1362.5L1869.3,1362.5L1869.7,1362.5L1870.2,1362.5L1870.6,1362.5L1871.1,1362.5L1871.5,1362.6L1871.9,1362.6L1872.4,1362.6L1872.8,1362.6L1873.2,1362.6L1873.7,1362.6L1874.1,1362.6L1874.5,1362.6L1875.0,1362.6L1875.4,1362.7L1875.9,1362.7L1876.3,1362.7L1876.7,1362.7L1877.2,1362.7L1877.6,1362.7L1878.0,1362.7L1878.5,1362.7L1878.9,1362.7L1879.4,1362.8L1879.8,1362.8L1880.2,1362.8L1880.7,1362.8L1881.1,1362.8L1881.5,1362.8L1882.0,1362.8L1882.4,1362.8L1882.9,1362.8L1883.3,1362.9L1883.7,1362.9L1884.2,1362.9L1884.6,1362.9L1885.0,1362.9L1885.5,1362.9L1885.9,1362.9L1886.3,1362.9L1886.8,1362.9L1887.2,1363.0L1887.7,1363.0L1888.1,1363.0L1888.5,1363.0L1889.0,1363.0L1889.4,1363.0L1889.8,1363.0L1890.3,1363.0L1890.7,1363.0L1891.2,1363.0L1891.6,1363.1L1892.0,1363.1L1892.5,1363.1L1892.9,1363.1L1893.3,1363.1L1893.8,1363.1L1894.2,1363.1L1894.7,1363.1L1895.1,1363.1L1895.5,1363.2L1896.0,1363.2L1896.4,1363.2L1896.8,1363.2L1897.3,1363.2L1897.7,1363.2L1898.1,1363.2L1898.6,1363.2L1899.0,1363.2L1899.5,1363.3L1899.9,1363.3L1900.3,1363.3L1900.8,1363.3L1901.2,1363.3L1901.6,1363.3L1902.1,1363.3L1902.5,1363.3L1903.0,1363.3L1903.4,1363.3L1903.8,1363.4L1904.3,1363.4L1904.7,1363.4L1905.1,1363.4L1905.6,1363.4L1906.0,1363.4L1906.5,1363.4L1906.9,1363.4L1907.3,1363.4L1907.8,1363.5L1908.2,1363.5L1908.6,1363.5L1909.1,1363.5L1909.5,1363.5L1909.9,1363.5L1910.4,1363.5L1910.8,1363.5L1911.3,1363.5L1911.7,1363.5L1912.1,1363.6L1912.6,1363.6L1913.0,1363.6L1913.4,1363.6L1913.9,1363.6L1914.3,1363.6L1914.8,1363.6L1915.2,1363.6L1915.6,1363.6L1916.1,1363.7L1916.5,1363.7L1916.9,1363.7L1917.4,1363.7L1917.8,1363.7L1918.2,1363.7L1918.7,1363.7L1919.1,1363.7L1919.6,1363.7L1920.0,1363.7L1920.4,1363.8L1920.9,1363.8L1921.3,1363.8L1921.7,1363.8L1922.2,1363.8L1922.6,1363.8L1923.1,1363.8L1923.5,1363.8L1923.9,1363.8L1924.4,1363.9L1924.8,1363.9L1925.2,1363.9L1925.7,1363.9L1926.1,1363.9L1926.6,1363.9L1927.0,1363.9L1927.4,1363.9L1927.9,1363.9L1928.3,1364.0L1929.3,1364.0"/>
<path stroke="#528BD8" d="M180.3,1350.5L180.7,1350.5L181.2,1350.5L181.6,1350.5L182.0,1350.5L182.5,1350.5L182.9,1350.5L183.4,1350.5L183.8,1350.5L184.2,1350.5L184.7,1350.5L185.1,1350.5L185.5,1350.5L186.0,1350.5L186.4,1350.5L186.9,1350.5L187.3,1350.5L187.7,1350.5L188.2,1350.5L188.6,1350.5L189.0,1350.5L189.5,1350.5L189.9,1350.5L190.4,1350.5L190.8,1350.5L191.2,1350.5L191.7,1350.5L192.1,1350.5L192.5,1350.5L193.0,1350.5L193.4,1350.5L193.8,1350.5L194.3,1350.5L194.7,1350.5L195.2,1350.5L195.6,1350.5L196.0,1350.5L196.5,1350.5L196.9,1350.5L197.3,1350.5L197.8,1350.5L198.2,1350.5L198.7,1350.5L199.1,1350.5L199.5,1350.5L200.0,1350.5L200.4,1350.5L200.8,1350.5L201.3,1350.5L201.7,1350.5L202.2,1350.4L202.6,1350.4L203.0,1350.4L203.5,1350.4L203.9,1350.4L204.3,1350.4L204.8,1350.4L205.2,1350.4L205.6,1350.4L206.1,1350.4L206.5,1350.4L207.0,1350.4L207.4,1350.4L207.8,1350.4L208.3,1350.4L208.7,1350.4L209.1,1350.4L209.6,1350.4L210.0,1350.4L210.5,1350.4L210.9,1350.4L211.3,1350.4L211.8,1350.4L212.2,1350.4L212.6,1350.4L213.1,1350.4L213.5,1350.4L213.9,1350.4L214.4,1350.4L214.8,1350.4L215.3,1350.4L215.7,1350.4L216.1,1350.4L216.6,1350.4L217.0,1350.4L217.4,1350.4L217.9,1350.4L218.3,1350.4L218.8,1350.4L219.2,1350.4L219.6,1350.4L220.1,1350.4L220.5,1350.4L220.9,1350.4L221.4,1350.4L221.8,1350.4L222.3,1350.4L222.7,1350.4L223.1,1350.4L223.6,1350.4L224.0,1350.4L224.4,1350.4L224.9,1350.3L225.3,1350.3L225.7,1350.3L226.2,1350.3L226.6,1350.3L227.1,1350.3L227.5,1350.3L227.9,1350.3L228.4,1350.3L228.8,1350.3L229.2,1350.3L229.7,1350.3L230.1,1350.3L230.6,1350.3L231.0,1350.3L231.4,1350.3L231.9,1350.3L232.3,1350.3L232.7,1350.3L233.2,1350.3L233.6,1350.3L234.1,1350.3L234.5,1350.3L234.9,1350.3L235.4,1350.3L235.8,1350.3L236.2,1350.3L236.7,1350.3L237.1,1350.3L237.5,1350.3L238.0,1350.3L238.4,1350.3L238.9,1350.2L239.3,1350.2L239.7,1350.2L240.2,1350.2L240.6,1350.2L241.0,1350.2L241.5,1350.2L241.9,1350.2L242.4,1350.2L242.8,1350.2L243.2,1350.2L243.7,1350.2L244.1,1350.2L244.5,1350.2L245.0,1350.2L245.4,1350.2L245.9,1350.2L246.3,1350.2L246.7,1350.2L247.2,1350.2L247.6,1350.2L248.0,1350.2L248.5,1350.2L248.9,1350.2L249.3,1350.2L249.8,1350.2L250.2,1350.1L250.7,1350.1L251.1,1350.1L251.5,1350.1L252.0,1350.1L252.4,1350.1L252.8,1350.1L253.3,1350.1L253.7,1350.1L254.2,1350.1L254.6,1350.1L255.0,1350.1L255.5,1350.1L255.9,1350.1L256.3,1350.1L256.8,1350.1L257.2,1350.1L257.6,1350.1L258.1,1350.1L258.5,1350.1L259.0,1350.1L259.4,1350.1L259.8,1350.0L260.3,1350.0L260.7,1350.0L261.1,1350.0L261.6,1350.0L262.0,1350.0L262.5,1350.0L262.9,1350.0L263.3,1350.0L263.8,1350.0L264.2,1350.0L264.6,1350.0L265.1,1350.0L265.5,1350.0L266.0,1350.0L266.4,1350.0L266.8,1350.0L267.3,1350.0L267.7,1350.0L268.1,1349.9L268.6,1349.9L269.0,1349.9L269.4,1349.9L269.9,1349.9L270.3,1349.9L270.8,1349.9L271.2,1349.9L271.6,1349.9L272.1,1349.9L272.5,1349.9L272.9,1349.9L273.4,1349.9L273.8,1349.9L274.3,1349.9L274.7,1349.9L275.1,1349.9L275.6,1349.9L276.0,1349.8L276.4,1349.8L276.9,1349.8L277.3,1349.8L277.8,1349.8L278.2,1349.8L278.6,1349.8L279.1,1349.8L279.5,1349.8L279.9,1349.8L280.4,1349.8L280.8,1349.8L281.2,1349.8L281.7,1349.8L282.1,1349.8L282.6,1349.7L283.0,1349.7L283.4,1349.7L283.9,1349.7L284.3,1349.7L284.7,1349.7L285.2,1349.7L285.6,1349.7L286.1,1349.7L286.5,1349.7L286.9,1349.7L287.4,1349.7L287.8,1349.7L288.2,1349.7L288.7,1349.7L289.1,1349.6L289.6,1349.6L290.0,1349.6L290.4,1349.6L290.9,1349.6L291.3,1349.6L291.7,1349.6L292.2,1349.6L292.6,1349.6L293.0,1349.6L293.5,1349.6L293.9,1349.6L294.4,1349.6L294.8,1349.5L295.2,1349.5L295.7,1349.5L296.1,1349.5L296.5,1349.5L297.0,1349.5L297.4,1349.5L297.9,1349.5L298.3,1349.5L298.7,1349.5L299.2,1349.5L299.6,1349.5L300.0,1349.5L300.5,1349.4L300.9,1349.4L301.3,1349.4L301.8,1349.4L302.2,1349.4L302.7,1349.4L303.1,1349.4L303.5,1349.4L304.0,1349.4L304.4,1349.4L304.8,1349.4L305.3,1349.4L305.7,1349.3L306.2,1349.3L306.6,1349.3L307.0,1349.3L307.5,1349.3L307.9,1349.3L308.3,1349.3L308.8,1349.3L309.2,1349.3L309.7,1349.3L310.1,1349.3L310.5,1349.2L311.0,1349.2L311.4,1349.2L311.8,1349.2L312.3,1349.2L312.7,1349.2L313.1,1349.2L313.6,1349.2L314.0,1349.2L314.5,1349.2L314.9,1349.2L315.3,1349.1L315.8,1349.1L316.2,1349.1L316.6,1349.1L317.1,1349.1L317.5,1349.1L318.0,1349.1L318.4,1349.1L318.8,1349.1L319.3,1349.1L319.7,1349.1L320.1,1349.0L320.6,1349.0L321.0,1349.0L321.5,1349.0L321.9,1349.0L322.3,1349.0L322.8,1349.0L323.2,1349.0L323.6,1349.0L324.1,1348.9L324.5,1348.9L324.9,1348.9L325.4,1348.9L325.8,1348.9L326.3,1348.9L326.7,1348.9L327.1,1348.9L327.6,1348.9L328.0,1348.9L328.4,1348.8L328.9,1348.8L329.3,1348.8L329.8,1348.8L330.2,1348.8L330.6,1348.8L331.1,1348.8L331.5,1348.8L331.9,1348.8L332.4,1348.7L332.8,1348.7L333.2,1348.7L333.7,1348.7L334.1,1348.7L334.6,1348.7L335.0,1348.7L335.4,1348.7L335.9,1348.6L336.3,1348.6L336.7,1348.6L337.2,1348.6L337.6,1348.6L338.1,1348.6L338.5,1348.6L338.9,1348.6L339.4,1348.6L339.8,1348.5L340.2,1348.5L340.7,1348.5L341.1,1348.5L341.6,1348.5L342.0,1348.5L342.4,1348.5L342.9,1348.5L343.3,1348.4L343.7,1348.4L344.2,1348.4L344.6,1348.4L345.0,1348.4L345.5,1348.4L345.9,1348.4L346.4,1348.4L346.8,1348.3L347.2,1348.3L347.7,1348.3L348.1,1348.3L348.5,1348.3L349.0,1348.3L349.4,1348.3L349.9,1348.2L350.3,1348.2L350.7,1348.2L351.2,1348.2L351.6,1348.2L352.0,1348.2L352.5,1348.2L352.9,1348.1L353.4,1348.1L353.8,1348.1L354.2,1348.1L354.7,1348.1L355.1,1348.1L355.5,1348.1L356.0,1348.0L356.4,1348.0L356.8,1348.0L357.3,1348.0L357.7,1348.0L358.2,1348.0L358.6,1348.0L359.0,1347.9L359.5,1347.9L359.9,1347.9L360.3,1347.9L360.8,1347.9L361.2,1347.9L361.7,1347.9L362.1,1347.8L362.5,1347.8L363.0,1347.8L363.4,1347.8L363.8,1347.8L364.3,1347.8L364.7,1347.7L365.2,1347.7L365.6,1347.7L366.0,1347.7L366.5,1347.7L366.9,1347.7L367.3,1347.7L367.8,1347.6L368.2,1347.6L368.6,1347.6L369.1,1347.6L369.5,1347.6L370.0,1347.6L370.4,1347.5L370.8,1347.5L371.3,1347.5L371.7,1347.5L372.1,1347.5L372.6,1347.5L373.0,1347.4L373.5,1347.4L373.9,1347.4L374.3,1347.4L374.8,1347.4L375.2,1347.3L375.6,1347.3L376.1,1347.3L376.5,1347.3L377.0,1347.3L377.4,1347.3L377.8,1347.2L378.3,1347.2L378.7,1347.2L379.1,1347.2L379.6,1347.2L380.0,1347.2L380.4,1347.1L380.9,1347.1L381.3,1347.1L381.8,1347.1L382.2,1347.1L382.6,1347.0L383.1,1347.0L383.5,1347.0L383.9,1347.0L384.4,1347.0L384.8,1346.9L385.3,1346.9L385.7,1346.9L386.1,1346.9L386.6,1346.9L387.0,1346.8L387.4,1346.8L387.9,1346.8L388.3,1346.8L388.7,1346.8L389.2,1346.7L389.6,1346.7L390.1,1346.7L390.5,1346.7L390.9,1346.7L391.4,1346.6L391.8,1346.6L392.2,1346.6L392.7,1346.6L393.1,1346.6L393.6,1346.5L394.0,1346.5L394.4,1346.5L394.9,1346.5L395.3,1346.5L395.7,1346.4L396.2,1346.4L396.6,1346.4L397.1,1346.4L397.5,1346.3L397.9,1346.3L398.4,1346.3L398.8,1346.3L399.2,1346.3L399.7,1346.2L400.1,1346.2L400.5,1346.2L401.0,1346.2L401.4,1346.1L401.9,1346.1L402.3,1346.1L402.7,1346.1L403.2,1346.0L403.6,1346.0L404.0,1346.0L404.5,1346.0L404.9,1346.0L405.4,1345.9L405.8,1345.9L406.2,1345.9L406.7,1345.9L407.1,1345.8L407.5,1345.8L408.0,1345.8L408.4,1345.8L408.9,1345.7L409.3,1345.7L409.7,1345.7L410.2,1345.7L410.6,1345.6L411.0,1345.6L411.5,1345.6L411.9,1345.6L412.3,1345.5L412.8,1345.5L413.2,1345.5L413.7,1345.4L414.1,1345.4L414.5,1345.4L415.0,1345.4L415.4,1345.3L415.8,1345.3L416.3,1345.3L416.7,1345.3L417.2,1345.2L417.6,1345.2L418.0,1345.2L418.5,1345.2L418.9,1345.1L419.3,1345.1L419.8,1345.1L420.2,1345.0L420.7,1345.0L421.1,1345.0L421.5,1345.0L422.0,1344.9L422.4,1344.9L422.8,1344.9L423.3,1344.8L423.7,1344.8L424.1,1344.8L424.6,1344.7L425.0,1344.7L425.5,1344.7L425.9,1344.7L426.3,1344.6L426.8,1344.6L427.2,1344.6L427.6,1344.5L428.1,1344.5L428.5,1344.5L429.0,1344.4L429.4,1344.4L429.8,1344.4L430.3,1344.3L430.7,1344.3L431.1,1344.3L431.6,1344.3L432.0,1344.2L432.4,1344.2L432.9,1344.2L433.3,1344.1L433.8,1344.1L434.2,1344.1L434.6,1344.0L435.1,1344.0L435.5,1344.0L435.9,1343.9L436.4,1343.9L436.8,1343.8L437.3,1343.8L437.7,1343.8L438.1,1343.7L438.6,1343.7L439.0,1343.7L439.4,1343.6L439.9,1343.6L440.3,1343.6L440.8,1343.5L441.2,1343.5L441.6,1343.5L442.1,1343.4L442.5,1343.4L442.9,1343.3L443.4,1343.3L443.8,1343.3L444.2,1343.2L444.7,1343.2L445.1,1343.2L445.6,1343.1L446.0,1343.1L446.4,1343.0L446.9,1343.0L447.3,1343.0L447.7,1342.9L448.2,1342.9L448.6,1342.8L449.1,1342.8L449.5,1342.8L449.9,1342.7L450.4,1342.7L450.8,1342.6L451.2,1342.6L451.7,1342.6L452.1,1342.5L452.6,1342.5L453.0,1342.4L453.4,1342.4L453.9,1342.4L454.3,1342.3L454.7,1342.3L455.2,1342.2L455.6,1342.2L456.0,1342.1L456.5,1342.1L456.9,1342.0L457.4,1342.0L457.8,1342.0L458.2,1341.9L458.7,1341.9L459.1,1341.8L459.5,1341.8L460.0,1341.7L460.4,1341.7L460.9,1341.6L461.3,1341.6L461.7,1341.5L462.2,1341.5L462.6,1341.4L463.0,1341.4L463.5,1341.3L463.9,1341.3L464.4,1341.2L464.8,1341.2L465.2,1341.1L465.7,1341.1L466.1,1341.0L466.5,1341.0L467.0,1340.9L467.4,1340.9L467.8,1340.8L468.3,1340.8L468.7,1340.7L469.2,1340.7L469.6,1340.6L470.0,1340.6L470.5,1340.5L470.9,1340.5L471.3,1340.4L471.8,1340.4L472.2,1340.3L472.7,1340.3L473.1,1340.2L473.5,1340.1L474.0,1340.1L474.4,1340.0L474.8,1340.0L475.3,1339.9L475.7,1339.9L476.1,1339.8L476.6,1339.7L477.0,1339.7L477.5,1339.6L477.9,1339.6L478.3,1339.5L478.8,1339.4L479.2,1339.4L479.6,1339.3L480.1,1339.3L480.5,1339.2L481.0,1339.1L481.4,1339.1L481.8,1339.0L482.3,1338.9L482.7,1338.9L483.1,1338.8L483.6,1338.7L484.0,1338.7L484.5,1338.6L484.9,1338.5L485.3,1338.5L485.8,1338.4L486.2,1338.3L486.6,1338.3L487.1,1338.2L487.5,1338.1L487.9,1338.1L488.4,1338.0L488.8,1337.9L489.3,1337.9L489.7,1337.8L490.1,1337.7L490.6,1337.6L491.0,1337.6L491.4,1337.5L491.9,1337.4L492.3,1337.3L492.8,1337.3L493.2,1337.2L493.6,1337.1L494.1,1337.0L494.5,1336.9L494.9,1336.9L495.4,1336.8L495.8,1336.7L496.3,1336.6L496.7,1336.5L497.1,1336.5L497.6,1336.4L498.0,1336.3L498.4,1336.2L498.9,1336.1L499.3,1336.0L499.7,1336.0L500.2,1335.9L500.6,1335.8L501.1,1335.7L501.5,1335.6L501.9,1335.5L502.4,1335.4L502.8,1335.3L503.2,1335.3L503.7,1335.2L504.1,1335.1L504.6,1335.0L505.0,1334.9L505.4,1334.8L505.9,1334.7L506.3,1334.6L506.7,1334.5L507.2,1334.4L507.6,1334.3L508.1,1334.2L508.5,1334.1L508.9,1334.0L509.4,1333.9L509.8,1333.8L510.2,1333.7L510.7,1333.6L511.1,1333.5L511.5,1333.4L512.0,1333.3L512.4,1333.2L512.9,1333.0L513.3,1332.9L513.7,1332.8L514.2,1332.7L514.6,1332.6L515.0,1332.5L515.5,1332.4L515.9,1332.3L516.4,1332.1L516.8,1332.0L517.2,1331.9L517.7,1331.8L518.1,1331.7L518.5,1331.5L519.0,1331.4L519.4,1331.3L519.8,1331.2L520.3,1331.0L520.7,1330.9L521.2,1330.8L521.6,1330.6L522.0,1330.5L522.5,1330.4L522.9,1330.2L523.3,1330.1L523.8,1330.0L524.2,1329.8L524.7,1329.7L525.1,1329.5L525.5,1329.4L526.0,1329.2L526.4,1329.1L526.8,1329.0L527.3,1328.8L527.7,1328.7L528.2,1328.5L528.6,1328.3L529.0,1328.2L529.5,1328.0L529.9,1327.9L530.3,1327.7L530.8,1327.6L531.2,1327.4L531.6,1327.2L532.1,1327.1L532.5,1326.9L533.0,1326.7L533.4,1326.5L533.8,1326.4L534.3,1326.2L534.7,1326.0L535.1,1325.8L535.6,1325.7L536.0,1325.5L536.5,1325.3L536.9,1325.1L537.3,1324.9L537.8,1324.7L538.2,1324.5L538.6,1324.3L539.1,1324.1L539.5,1323.9L540.0,1323.7L540.4,1323.5L540.8,1323.3L541.3,1323.1L541.7,1322.9L542.1,1322.6L542.6,1322.4L543.0,1322.2L543.4,1322.0L543.9,1321.8L544.3,1321.5L544.8,1321.3L545.2,1321.0L545.6,1320.8L546.1,1320.6L546.5,1320.3L546.9,1320.1L547.4,1319.8L547.8,1319.6L548.3,1319.3L548.7,1319.0L549.1,1318.8L549.6,1318.5L550.0,1318.2L550.4,1318.0L550.9,1317.7L551.3,1317.4L551.8,1317.1L552.2,1316.8L552.6,1316.5L553.1,1316.2L553.5,1315.9L553.9,1315.6L554.4,1315.3L554.8,1315.0L555.2,1314.6L555.7,1314.3L556.1,1314.0L556.6,1313.6L557.0,1313.3L557.4,1312.9L557.9,1312.6L558.3,1312.2L558.7,1311.9L559.2,1311.5L559.6,1311.1L560.1,1310.7L560.5,1310.3L560.9,1309.9L561.4,1309.5L561.8,1309.1L562.2,1308.7L562.7,1308.3L563.1,1307.9L563.5,1307.4L564.0,1307.0L564.4,1306.5L564.9,1306.1L565.3,1305.6L565.7,1305.1L566.2,1304.6L566.6,1304.2L567.0,1303.6L567.5,1303.1L567.9,1302.6L568.4,1302.1L568.8,1301.5L569.2,1301.0L569.7,1300.4L570.1,1299.9L570.5,1299.3L571.0,1298.7L571.4,1298.1L571.9,1297.4L572.3,1296.8L572.7,1296.2L573.2,1295.5L573.6,1294.8L574.0,1294.1L574.5,1293.4L574.9,1292.7L575.3,1292.0L575.8,1291.2L576.2,1290.5L576.7,1289.7L577.1,1288.9L577.5,1288.0L578.0,1287.2L578.4,1286.3L578.8,1285.5L579.3,1284.6L579.7,1283.6L580.2,1282.7L580.6,1281.7L581.0,1280.7L581.5,1279.7L581.9,1278.6L582.3,1277.6L582.8,1276.4L583.2,1275.3L583.7,1274.1L584.1,1272.9L584.5,1271.7L585.0,1270.4L585.4,1269.1L585.8,1267.8L586.3,1266.4L586.7,1265.0L587.1,1263.5L587.6,1262.0L588.0,1260.4L588.5,1258.8L588.9,1257.1L589.3,1255.4L589.8,1253.7L590.2,1251.8L590.6,1249.9L591.1,1248.0L591.5,1245.9L592.0,1243.8L592.4,1241.7L592.8,1239.4L593.3,1237.1L593.7,1234.6L594.1,1232.1L594.6,1229.5L595.0,1226.8L595.5,1224.0L595.9,1221.1L596.3,1218.0L596.8,1214.9L597.2,1211.6L597.6,1208.1L598.1,1204.6L598.5,1200.8L598.9,1197.0L599.4,1192.9L599.8,1188.7L600.3,1184.3L600.7,1179.8L601.1,1175.0L601.6,1170.0L602.0,1164.8L602.4,1159.4L602.9,1153.7L603.3,1147.8L603.8,1141.6L604.2,1135.2L604.6,1128.4L605.1,1121.4L605.5,1114.1L605.9,1106.4L606.4,1098.5L606.8,1090.1L607.2,1081.5L607.7,1072.4L608.1,1063.0L608.6,1053.2L609.0,1042.9L609.4,1032.3L609.9,1021.2L610.3,1009.7L610.7,997.8L611.2,985.4L611.6,972.6L612.1,959.2L612.5,945.4L612.9,931.2L613.4,916.4L613.8,901.2L614.2,885.5L614.7,869.4L615.1,852.8L615.6,835.7L616.0,818.2L616.4,800.3L616.9,782.0L617.3,763.3L617.7,744.3L618.2,724.9L618.6,705.3L619.0,685.5L619.5,665.5L619.9,645.3L620.4,625.1L620.8,604.9L621.2,584.7L621.7,564.7L622.1,544.9L622.5,525.5L623.0,506.4L623.4,487.9L623.9,470.0L624.3,452.8L624.7,436.4L625.2,421.1L625.6,406.8L626.0,393.7L626.5,381.9L626.9,371.6L627.4,362.9L627.8,355.9L628.2,350.7L628.7,347.4L629.1,346.2L629.5,347.0L630.0,350.0L630.4,355.1L630.8,362.5L631.3,372.1L631.7,383.8L632.2,397.5L632.6,413.2L633.0,430.6L633.5,449.5L633.9,469.6L634.3,490.4L634.8,511.6L635.2,532.6L635.7,552.8L636.1,571.6L636.5,588.3L637.0,602.3L637.4,612.8L637.8,619.5L638.3,621.9L638.7,619.9L639.2,613.5L639.6,603.2L640.0,589.3L640.5,572.6L640.9,554.0L641.3,534.2L641.8,514.3L642.2,495.1L642.6,477.4L643.1,461.9L643.5,449.5L644.0,440.5L644.4,435.3L644.8,434.3L645.3,437.5L645.7,444.8L646.1,455.9L646.6,470.4L647.0,487.4L647.5,506.1L647.9,525.4L648.3,543.9L648.8,560.4L649.2,573.5L649.6,582.1L650.1,585.3L650.5,582.9L650.9,575.0L651.4,562.3L651.8,546.1L652.3,527.7L652.7,508.8L653.1,491.0L653.6,475.8L654.0,464.2L654.4,457.3L654.9,455.6L655.3,459.3L655.8,468.1L656.2,481.3L656.6,497.9L657.1,516.2L657.5,534.5L657.9,550.8L658.4,563.0L658.8,569.7L659.3,569.9L659.7,563.5L660.1,551.5L660.6,535.3L661.0,517.1L661.4,499.3L661.9,483.8L662.3,472.6L662.7,467.0L663.2,467.5L663.6,474.2L664.1,486.4L664.5,502.5L664.9,520.5L665.4,537.9L665.8,551.9L666.2,560.4L666.7,561.8L667.1,555.8L667.6,543.5L668.0,527.0L668.4,509.1L668.9,492.7L669.3,480.3L669.7,473.9L670.2,474.4L670.6,481.8L671.1,495.0L671.5,511.8L671.9,529.4L672.4,544.5L672.8,554.1L673.2,556.2L673.7,550.3L674.1,537.6L674.5,520.8L675.0,503.5L675.4,488.9L675.9,480.0L676.3,478.4L676.7,484.4L677.2,496.9L677.6,513.5L678.0,530.7L678.5,544.5L678.9,551.8L679.4,550.5L679.8,541.1L680.2,525.9L680.7,508.6L681.1,493.4L681.5,483.8L682.0,482.0L682.4,488.3L682.8,501.4L683.3,518.2L683.7,534.5L684.2,545.8L684.6,549.0L685.0,543.2L685.5,529.9L685.9,513.0L686.3,497.4L686.8,487.0L687.2,484.8L687.7,491.2L688.1,504.6L688.5,521.4L689.0,536.6L689.4,545.5L689.8,545.2L690.3,535.8L690.7,520.3L691.2,503.8L691.6,491.4L692.0,486.8L692.5,491.4L692.9,503.9L693.3,520.3L693.8,535.4L694.2,543.9L694.6,542.6L695.1,532.0L695.5,516.1L696.0,500.5L696.4,490.5L696.8,489.6L697.3,498.0L697.7,513.0L698.1,529.1L698.6,540.3L699.0,542.2L699.5,533.9L699.9,518.8L700.3,502.9L700.8,492.1L701.2,490.6L701.6,498.8L702.1,513.7L702.5,529.2L703.0,539.0L703.4,538.7L703.8,528.3L704.3,512.4L704.7,497.7L705.1,490.3L705.6,493.2L706.0,505.2L706.4,521.1L706.9,534.0L707.3,537.8L707.8,530.7L708.2,516.2L708.6,501.1L709.1,492.5L709.5,494.3L709.9,505.9L710.4,522.3L710.8,535.8L711.3,540.1L711.7,533.3L712.1,519.4L712.6,506.0L713.0,500.2L713.4,505.4L713.9,519.8L714.3,537.1L714.8,549.2L715.2,550.4L715.6,541.3L716.1,528.0L716.5,518.8L716.9,519.8L717.4,531.7L717.8,549.8L718.2,565.7L718.7,572.1L719.1,566.9L719.6,555.2L720.0,545.4L720.4,544.9L720.9,555.7L721.3,573.9L721.7,591.2L722.2,599.3L722.6,595.7L723.1,584.8L723.5,575.6L723.9,575.6L724.4,587.1L724.8,605.5L725.2,622.2L725.7,629.0L726.1,624.0L726.5,613.0L727.0,605.2L727.4,607.5L727.9,620.9L728.3,639.3L728.7,653.2L729.2,655.7L729.6,647.4L730.0,636.1L730.5,631.1L730.9,637.5L731.4,653.1L731.8,669.6L732.2,677.8L732.7,673.8L733.1,662.1L733.5,652.4L734.0,652.5L734.4,663.7L734.9,679.8L735.3,691.0L735.7,690.4L736.2,679.6L736.6,667.3L737.0,662.7L737.5,669.6L737.9,683.9L738.3,696.0L738.8,697.5L739.2,687.5L739.7,673.6L740.1,666.0L740.5,669.7L741.0,682.0L741.4,693.7L741.8,695.5L742.3,685.6L742.7,670.7L743.2,661.3L743.6,663.1L744.0,673.8L744.5,684.4L744.9,685.3L745.3,674.3L745.8,658.7L746.2,648.7L746.7,650.0L747.1,659.9L747.5,668.9L748.0,667.5L748.4,654.7L748.8,638.6L749.3,629.3L749.7,631.8L750.1,641.4L750.6,647.9L751.0,643.1L751.5,628.1L751.9,612.4L752.3,605.8L752.8,610.5L753.2,619.8L753.6,622.7L754.1,613.5L754.5,596.8L755.0,583.5L755.4,581.5L755.8,589.1L756.3,596.7L756.7,594.4L757.1,580.7L757.6,564.6L758.0,556.7L758.5,560.7L758.9,570.0L759.3,573.2L759.8,564.4L760.2,548.5L760.6,537.1L761.1,537.4L761.5,546.7L761.9,553.8L762.4,549.6L762.8,535.7L763.3,522.8L763.7,520.7L764.1,529.4L764.6,538.9L765.0,538.2L765.4,526.4L765.9,513.4L766.3,510.2L766.8,518.4L767.2,529.1L767.6,530.5L768.1,520.2L768.5,507.6L768.9,504.5L769.4,513.3L769.8,524.7L770.2,526.8L770.7,517.2L771.1,505.9L771.6,504.6L772.0,515.0L772.4,526.8L772.9,528.4L773.3,518.8L773.7,509.2L774.2,510.6L774.6,522.4L775.1,532.8L775.5,531.2L775.9,519.7L776.4,510.9L776.8,513.8L777.2,524.2L777.7,529.0L778.1,520.2L778.6,504.3L779.0,494.6L779.4,496.5L779.9,501.3L780.3,495.8L780.7,477.3L781.2,457.3L781.6,447.6L782.0,447.7L782.5,444.3L782.9,427.5L783.4,402.9L783.8,384.9L784.2,379.9L784.7,378.5L785.1,366.8L785.5,343.9L786.0,323.5L786.4,316.8L786.9,318.7L787.3,314.3L787.7,297.5L788.2,279.9L788.6,275.3L789.0,282.5L789.5,286.2L789.9,277.5L790.4,265.8L790.8,266.3L791.2,279.7L791.7,291.4L792.1,290.4L792.5,285.3L793.0,292.0L793.4,311.7L793.8,329.5L794.3,334.2L794.7,334.8L795.2,347.3L795.6,372.0L796.0,392.9L796.5,400.1L796.9,404.5L797.3,421.5L797.8,448.7L798.2,469.0L798.7,475.3L799.1,481.5L799.5,501.2L800.0,527.6L800.4,543.2L800.8,546.1L801.3,553.1L801.7,573.7L802.2,595.7L802.6,603.5L803.0,602.4L803.5,610.3L803.9,629.8L804.3,644.2L804.8,643.4L805.2,640.1L805.6,649.7L806.1,666.0L806.5,670.9L807.0,663.4L807.4,661.4L807.8,672.7L808.3,683.0L808.7,678.5L809.1,668.6L809.6,670.3L810.0,681.1L810.5,682.7L810.9,671.0L811.3,662.8L811.8,667.9L812.2,673.8L812.6,665.2L813.1,650.0L813.5,645.6L814.0,650.4L814.4,646.4L814.8,628.9L815.3,614.5L815.7,613.1L816.1,611.7L816.6,595.7L817.0,574.0L817.4,563.8L817.9,561.6L818.3,548.9L818.8,524.2L819.2,505.8L819.6,500.2L820.1,491.1L820.5,467.6L820.9,443.9L821.4,434.2L821.8,428.1L822.3,408.9L822.7,383.7L823.1,371.1L823.6,367.8L824.0,354.7L824.4,331.7L824.9,318.4L825.3,318.0L825.7,312.0L826.2,294.0L826.6,282.1L827.1,285.3L827.5,286.6L827.9,275.1L828.4,266.7L828.8,274.0L829.2,282.3L829.7,277.6L830.1,273.5L830.6,285.1L831.0,299.6L831.4,300.9L831.9,301.1L832.3,316.6L832.7,335.5L833.2,340.8L833.6,344.3L834.1,362.5L834.5,383.5L834.9,390.2L835.4,395.1L835.8,414.4L836.2,434.5L836.7,439.5L837.1,444.0L837.5,462.5L838.0,478.9L838.4,479.7L838.9,482.7L839.3,498.9L839.7,509.4L840.2,505.2L840.6,506.9L841.0,520.2L841.5,524.0L841.9,515.8L842.4,517.5L842.8,528.0L843.2,525.7L843.7,516.1L844.1,519.6L844.5,527.4L845.0,520.6L845.4,512.5L845.9,519.0L846.3,523.7L846.7,514.3L847.2,510.3L847.6,519.3L848.0,520.2L848.5,510.4L848.9,511.8L849.3,521.4L849.8,518.0L850.2,510.3L850.7,517.2L851.1,524.4L851.5,517.4L852.0,514.5L852.4,524.9L852.8,527.3L853.3,519.2L853.7,522.8L854.2,533.2L854.6,530.0L855.0,525.0L855.5,534.4L855.9,541.0L856.3,534.4L856.8,535.9L857.2,547.8L857.7,548.1L858.1,542.7L858.5,551.4L859.0,560.6L859.4,555.9L859.8,556.5L860.3,569.1L860.7,571.6L861.1,566.6L861.6,575.0L862.0,585.3L862.5,581.5L862.9,582.3L863.3,595.0L863.8,598.0L864.2,593.4L864.6,602.1L865.1,612.1L865.5,608.2L866.0,609.6L866.4,622.2L866.8,624.1L867.3,619.9L867.7,629.3L868.1,637.7L868.6,633.0L869.0,635.7L869.4,647.5L869.9,646.9L870.3,643.5L870.8,653.6L871.2,659.2L871.6,653.4L872.1,657.9L872.5,667.9L872.9,664.2L873.4,662.3L873.8,672.7L874.3,674.0L874.7,667.9L875.1,674.6L875.6,681.0L876.0,674.4L876.4,675.3L876.9,684.3L877.3,680.7L877.8,676.1L878.2,684.2L878.6,685.3L879.1,677.6L879.5,681.7L879.9,687.0L880.4,679.3L880.8,678.1L881.2,685.4L881.7,680.3L882.1,674.3L882.6,680.7L883.0,679.7L883.4,670.7L883.9,673.8L884.3,676.6L884.7,667.2L885.2,665.7L885.6,670.8L886.1,663.1L886.5,657.1L886.9,662.3L887.4,657.9L887.8,648.6L888.2,651.9L888.7,651.0L889.1,640.2L889.6,640.2L890.0,642.2L890.4,631.8L890.9,628.0L891.3,631.6L891.7,623.0L892.2,615.8L892.6,619.5L893.0,613.7L893.5,604.0L893.9,606.5L894.4,603.7L894.8,592.7L895.2,593.1L895.7,593.1L896.1,582.0L896.5,580.0L897.0,582.1L897.4,572.0L897.9,567.6L898.3,570.9L898.7,562.6L899.2,556.2L899.6,560.0L900.0,554.0L900.5,546.1L900.9,549.8L901.3,546.1L901.8,537.3L902.2,540.5L902.7,539.0L903.1,530.0L903.5,532.5L904.0,533.0L904.4,524.2L904.8,525.8L905.3,528.0L905.7,519.7L906.2,520.6L906.6,524.1L907.0,516.5L907.5,516.7L907.9,521.3L908.3,514.4L908.8,514.1L909.2,519.4L909.7,513.3L910.1,512.5L910.5,518.4L911.0,512.9L911.4,511.8L911.8,518.0L912.3,513.0L912.7,511.7L913.1,518.0L913.6,513.3L914.0,512.0L914.5,518.4L914.9,513.7L915.3,512.5L915.8,518.8L916.2,514.1L916.6,513.1L917.1,519.2L917.5,514.3L918.0,513.7L918.4,519.5L918.8,514.3L919.3,514.2L919.7,519.7L920.1,514.2L920.6,514.8L921.0,519.7L921.5,513.9L921.9,515.4L922.3,519.6L922.8,513.5L923.2,516.0L923.6,519.2L924.1,513.2L924.5,516.7L924.9,518.7L925.4,512.9L925.8,517.4L926.3,518.0L926.7,512.8L927.1,518.2L927.6,517.2L928.0,513.0L928.4,518.8L928.9,516.2L929.3,513.5L929.8,519.2L930.2,515.1L930.6,514.3L931.1,519.3L931.5,514.1L931.9,515.4L932.4,519.0L932.8,513.3L933.3,516.6L933.7,518.2L934.1,513.0L934.6,517.8L935.0,517.0L935.4,513.2L935.9,518.8L936.3,515.7L936.7,514.2L937.2,519.3L937.6,514.5L938.1,515.8L938.5,519.2L938.9,513.8L939.4,517.5L939.8,518.3L940.2,513.8L940.7,519.0L941.1,516.7L941.6,514.6L942.0,519.5L942.4,515.0L942.9,515.9L943.3,519.0L943.7,513.8L944.2,517.6L944.6,517.7L945.0,514.1L945.5,519.4L945.9,516.6L946.4,516.2L946.8,521.0L947.2,516.7L947.7,520.0L948.1,522.1L948.5,518.6L949.0,524.1L949.4,522.6L949.9,521.5L950.3,526.2L950.7,521.6L951.2,523.2L951.6,523.8L952.0,517.8L952.5,520.0L952.9,514.7L953.4,509.3L953.8,508.5L954.2,498.1L954.7,493.6L955.1,486.8L955.5,474.2L956.0,469.1L956.4,455.7L956.8,444.2L957.3,435.7L957.7,418.8L958.2,409.7L958.6,396.1L959.0,380.9L959.5,372.4L959.9,355.8L960.3,345.6L960.8,335.1L961.2,320.8L961.7,315.1L962.1,302.8L962.5,295.5L963.0,290.7L963.4,281.1L963.8,280.8L964.3,275.2L964.7,273.4L965.2,275.7L965.6,272.7L966.0,279.0L966.5,280.8L966.9,285.5L967.3,294.8L967.8,298.5L968.2,311.1L968.6,319.1L969.1,329.7L969.5,344.3L970.0,353.3L970.4,370.6L970.8,382.5L971.3,397.3L971.7,414.5L972.1,426.4L972.6,445.8L973.0,458.6L973.5,475.2L973.9,491.9L974.3,504.1L974.8,522.8L975.2,533.8L975.6,549.7L976.1,563.0L976.5,573.7L977.0,588.9L977.4,596.5L977.8,609.9L978.3,618.0L978.7,626.4L979.1,636.5L979.6,640.5L980.0,650.4L980.4,653.3L980.9,659.6L981.3,664.2L981.8,665.8L982.2,671.9L982.6,670.8L983.1,675.4L983.5,675.1L983.9,675.7L984.4,677.5L984.8,674.2L985.3,676.6L985.7,672.2L986.1,672.0L986.6,669.0L987.0,664.5L987.4,663.0L987.9,655.3L988.3,653.0L988.8,644.8L989.2,638.9L989.6,631.8L990.1,621.6L990.5,615.1L990.9,602.1L991.4,593.9L991.8,580.6L992.2,568.8L992.7,556.7L993.1,541.1L993.6,529.7L994.0,512.2L994.4,499.6L994.9,482.7L995.3,467.6L995.7,452.7L996.2,435.3L996.6,422.2L997.1,404.2L997.5,391.7L997.9,375.3L998.4,362.2L998.8,349.1L999.2,335.3L999.7,325.6L1000.1,312.4L1000.5,305.3L1001.0,294.5L1001.4,288.8L1001.9,281.9L1002.3,277.1L1002.7,274.7L1003.2,271.0L1003.6,272.7L1004.0,271.2L1004.5,275.9L1004.9,277.7L1005.4,284.2L1005.8,290.1L1006.2,297.7L1006.7,307.5L1007.1,316.1L1007.5,329.1L1008.0,338.9L1008.4,353.8L1008.9,365.2L1009.3,380.6L1009.7,393.6L1010.2,408.5L1010.6,422.8L1011.0,436.3L1011.5,451.3L1011.9,463.2L1012.3,477.9L1012.8,488.2L1013.2,501.6L1013.7,510.5L1014.1,522.0L1014.5,529.6L1015.0,538.7L1015.4,545.6L1015.8,552.2L1016.3,558.4L1016.7,562.8L1017.2,568.5L1017.6,571.3L1018.0,576.7L1018.5,578.5L1018.9,583.5L1019.3,584.9L1019.8,589.5L1020.2,591.2L1020.7,595.4L1021.1,597.7L1021.5,601.3L1022.0,604.5L1022.4,607.7L1022.8,611.6L1023.3,614.4L1023.7,618.9L1024.1,621.4L1024.6,626.3L1025.0,628.5L1025.5,633.5L1025.9,635.6L1026.3,640.4L1026.8,642.5L1027.2,646.8L1027.6,649.0L1028.1,652.7L1028.5,655.1L1029.0,658.1L1029.4,660.6L1029.8,662.9L1030.3,665.5L1030.7,667.2L1031.1,669.8L1031.6,671.0L1032.0,673.5L1032.5,674.2L1032.9,676.6L1033.3,676.9L1033.8,679.0L1034.2,679.0L1034.6,680.8L1035.1,680.6L1035.5,682.0L1035.9,681.6L1036.4,682.5L1036.8,682.0L1037.3,682.3L1037.7,681.7L1038.1,681.5L1038.6,680.7L1039.0,680.0L1039.4,679.1L1039.9,677.9L1040.3,676.9L1040.8,675.2L1041.2,674.0L1041.6,671.9L1042.1,670.4L1042.5,668.0L1042.9,666.3L1043.4,663.5L1043.8,661.6L1044.2,658.6L1044.7,656.4L1045.1,653.1L1045.6,650.6L1046.0,647.2L1046.4,644.4L1046.9,640.8L1047.3,637.8L1047.7,634.1L1048.2,630.9L1048.6,627.0L1049.1,623.6L1049.5,619.7L1049.9,616.1L1050.4,612.2L1050.8,608.5L1051.2,604.6L1051.7,600.7L1052.1,596.9L1052.6,592.9L1053.0,589.1L1053.4,585.2L1053.9,581.5L1054.3,577.6L1054.7,574.0L1055.2,570.2L1055.6,566.8L1056.0,563.1L1056.5,559.9L1056.9,556.3L1057.4,553.3L1057.8,550.0L1058.2,547.3L1058.7,544.1L1059.1,541.7L1059.5,538.8L1060.0,536.7L1060.4,534.1L1060.9,532.2L1061.3,529.9L1061.7,528.3L1062.2,526.2L1062.6,525.0L1063.0,523.1L1063.5,522.2L1063.9,520.6L1064.4,519.9L1064.8,518.5L1065.2,518.1L1065.7,516.9L1066.1,516.9L1066.5,515.9L1067.0,516.2L1067.4,515.4L1067.8,516.0L1068.3,515.4L1068.7,516.4L1069.2,516.0L1069.6,517.2L1070.0,517.0L1070.5,518.5L1070.9,518.3L1071.3,519.8L1071.8,519.6L1072.2,520.8L1072.7,520.3L1073.1,521.1L1073.5,520.1L1074.0,520.0L1074.4,518.2L1074.8,517.0L1075.3,514.0L1075.7,511.2L1076.1,506.8L1076.6,502.2L1077.0,496.3L1077.5,489.6L1077.9,482.1L1078.3,473.3L1078.8,464.2L1079.2,453.3L1079.6,442.9L1080.1,430.2L1080.5,418.7L1081.0,404.6L1081.4,392.4L1081.8,377.4L1082.3,364.9L1082.7,349.7L1083.1,337.3L1083.6,322.7L1084.0,310.7L1084.5,297.4L1084.9,286.2L1085.3,274.8L1085.8,264.7L1086.2,255.8L1086.6,247.1L1087.1,241.1L1087.5,234.2L1087.9,231.2L1088.4,226.6L1088.8,226.5L1089.3,224.6L1089.7,227.1L1090.1,228.2L1090.6,232.9L1091.0,237.4L1091.4,243.8L1091.9,251.7L1092.3,259.5L1092.8,270.4L1093.2,279.4L1093.6,292.7L1094.1,303.0L1094.5,317.5L1094.9,329.3L1095.4,343.8L1095.8,357.2L1096.3,370.8L1096.7,385.4L1097.1,397.6L1097.6,412.6L1098.0,423.3L1098.4,437.6L1098.9,447.3L1099.3,459.3L1099.7,468.6L1100.2,477.5L1100.6,486.6L1101.1,492.2L1101.5,500.6L1101.9,503.7L1102.4,510.3L1102.8,512.3L1103.2,516.2L1103.7,518.4L1104.1,519.1L1104.6,521.9L1105.0,520.3L1105.4,523.0L1105.9,520.8L1106.3,522.2L1106.7,521.1L1107.2,520.3L1107.6,521.0L1108.1,518.4L1108.5,520.4L1108.9,517.4L1109.4,519.0L1109.8,517.4L1110.2,517.2L1110.7,518.0L1111.1,515.8L1111.5,518.3L1112.0,515.5L1112.4,517.7L1112.9,516.4L1113.3,516.4L1113.7,517.7L1114.2,515.4L1114.6,518.2L1115.0,515.5L1115.5,517.6L1115.9,516.6L1116.4,516.1L1116.8,517.8L1117.2,515.1L1117.7,518.0L1118.1,515.3L1118.5,516.7L1119.0,516.5L1119.4,515.0L1119.8,517.5L1120.3,514.2L1120.7,517.0L1121.2,515.0L1121.6,515.2L1122.0,516.3L1122.5,513.6L1122.9,516.7L1123.3,513.6L1123.8,515.3L1124.2,514.9L1124.7,513.3L1125.1,516.0L1125.5,512.6L1126.0,515.4L1126.4,513.8L1126.8,513.6L1127.3,515.7L1127.7,512.6L1128.2,516.2L1128.6,514.0L1129.0,515.1L1129.5,516.8L1129.9,514.5L1130.3,518.8L1130.8,516.5L1131.2,518.9L1131.6,520.5L1132.1,519.2L1132.5,524.1L1133.0,522.0L1133.4,525.7L1133.8,527.5L1134.3,527.1L1134.7,532.7L1135.1,531.2L1135.6,535.9L1136.0,538.1L1136.5,538.6L1136.9,544.9L1137.3,544.0L1137.8,549.3L1138.2,552.3L1138.6,553.2L1139.1,560.3L1139.5,559.9L1140.0,565.6L1140.4,569.4L1140.8,570.3L1141.3,578.0L1141.7,578.1L1142.1,583.6L1142.6,588.3L1143.0,589.0L1143.4,597.0L1143.9,597.6L1144.3,602.4L1144.8,608.1L1145.2,608.1L1145.6,616.1L1146.1,617.2L1146.5,620.8L1146.9,627.4L1147.4,626.7L1147.8,634.0L1148.3,636.0L1148.7,637.8L1149.1,645.0L1149.6,643.8L1150.0,649.6L1150.4,652.8L1150.9,652.6L1151.3,659.9L1151.8,658.7L1152.2,662.3L1152.6,666.8L1153.1,664.7L1153.5,671.1L1153.9,670.8L1154.4,671.5L1154.8,677.0L1155.2,673.8L1155.7,678.2L1156.1,679.5L1156.6,677.2L1157.0,682.9L1157.4,679.8L1157.9,681.0L1158.3,684.2L1158.7,679.6L1159.2,683.8L1159.6,682.3L1160.1,679.8L1160.5,684.0L1160.9,678.8L1161.4,680.0L1161.8,680.9L1162.2,675.2L1162.7,678.8L1163.1,675.2L1163.5,672.1L1164.0,675.0L1164.4,668.2L1164.9,668.8L1165.3,668.2L1165.7,661.4L1166.2,664.1L1166.6,659.0L1167.0,654.8L1167.5,656.8L1167.9,648.7L1168.4,648.1L1168.8,646.6L1169.2,638.5L1169.7,640.2L1170.1,634.5L1170.5,628.8L1171.0,630.4L1171.4,621.8L1171.9,619.9L1172.3,619.0L1172.7,610.0L1173.2,611.2L1173.6,606.9L1174.0,600.1L1174.5,602.5L1174.9,595.2L1175.3,592.0L1175.8,593.3L1176.2,584.6L1176.7,584.8L1177.1,582.9L1177.5,574.4L1178.0,576.3L1178.4,570.2L1178.8,563.1L1179.3,564.0L1179.7,553.6L1180.2,547.9L1180.6,545.2L1181.0,531.5L1181.5,526.5L1181.9,518.5L1182.3,502.8L1182.8,497.2L1183.2,483.8L1183.7,467.6L1184.1,460.6L1184.5,442.8L1185.0,427.7L1185.4,419.0L1185.8,399.0L1186.3,386.1L1186.7,376.2L1187.1,356.3L1187.6,346.8L1188.0,336.5L1188.5,318.9L1188.9,313.3L1189.3,304.0L1189.8,290.3L1190.2,289.1L1190.6,281.7L1191.1,273.0L1191.5,276.3L1192.0,271.8L1192.4,268.3L1192.8,276.1L1193.3,274.8L1193.7,276.6L1194.1,288.4L1194.6,290.4L1195.0,297.0L1195.5,312.3L1195.9,317.3L1196.3,327.8L1196.8,346.0L1197.2,353.3L1197.6,366.7L1198.1,387.0L1198.5,396.0L1198.9,411.1L1199.4,432.5L1199.8,442.4L1200.3,458.0L1200.7,479.7L1201.1,489.4L1201.6,504.3L1202.0,525.5L1202.4,534.5L1202.9,547.5L1203.3,567.4L1203.8,575.0L1204.2,585.3L1204.6,603.4L1205.1,609.4L1205.5,616.4L1205.9,632.3L1206.4,636.7L1206.8,640.2L1207.2,653.7L1207.7,656.9L1208.1,656.9L1208.6,668.0L1209.0,670.6L1209.4,667.6L1209.9,676.3L1210.3,678.8L1210.7,673.5L1211.2,679.8L1211.6,682.8L1212.1,675.8L1212.5,679.7L1212.9,683.6L1213.4,675.7L1213.8,677.1L1214.2,681.9L1214.7,673.9L1215.1,672.6L1215.6,678.2L1216.0,671.0L1216.4,667.0L1216.9,672.7L1217.3,667.0L1217.7,660.4L1218.2,665.6L1218.6,662.0L1219.0,653.1L1219.5,657.0L1219.9,655.7L1220.4,645.3L1220.8,646.9L1221.2,648.0L1221.7,637.1L1222.1,635.6L1222.5,638.8L1223.0,628.7L1223.4,623.7L1223.9,627.9L1224.3,619.9L1224.7,611.5L1225.2,615.6L1225.6,610.8L1226.0,599.8L1226.5,602.1L1226.9,601.0L1227.4,589.0L1227.8,588.1L1228.2,590.4L1228.7,579.3L1229.1,574.4L1229.5,578.8L1230.0,570.8L1230.4,562.0L1230.8,566.3L1231.3,562.9L1231.7,551.6L1232.2,553.6L1232.6,555.0L1233.0,543.8L1233.5,541.6L1233.9,546.7L1234.3,538.4L1234.8,531.6L1235.2,537.5L1235.7,534.6L1236.1,524.6L1236.5,528.1L1237.0,531.0L1237.4,521.1L1237.8,519.7L1238.3,526.6L1238.7,520.5L1239.2,513.8L1239.6,520.9L1240.0,521.2L1240.5,511.8L1240.9,514.7L1241.3,521.0L1241.8,513.4L1242.2,510.0L1242.6,518.6L1243.1,517.0L1243.5,508.7L1244.0,514.2L1244.4,519.7L1244.8,511.5L1245.3,510.1L1245.7,519.2L1246.1,516.6L1246.6,509.0L1247.0,515.3L1247.5,520.6L1247.9,512.2L1248.3,511.0L1248.8,520.3L1249.2,517.9L1249.6,509.9L1250.1,515.9L1250.5,521.8L1251.0,513.6L1251.4,511.1L1251.8,520.4L1252.3,519.5L1252.7,510.6L1253.1,514.9L1253.6,522.4L1254.0,515.4L1254.4,510.4L1254.9,519.1L1255.3,521.2L1255.8,511.7L1256.2,512.7L1256.6,521.9L1257.1,518.0L1257.5,509.9L1257.9,516.2L1258.4,522.5L1258.8,514.3L1259.3,510.4L1259.7,519.6L1260.1,521.1L1260.6,511.4L1261.0,512.4L1261.4,521.9L1261.9,518.5L1262.3,509.8L1262.7,515.2L1263.2,522.8L1263.6,515.6L1264.1,509.6L1264.5,518.0L1264.9,522.4L1265.4,513.1L1265.8,510.4L1266.2,520.2L1266.7,521.2L1267.1,511.2L1267.6,511.9L1268.0,521.8L1268.4,519.6L1268.9,510.0L1269.3,513.5L1269.7,522.7L1270.2,518.0L1270.6,509.3L1271.1,515.0L1271.5,523.2L1271.9,516.6L1272.4,509.1L1272.8,516.3L1273.2,523.3L1273.7,515.5L1274.1,509.0L1274.5,517.2L1275.0,523.3L1275.4,514.7L1275.9,509.0L1276.3,517.8L1276.7,523.3L1277.2,514.3L1277.6,509.0L1278.0,518.1L1278.5,523.3L1278.9,514.2L1279.4,508.9L1279.8,518.0L1280.2,523.5L1280.7,514.4L1281.1,508.7L1281.5,517.4L1282.0,523.7L1282.4,515.1L1282.9,508.4L1283.3,516.5L1283.7,523.9L1284.2,516.2L1284.6,508.3L1285.0,515.2L1285.5,523.9L1285.9,517.8L1286.3,508.6L1286.8,513.7L1287.2,523.7L1287.7,519.9L1288.1,509.5L1288.5,511.9L1289.0,522.9L1289.4,522.1L1289.8,511.1L1290.3,510.2L1290.7,521.1L1291.2,524.0L1291.6,513.6L1292.0,508.7L1292.5,518.2L1292.9,525.1L1293.3,517.0L1293.8,508.5L1294.2,514.8L1294.6,525.0L1295.1,521.3L1295.5,510.6L1296.0,512.2L1296.4,523.9L1296.8,526.1L1297.3,515.6L1297.7,511.6L1298.1,521.8L1298.6,529.7L1299.0,522.5L1299.5,513.3L1299.9,518.2L1300.3,529.1L1300.8,527.3L1301.2,514.8L1301.6,511.2L1302.1,520.1L1302.5,523.4L1303.0,511.2L1303.4,498.2L1303.8,499.0L1304.3,504.3L1304.7,495.7L1305.1,476.3L1305.6,465.1L1306.0,466.3L1306.4,462.9L1306.9,443.7L1307.3,421.8L1307.8,413.0L1308.2,411.8L1308.6,399.8L1309.1,375.0L1309.5,354.8L1309.9,349.1L1310.4,345.8L1310.8,329.2L1311.3,304.3L1311.7,289.0L1312.1,287.5L1312.6,284.7L1313.0,268.5L1313.4,247.7L1313.9,239.1L1314.3,243.3L1314.8,244.3L1315.2,232.2L1315.6,217.8L1316.1,216.6L1316.5,227.6L1316.9,234.8L1317.4,229.3L1317.8,221.8L1318.2,227.1L1318.7,244.7L1319.1,259.3L1319.6,261.3L1320.0,259.5L1320.4,269.0L1320.9,291.4L1321.3,312.9L1321.7,321.8L1322.2,323.7L1322.6,333.7L1323.1,357.0L1323.5,382.8L1323.9,397.3L1324.4,400.9L1324.8,407.2L1325.2,426.1L1325.7,451.9L1326.1,470.2L1326.6,474.9L1327.0,475.4L1327.4,485.0L1327.9,505.4L1328.3,525.2L1328.7,532.5L1329.2,529.0L1329.6,528.0L1330.0,538.8L1330.5,556.7L1330.9,568.5L1331.4,566.9L1331.8,559.2L1332.2,559.0L1332.7,571.0L1333.1,586.4L1333.5,592.3L1334.0,586.0L1334.4,578.1L1334.9,580.8L1335.3,594.6L1335.7,608.5L1336.2,611.1L1336.6,603.1L1337.0,596.8L1337.5,602.4L1337.9,617.8L1338.3,630.5L1338.8,630.9L1339.2,622.2L1339.7,617.2L1340.1,624.5L1340.5,640.2L1341.0,651.8L1341.4,650.6L1341.8,641.1L1342.3,636.1L1342.7,643.5L1343.2,658.8L1343.6,669.6L1344.0,667.4L1344.5,657.1L1344.9,651.1L1345.3,657.4L1345.8,672.0L1346.2,682.6L1346.7,680.5L1347.1,669.4L1347.5,661.6L1348.0,665.9L1348.4,679.5L1348.8,690.6L1349.3,689.3L1349.7,677.6L1350.1,667.3L1350.6,668.1L1351.0,679.5L1351.5,690.8L1351.9,690.7L1352.3,678.5L1352.8,664.4L1353.2,659.8L1353.6,666.7L1354.1,676.6L1354.5,677.3L1355.0,664.2L1355.4,645.4L1355.8,632.8L1356.3,632.2L1356.7,638.2L1357.1,638.6L1357.6,625.4L1358.0,602.1L1358.5,580.5L1358.9,569.6L1359.3,568.9L1359.8,568.5L1360.2,557.5L1360.6,533.6L1361.1,505.2L1361.5,483.7L1361.9,474.3L1362.4,472.3L1362.8,466.7L1363.3,449.2L1363.7,421.5L1364.1,393.4L1364.6,375.1L1365.0,369.1L1365.4,369.0L1365.9,364.1L1366.3,348.0L1366.8,323.6L1367.2,300.5L1367.6,288.1L1368.1,288.3L1368.5,294.9L1368.9,297.8L1369.4,290.5L1369.8,275.0L1370.3,260.0L1370.7,254.7L1371.1,262.2L1371.6,278.1L1372.0,293.2L1372.4,299.7L1372.9,296.6L1373.3,290.5L1373.7,290.4L1374.2,301.9L1374.6,323.9L1375.1,349.6L1375.5,370.1L1375.9,380.3L1376.4,382.2L1376.8,383.0L1377.2,390.5L1377.7,408.4L1378.1,434.4L1378.6,461.6L1379.0,482.2L1379.4,491.8L1379.9,492.3L1380.3,490.4L1380.7,493.2L1381.2,504.9L1381.6,524.3L1382.0,546.2L1382.5,563.2L1382.9,570.2L1383.4,566.9L1383.8,558.4L1384.2,551.8L1384.7,552.8L1385.1,562.9L1385.5,579.4L1386.0,595.7L1386.4,605.5L1386.9,605.2L1387.3,596.7L1387.7,585.8L1388.2,579.3L1388.6,581.7L1389.0,593.4L1389.5,610.5L1389.9,626.6L1390.4,635.6L1390.8,634.7L1391.2,626.1L1391.7,615.6L1392.1,609.6L1392.5,612.3L1393.0,623.9L1393.4,641.1L1393.8,657.8L1394.3,667.9L1394.7,668.1L1395.2,659.9L1395.6,648.2L1396.0,639.4L1396.5,638.2L1396.9,646.2L1397.3,661.1L1397.8,677.8L1398.2,690.3L1398.7,693.8L1399.1,687.6L1399.5,675.2L1400.0,662.5L1400.4,655.0L1400.8,656.1L1401.3,665.8L1401.7,680.9L1402.2,695.9L1402.6,705.0L1403.0,704.5L1403.5,694.9L1403.9,680.1L1404.3,666.0L1404.8,657.6L1405.2,658.0L1405.6,666.7L1406.1,680.6L1406.5,694.4L1407.0,702.5L1407.4,701.2L1407.8,690.6L1408.3,674.1L1408.7,657.5L1409.1,645.7L1409.6,642.2L1410.0,647.4L1410.5,658.9L1410.9,672.3L1411.3,682.0L1411.8,683.5L1412.2,675.3L1412.6,659.4L1413.1,640.3L1413.5,623.4L1414.0,613.1L1414.4,611.4L1414.8,618.0L1415.3,629.8L1415.7,642.1L1416.1,649.8L1416.6,649.0L1417.0,638.7L1417.4,621.2L1417.9,600.9L1418.3,582.8L1418.8,571.0L1419.2,567.8L1419.6,572.8L1420.1,583.8L1420.5,596.7L1420.9,606.5L1421.4,609.2L1421.8,602.7L1422.3,588.0L1422.7,568.3L1423.1,548.3L1423.6,532.2L1424.0,523.4L1424.4,523.1L1424.9,530.6L1425.3,543.4L1425.8,557.6L1426.2,568.7L1426.6,573.2L1427.1,568.9L1427.5,556.5L1427.9,538.7L1428.4,519.4L1428.8,502.8L1429.2,492.0L1429.7,489.1L1430.1,494.1L1430.6,505.8L1431.0,521.5L1431.4,537.4L1431.9,549.8L1432.3,555.6L1432.7,553.1L1433.2,542.9L1433.6,527.1L1434.1,509.2L1434.5,492.7L1434.9,480.6L1435.4,475.3L1435.8,477.5L1436.2,486.8L1436.7,501.9L1437.1,520.1L1437.5,538.4L1438.0,553.4L1438.4,562.3L1438.9,563.5L1439.3,556.9L1439.7,543.8L1440.2,526.6L1440.6,508.3L1441.0,491.6L1441.5,478.9L1441.9,471.7L1442.4,470.5L1442.8,474.9L1443.2,483.9L1443.7,495.3L1444.1,506.8L1444.5,515.7L1445.0,519.4L1445.4,516.2L1445.9,505.3L1446.3,486.8L1446.7,462.2L1447.2,433.4L1447.6,402.8L1448.0,372.7L1448.5,345.1L1448.9,321.8L1449.3,303.6L1449.8,291.2L1450.2,284.7L1450.7,283.7L1451.1,287.3L1451.5,294.3L1452.0,303.6L1452.4,313.5L1452.8,322.8L1453.3,330.1L1453.7,334.6L1454.2,335.6L1454.6,333.1L1455.0,327.3L1455.5,319.0L1455.9,308.9L1456.3,298.3L1456.8,288.1L1457.2,279.5L1457.7,273.2L1458.1,270.1L1458.5,270.7L1459.0,275.3L1459.4,284.0L1459.8,297.0L1460.3,313.8L1460.7,334.4L1461.1,358.2L1461.6,384.6L1462.0,413.3L1462.5,443.4L1462.9,474.3L1463.3,505.4L1463.8,536.1L1464.2,565.6L1464.6,593.4L1465.1,618.9L1465.5,641.7L1466.0,661.5L1466.4,677.9L1466.8,690.7L1467.3,700.0L1467.7,705.9L1468.1,708.3L1468.6,707.7L1469.0,704.3L1469.5,698.4L1469.9,690.5L1470.3,680.8L1470.8,669.9L1471.2,657.9L1471.6,645.3L1472.1,632.3L1472.5,619.2L1472.9,606.2L1473.4,593.6L1473.8,581.6L1474.3,570.2L1474.7,559.7L1475.1,550.2L1475.6,541.7L1476.0,534.3L1476.4,528.1L1476.9,523.1L1477.3,519.4L1477.8,516.9L1478.2,515.6L1478.6,515.5L1479.1,516.6L1479.5,518.9L1479.9,522.3L1480.4,526.7L1480.8,532.2L1481.2,538.6L1481.7,545.9L1482.1,554.1L1482.6,563.1L1483.0,572.8L1483.4,583.1L1483.9,594.1L1484.3,605.6L1484.7,617.6L1485.2,630.0L1485.6,642.9L1486.1,656.1L1486.5,669.6L1486.9,683.3L1487.4,697.3L1487.8,711.4L1488.2,725.7L1488.7,740.0L1489.1,754.4L1489.6,768.8L1490.0,783.1L1490.4,797.5L1490.9,811.7L1491.3,825.9L1491.7,839.9L1492.2,853.8L1492.6,867.4L1493.0,881.0L1493.5,894.3L1493.9,907.3L1494.4,920.2L1494.8,932.7L1495.2,945.1L1495.7,957.1L1496.1,968.9L1496.5,980.4L1497.0,991.6L1497.4,1002.5L1497.9,1013.1L1498.3,1023.4L1498.7,1033.5L1499.2,1043.2L1499.6,1052.6L1500.0,1061.7L1500.5,1070.6L1500.9,1079.1L1501.4,1087.4L1501.8,1095.3L1502.2,1103.0L1502.7,1110.5L1503.1,1117.6L1503.5,1124.5L1504.0,1131.2L1504.4,1137.6L1504.8,1143.7L1505.3,1149.7L1505.7,1155.4L1506.2,1160.9L1506.6,1166.2L1507.0,1171.2L1507.5,1176.1L1507.9,1180.8L1508.3,1185.3L1508.8,1189.6L1509.2,1193.8L1509.7,1197.8L1510.1,1201.6L1510.5,1205.3L1511.0,1208.8L1511.4,1212.2L1511.8,1215.5L1512.3,1218.7L1512.7,1221.7L1513.1,1224.6L1513.6,1227.4L1514.0,1230.1L1514.5,1232.7L1514.9,1235.2L1515.3,1237.7L1515.8,1240.0L1516.2,1242.2L1516.6,1244.4L1517.1,1246.5L1517.5,1248.5L1518.0,1250.5L1518.4,1252.4L1518.8,1254.2L1519.3,1256.0L1519.7,1257.7L1520.1,1259.3L1520.6,1260.9L1521.0,1262.5L1521.5,1264.0L1521.9,1265.4L1522.3,1266.9L1522.8,1268.2L1523.2,1269.6L1523.6,1270.9L1524.1,1272.1L1524.5,1273.4L1524.9,1274.6L1525.4,1275.7L1525.8,1276.8L1526.3,1277.9L1526.7,1279.0L1527.1,1280.1L1527.6,1281.1L1528.0,1282.1L1528.4,1283.0L1528.9,1284.0L1529.3,1284.9L1529.8,1285.8L1530.2,1286.7L1530.6,1287.5L1531.1,1288.4L1531.5,1289.2L1531.9,1290.0L1532.4,1290.7L1532.8,1291.5L1533.3,1292.3L1533.7,1293.0L1534.1,1293.7L1534.6,1294.4L1535.0,1295.1L1535.4,1295.7L1535.9,1296.4L1536.3,1297.0L1536.7,1297.7L1537.2,1298.3L1537.6,1298.9L1538.1,1299.5L1538.5,1300.1L1538.9,1300.6L1539.4,1301.2L1539.8,1301.8L1540.2,1302.3L1540.7,1302.8L1541.1,1303.3L1541.6,1303.8L1542.0,1304.3L1542.4,1304.8L1542.9,1305.3L1543.3,1305.8L1543.7,1306.3L1544.2,1306.7L1544.6,1307.2L1545.1,1307.6L1545.5,1308.0L1545.9,1308.5L1546.4,1308.9L1546.8,1309.3L1547.2,1309.7L1547.7,1310.1L1548.1,1310.5L1548.5,1310.9L1549.0,1311.3L1549.4,1311.6L1549.9,1312.0L1550.3,1312.4L1550.7,1312.7L1551.2,1313.1L1551.6,1313.4L1552.0,1313.8L1552.5,1314.1L1552.9,1314.4L1553.4,1314.8L1553.8,1315.1L1554.2,1315.4L1554.7,1315.7L1555.1,1316.0L1555.5,1316.3L1556.0,1316.6L1556.4,1316.9L1556.8,1317.2L1557.3,1317.5L1557.7,1317.8L1558.2,1318.1L1558.6,1318.3L1559.0,1318.6L1559.5,1318.9L1559.9,1319.1L1560.3,1319.4L1560.8,1319.7L1561.2,1319.9L1561.7,1320.2L1562.1,1320.4L1562.5,1320.7L1563.0,1320.9L1563.4,1321.1L1563.8,1321.4L1564.3,1321.6L1564.7,1321.8L1565.2,1322.1L1565.6,1322.3L1566.0,1322.5L1566.5,1322.7L1566.9,1323.0L1567.3,1323.2L1567.8,1323.4L1568.2,1323.6L1568.6,1323.8L1569.1,1324.0L1569.5,1324.2L1570.0,1324.4L1570.4,1324.6L1570.8,1324.8L1571.3,1325.0L1571.7,1325.2L1572.1,1325.4L1572.6,1325.5L1573.0,1325.7L1573.5,1325.9L1573.9,1326.1L1574.3,1326.3L1574.8,1326.4L1575.2,1326.6L1575.6,1326.8L1576.1,1327.0L1576.5,1327.1L1577.0,1327.3L1577.4,1327.5L1577.8,1327.6L1578.3,1327.8L1578.7,1327.9L1579.1,1328.1L1579.6,1328.3L1580.0,1328.4L1580.4,1328.6L1580.9,1328.7L1581.3,1328.9L1581.8,1329.0L1582.2,1329.2L1582.6,1329.3L1583.1,1329.5L1583.5,1329.6L1583.9,1329.7L1584.4,1329.9L1584.8,1330.0L1585.3,1330.2L1585.7,1330.3L1586.1,1330.4L1586.6,1330.6L1587.0,1330.7L1587.4,1330.8L1587.9,1330.9L1588.3,1331.1L1588.8,1331.2L1589.2,1331.3L1589.6,1331.5L1590.1,1331.6L1590.5,1331.7L1590.9,1331.8L1591.4,1331.9L1591.8,1332.1L1592.2,1332.2L1592.7,1332.3L1593.1,1332.4L1593.6,1332.5L1594.0,1332.6L1594.4,1332.8L1594.9,1332.9L1595.3,1333.0L1595.7,1333.1L1596.2,1333.2L1596.6,1333.3L1597.1,1333.4L1597.5,1333.5L1597.9,1333.6L1598.4,1333.7L1598.8,1333.8L1599.2,1333.9L1599.7,1334.0L1600.1,1334.1L1600.5,1334.2L1601.0,1334.3L1601.4,1334.4L1601.9,1334.5L1602.3,1334.6L1602.7,1334.7L1603.2,1334.8L1603.6,1334.9L1604.0,1335.0L1604.5,1335.1L1604.9,1335.2L1605.4,1335.3L1605.8,1335.4L1606.2,1335.5L1606.7,1335.6L1607.1,1335.7L1607.5,1335.7L1608.0,1335.8L1608.4,1335.9L1608.9,1336.0L1609.3,1336.1L1609.7,1336.2L1610.2,1336.3L1610.6,1336.3L1611.0,1336.4L1611.5,1336.5L1611.9,1336.6L1612.3,1336.7L1612.8,1336.7L1613.2,1336.8L1613.7,1336.9L1614.1,1337.0L1614.5,1337.1L1615.0,1337.1L1615.4,1337.2L1615.8,1337.3L1616.3,1337.4L1616.7,1337.4L1617.2,1337.5L1617.6,1337.6L1618.0,1337.7L1618.5,1337.7L1618.9,1337.8L1619.3,1337.9L1619.8,1338.0L1620.2,1338.0L1620.7,1338.1L1621.1,1338.2L1621.5,1338.2L1622.0,1338.3L1622.4,1338.4L1622.8,1338.4L1623.3,1338.5L1623.7,1338.6L1624.1,1338.6L1624.6,1338.7L1625.0,1338.8L1625.5,1338.8L1625.9,1338.9L1626.3,1339.0L1626.8,1339.0L1627.2,1339.1L1627.6,1339.2L1628.1,1339.2L1628.5,1339.3L1629.0,1339.3L1629.4,1339.4L1629.8,1339.5L1630.3,1339.5L1630.7,1339.6L1631.1,1339.6L1631.6,1339.7L1632.0,1339.8L1632.5,1339.8L1632.9,1339.9L1633.3,1339.9L1633.8,1340.0L1634.2,1340.1L1634.6,1340.1L1635.1,1340.2L1635.5,1340.2L1635.9,1340.3L1636.4,1340.3L1636.8,1340.4L1637.3,1340.4L1637.7,1340.5L1638.1,1340.5L1638.6,1340.6L1639.0,1340.7L1639.4,1340.7L1639.9,1340.8L1640.3,1340.8L1640.8,1340.9L1641.2,1340.9L1641.6,1341.0L1642.1,1341.0L1642.5,1341.1L1642.9,1341.1L1643.4,1341.2L1643.8,1341.2L1644.2,1341.3L1644.7,1341.3L1645.1,1341.4L1645.6,1341.4L1646.0,1341.5L1646.4,1341.5L1646.9,1341.6L1647.3,1341.6L1647.7,1341.7L1648.2,1341.7L1648.6,1341.7L1649.1,1341.8L1649.5,1341.8L1649.9,1341.9L1650.4,1341.9L1650.8,1342.0L1651.2,1342.0L1651.7,1342.1L1652.1,1342.1L1652.6,1342.2L1653.0,1342.2L1653.4,1342.2L1653.9,1342.3L1654.3,1342.3L1654.7,1342.4L1655.2,1342.4L1655.6,1342.5L1656.0,1342.5L1656.5,1342.5L1656.9,1342.6L1657.4,1342.6L1657.8,1342.7L1658.2,1342.7L1658.7,1342.7L1659.1,1342.8L1659.5,1342.8L1660.0,1342.9L1660.4,1342.9L1660.9,1342.9L1661.3,1343.0L1661.7,1343.0L1662.2,1343.1L1662.6,1343.1L1663.0,1343.1L1663.5,1343.2L1663.9,1343.2L1664.4,1343.3L1664.8,1343.3L1665.2,1343.3L1665.7,1343.4L1666.1,1343.4L1666.5,1343.4L1667.0,1343.5L1667.4,1343.5L1667.8,1343.5L1668.3,1343.6L1668.7,1343.6L1669.2,1343.7L1669.6,1343.7L1670.0,1343.7L1670.5,1343.8L1670.9,1343.8L1671.3,1343.8L1671.8,1343.9L1672.2,1343.9L1672.7,1343.9L1673.1,1344.0L1673.5,1344.0L1674.0,1344.0L1674.4,1344.1L1674.8,1344.1L1675.3,1344.1L1675.7,1344.2L1676.2,1344.2L1676.6,1344.2L1677.0,1344.3L1677.5,1344.3L1677.9,1344.3L1678.3,1344.4L1678.8,1344.4L1679.2,1344.4L1679.6,1344.5L1680.1,1344.5L1680.5,1344.5L1681.0,1344.5L1681.4,1344.6L1681.8,1344.6L1682.3,1344.6L1682.7,1344.7L1683.1,1344.7L1683.6,1344.7L1684.0,1344.8L1684.5,1344.8L1684.9,1344.8L1685.3,1344.8L1685.8,1344.9L1686.2,1344.9L1686.6,1344.9L1687.1,1345.0L1687.5,1345.0L1688.0,1345.0L1688.4,1345.1L1688.8,1345.1L1689.3,1345.1L1689.7,1345.1L1690.1,1345.2L1690.6,1345.2L1691.0,1345.2L1691.4,1345.2L1691.9,1345.3L1692.3,1345.3L1692.8,1345.3L1693.2,1345.4L1693.6,1345.4L1694.1,1345.4L1694.5,1345.4L1694.9,1345.5L1695.4,1345.5L1695.8,1345.5L1696.3,1345.5L1696.7,1345.6L1697.1,1345.6L1697.6,1345.6L1698.0,1345.6L1698.4,1345.7L1698.9,1345.7L1699.3,1345.7L1699.7,1345.7L1700.2,1345.8L1700.6,1345.8L1701.1,1345.8L1701.5,1345.8L1701.9,1345.9L1702.4,1345.9L1702.8,1345.9L1703.2,1345.9L1703.7,1346.0L1704.1,1346.0L1704.6,1346.0L1705.0,1346.0L1705.4,1346.1L1705.9,1346.1L1706.3,1346.1L1706.7,1346.1L1707.2,1346.1L1707.6,1346.2L1708.1,1346.2L1708.5,1346.2L1708.9,1346.2L1709.4,1346.3L1709.8,1346.3L1710.2,1346.3L1710.7,1346.3L1711.1,1346.4L1711.5,1346.4L1712.0,1346.4L1712.4,1346.4L1712.9,1346.4L1713.3,1346.5L1713.7,1346.5L1714.2,1346.5L1714.6,1346.5L1715.0,1346.5L1715.5,1346.6L1715.9,1346.6L1716.4,1346.6L1716.8,1346.6L1717.2,1346.7L1717.7,1346.7L1718.1,1346.7L1718.5,1346.7L1719.0,1346.7L1719.4,1346.8L1719.9,1346.8L1720.3,1346.8L1720.7,1346.8L1721.2,1346.8L1721.6,1346.9L1722.0,1346.9L1722.5,1346.9L1722.9,1346.9L1723.3,1346.9L1723.8,1347.0L1724.2,1347.0L1724.7,1347.0L1725.1,1347.0L1725.5,1347.0L1726.0,1347.0L1726.4,1347.1L1726.8,1347.1L1727.3,1347.1L1727.7,1347.1L1728.2,1347.1L1728.6,1347.2L1729.0,1347.2L1729.5,1347.2L1729.9,1347.2L1730.3,1347.2L1730.8,1347.2L1731.2,1347.3L1731.6,1347.3L1732.1,1347.3L1732.5,1347.3L1733.0,1347.3L1733.4,1347.4L1733.8,1347.4L1734.3,1347.4L1734.7,1347.4L1735.1,1347.4L1735.6,1347.4L1736.0,1347.5L1736.5,1347.5L1736.9,1347.5L1737.3,1347.5L1737.8,1347.5L1738.2,1347.5L1738.6,1347.6L1739.1,1347.6L1739.5,1347.6L1740.0,1347.6L1740.4,1347.6L1740.8,1347.6L1741.3,1347.7L1741.7,1347.7L1742.1,1347.7L1742.6,1347.7L1743.0,1347.7L1743.4,1347.7L1743.9,1347.8L1744.3,1347.8L1744.8,1347.8L1745.2,1347.8L1745.6,1347.8L1746.1,1347.8L1746.5,1347.8L1746.9,1347.9L1747.4,1347.9L1747.8,1347.9L1748.3,1347.9L1748.7,1347.9L1749.1,1347.9L1749.6,1348.0L1750.0,1348.0L1750.4,1348.0L1750.9,1348.0L1751.3,1348.0L1751.8,1348.0L1752.2,1348.0L1752.6,1348.1L1753.1,1348.1L1753.5,1348.1L1753.9,1348.1L1754.4,1348.1L1754.8,1348.1L1755.2,1348.1L1755.7,1348.2L1756.1,1348.2L1756.6,1348.2L1757.0,1348.2L1757.4,1348.2L1757.9,1348.2L1758.3,1348.2L1758.7,1348.2L1759.2,1348.3L1759.6,1348.3L1760.1,1348.3L1760.5,1348.3L1760.9,1348.3L1761.4,1348.3L1761.8,1348.3L1762.2,1348.4L1762.7,1348.4L1763.1,1348.4L1763.6,1348.4L1764.0,1348.4L1764.4,1348.4L1764.9,1348.4L1765.3,1348.4L1765.7,1348.5L1766.2,1348.5L1766.6,1348.5L1767.0,1348.5L1767.5,1348.5L1767.9,1348.5L1768.4,1348.5L1768.8,1348.5L1769.2,1348.6L1769.7,1348.6L1770.1,1348.6L1770.5,1348.6L1771.0,1348.6L1771.4,1348.6L1771.9,1348.6L1772.3,1348.6L1772.7,1348.7L1773.2,1348.7L1773.6,1348.7L1774.0,1348.7L1774.5,1348.7L1774.9,1348.7L1775.3,1348.7L1775.8,1348.7L1776.2,1348.7L1776.7,1348.8L1777.1,1348.8L1777.5,1348.8L1778.0,1348.8L1778.4,1348.8L1778.8,1348.8L1779.3,1348.8L1779.7,1348.8L1780.2,1348.8L1780.6,1348.9L1781.0,1348.9L1781.5,1348.9L1781.9,1348.9L1782.3,1348.9L1782.8,1348.9L1783.2,1348.9L1783.7,1348.9L1784.1,1348.9L1784.5,1349.0L1785.0,1349.0L1785.4,1349.0L1785.8,1349.0L1786.3,1349.0L1786.7,1349.0L1787.1,1349.0L1787.6,1349.0L1788.0,1349.0L1788.5,1349.0L1788.9,1349.1L1789.3,1349.1L1789.8,1349.1L1790.2,1349.1L1790.6,1349.1L1791.1,1349.1L1791.5,1349.1L1792.0,1349.1L1792.4,1349.1L1792.8,1349.1L1793.3,1349.2L1793.7,1349.2L1794.1,1349.2L1794.6,1349.2L1795.0,1349.2L1795.5,1349.2L1795.9,1349.2L1796.3,1349.2L1796.8,1349.2L1797.2,1349.2L1797.6,1349.2L1798.1,1349.3L1798.5,1349.3L1798.9,1349.3L1799.4,1349.3L1799.8,1349.3L1800.3,1349.3L1800.7,1349.3L1801.1,1349.3L1801.6,1349.3L1802.0,1349.3L1802.4,1349.3L1802.9,1349.4L1803.3,1349.4L1803.8,1349.4L1804.2,1349.4L1804.6,1349.4L1805.1,1349.4L1805.5,1349.4L1805.9,1349.4L1806.4,1349.4L1806.8,1349.4L1807.3,1349.4L1807.7,1349.4L1808.1,1349.5L1808.6,1349.5L1809.0,1349.5L1809.4,1349.5L1809.9,1349.5L1810.3,1349.5L1810.7,1349.5L1811.2,1349.5L1811.6,1349.5L1812.1,1349.5L1812.5,1349.5L1812.9,1349.5L1813.4,1349.5L1813.8,1349.6L1814.2,1349.6L1814.7,1349.6L1815.1,1349.6L1815.6,1349.6L1816.0,1349.6L1816.4,1349.6L1816.9,1349.6L1817.3,1349.6L1817.7,1349.6L1818.2,1349.6L1818.6,1349.6L1819.0,1349.6L1819.5,1349.6L1819.9,1349.7L1820.4,1349.7L1820.8,1349.7L1821.2,1349.7L1821.7,1349.7L1822.1,1349.7L1822.5,1349.7L1823.0,1349.7L1823.4,1349.7L1823.9,1349.7L1824.3,1349.7L1824.7,1349.7L1825.2,1349.7L1825.6,1349.7L1826.0,1349.8L1826.5,1349.8L1826.9,1349.8L1827.4,1349.8L1827.8,1349.8L1828.2,1349.8L1828.7,1349.8L1829.1,1349.8L1829.5,1349.8L1830.0,1349.8L1830.4,1349.8L1830.8,1349.8L1831.3,1349.8L1831.7,1349.8L1832.2,1349.8L1832.6,1349.8L1833.0,1349.9L1833.5,1349.9L1833.9,1349.9L1834.3,1349.9L1834.8,1349.9L1835.2,1349.9L1835.7,1349.9L1836.1,1349.9L1836.5,1349.9L1837.0,1349.9L1837.4,1349.9L1837.8,1349.9L1838.3,1349.9L1838.7,1349.9L1839.2,1349.9L1839.6,1349.9L1840.0,1349.9L1840.5,1350.0L1840.9,1350.0L1841.3,1350.0L1841.8,1350.0L1842.2,1350.0L1842.6,1350.0L1843.1,1350.0L1843.5,1350.0L1844.0,1350.0L1844.4,1350.0L1844.8,1350.0L1845.3,1350.0L1845.7,1350.0L1846.1,1350.0L1846.6,1350.0L1847.0,1350.0L1847.5,1350.0L1847.9,1350.0L1848.3,1350.0L1848.8,1350.0L1849.2,1350.1L1849.6,1350.1L1850.1,1350.1L1850.5,1350.1L1851.0,1350.1L1851.4,1350.1L1851.8,1350.1L1852.3,1350.1L1852.7,1350.1L1853.1,1350.1L1853.6,1350.1L1854.0,1350.1L1854.4,1350.1L1854.9,1350.1L1855.3,1350.1L1855.8,1350.1L1856.2,1350.1L1856.6,1350.1L1857.1,1350.1L1857.5,1350.1L1857.9,1350.1L1858.4,1350.2L1858.8,1350.2L1859.3,1350.2L1859.7,1350.2L1860.1,1350.2L1860.6,1350.2L1861.0,1350.2L1861.4,1350.2L1861.9,1350.2L1862.3,1350.2L1862.8,1350.2L1863.2,1350.2L1863.6,1350.2L1864.1,1350.2L1864.5,1350.2L1864.9,1350.2L1865.4,1350.2L1865.8,1350.2L1866.2,1350.2L1866.7,1350.2L1867.1,1350.2L1867.6,1350.2L1868.0,1350.2L1868.4,1350.2L1868.9,1350.2L1869.3,1350.2L1869.7,1350.3L1870.2,1350.3L1870.6,1350.3L1871.1,1350.3L1871.5,1350.3L1871.9,1350.3L1872.4,1350.3L1872.8,1350.3L1873.2,1350.3L1873.7,1350.3L1874.1,1350.3L1874.5,1350.3L1875.0,1350.3L1875.4,1350.3L1875.9,1350.3L1876.3,1350.3L1876.7,1350.3L1877.2,1350.3L1877.6,1350.3L1878.0,1350.3L1878.5,1350.3L1878.9,1350.3L1879.4,1350.3L1879.8,1350.3L1880.2,1350.3L1880.7,1350.3L1881.1,1350.3L1881.5,1350.3L1882.0,1350.3L1882.4,1350.3L1882.9,1350.3L1883.3,1350.3L1883.7,1350.3L1884.2,1350.4L1884.6,1350.4L1885.0,1350.4L1885.5,1350.4L1885.9,1350.4L1886.3,1350.4L1886.8,1350.4L1887.2,1350.4L1887.7,1350.4L1888.1,1350.4L1888.5,1350.4L1889.0,1350.4L1889.4,1350.4L1889.8,1350.4L1890.3,1350.4L1890.7,1350.4L1891.2,1350.4L1891.6,1350.4L1892.0,1350.4L1892.5,1350.4L1892.9,1350.4L1893.3,1350.4L1893.8,1350.4L1894.2,1350.4L1894.7,1350.4L1895.1,1350.4L1895.5,1350.4L1896.0,1350.4L1896.4,1350.4L1896.8,1350.4L1897.3,1350.4L1897.7,1350.4L1898.1,1350.4L1898.6,1350.4L1899.0,1350.4L1899.5,1350.4L1899.9,1350.4L1900.3,1350.4L1900.8,1350.4L1901.2,1350.4L1901.6,1350.4L1902.1,1350.4L1902.5,1350.4L1903.0,1350.4L1903.4,1350.4L1903.8,1350.4L1904.3,1350.4L1904.7,1350.4L1905.1,1350.4L1905.6,1350.4L1906.0,1350.4L1906.5,1350.4L1906.9,1350.5L1907.3,1350.5L1907.8,1350.5L1908.2,1350.5L1908.6,1350.5L1909.1,1350.5L1909.5,1350.5L1909.9,1350.5L1910.4,1350.5L1910.8,1350.5L1911.3,1350.5L1911.7,1350.5L1912.1,1350.5L1912.6,1350.5L1913.0,1350.5L1913.4,1350.5L1913.9,1350.5L1914.3,1350.5L1914.8,1350.5L1915.2,1350.5L1915.6,1350.5L1916.1,1350.5L1916.5,1350.5L1916.9,1350.5L1917.4,1350.5L1917.8,1350.5L1918.2,1350.5L1918.7,1350.5L1919.1,1350.5L1919.6,1350.5L1920.0,1350.5L1920.4,1350.5L1920.9,1350.5L1921.3,1350.5L1921.7,1350.5L1922.2,1350.5L1922.6,1350.5L1923.1,1350.5L1923.5,1350.5L1923.9,1350.5L1924.4,1350.5L1924.8,1350.5L1925.2,1350.5L1925.7,1350.5L1926.1,1350.5L1926.6,1350.5L1927.0,1350.5L1927.4,1350.5L1927.9,1350.5L1928.3,1350.5L1929.3,1350.5"/>
</g>
<text transform="translate(161.28,1379.70) scale(0.961,1.0)" font-family="'Liberation Sans', Arial, Helvetica, sans-serif" font-size="41.3" fill="#262626" stroke="#262626" stroke-width="0.35" stroke-linejoin="round" text-anchor="end" xml:space="preserve">0</text>
<text transform="translate(162.58,1190.13) scale(0.961,1.0)" font-family="'Liberation Sans', Arial, Helvetica, sans-serif" font-size="41.3" fill="#262626" stroke="#262626" stroke-width="0.35" stroke-linejoin="round" text-anchor="end" xml:space="preserve">20</text>
<text transform="translate(162.58,1000.56) scale(0.961,1.0)" font-family="'Liberation Sans', Arial, Helvetica, sans-serif" font-size="41.3" fill="#262626" stroke="#262626" stroke-width="0.35" stroke-linejoin="round" text-anchor="end" xml:space="preserve">40</text>
<text transform="translate(162.58,810.99) scale(0.961,1.0)" font-family="'Liberation Sans', Arial, Helvetica, sans-serif" font-size="41.3" fill="#262626" stroke="#262626" stroke-width="0.35" stroke-linejoin="round" text-anchor="end" xml:space="preserve">60</text>
<text transform="translate(162.58,621.41) scale(0.961,1.0)" font-family="'Liberation Sans', Arial, Helvetica, sans-serif" font-size="41.3" fill="#262626" stroke="#262626" stroke-width="0.35" stroke-linejoin="round" text-anchor="end" xml:space="preserve">80</text>
<text transform="translate(160.98,431.84) scale(0.961,1.0)" font-family="'Liberation Sans', Arial, Helvetica, sans-serif" font-size="41.3" fill="#262626" stroke="#262626" stroke-width="0.35" stroke-linejoin="round" text-anchor="end" xml:space="preserve">100</text>
<text transform="translate(160.98,242.27) scale(0.961,1.0)" font-family="'Liberation Sans', Arial, Helvetica, sans-serif" font-size="41.3" fill="#262626" stroke="#262626" stroke-width="0.35" stroke-linejoin="round" text-anchor="end" xml:space="preserve">120</text>
<text transform="translate(160.98,52.70) scale(0.961,1.0)" font-family="'Liberation Sans', Arial, Helvetica, sans-serif" font-size="41.3" fill="#262626" stroke="#262626" stroke-width="0.35" stroke-linejoin="round" text-anchor="end" xml:space="preserve">140</text>
<text transform="translate(119.04,1420.80) scale(0.961,1.0)" font-family="'Liberation Sans', Arial, Helvetica, sans-serif" font-size="41.3" fill="#262626" stroke="#262626" stroke-width="0.35" stroke-linejoin="round" text-anchor="start" xml:space="preserve">− <tspan dx="-3.12">4000</tspan></text>
<text transform="translate(337.54,1420.80) scale(0.961,1.0)" font-family="'Liberation Sans', Arial, Helvetica, sans-serif" font-size="41.3" fill="#262626" stroke="#262626" stroke-width="0.35" stroke-linejoin="round" text-anchor="start" xml:space="preserve">− <tspan dx="-3.12">3000</tspan></text>
<text transform="translate(556.04,1420.80) scale(0.961,1.0)" font-family="'Liberation Sans', Arial, Helvetica, sans-serif" font-size="41.3" fill="#262626" stroke="#262626" stroke-width="0.35" stroke-linejoin="round" text-anchor="start" xml:space="preserve">− <tspan dx="-3.12">2000</tspan></text>
<text transform="translate(774.54,1420.80) scale(0.961,1.0)" font-family="'Liberation Sans', Arial, Helvetica, sans-serif" font-size="41.3" fill="#262626" stroke="#262626" stroke-width="0.35" stroke-linejoin="round" text-anchor="start" xml:space="preserve">− <tspan dx="-3.12">1000</tspan></text>
<text transform="translate(1052.70,1420.80) scale(0.961,1.0)" font-family="'Liberation Sans', Arial, Helvetica, sans-serif" font-size="41.3" fill="#262626" stroke="#262626" stroke-width="0.35" stroke-linejoin="round" text-anchor="middle" xml:space="preserve">0</text>
<text transform="translate(1271.20,1420.80) scale(0.961,1.0)" font-family="'Liberation Sans', Arial, Helvetica, sans-serif" font-size="41.3" fill="#262626" stroke="#262626" stroke-width="0.35" stroke-linejoin="round" text-anchor="middle" xml:space="preserve">1000</text>
<text transform="translate(1489.70,1420.80) scale(0.961,1.0)" font-family="'Liberation Sans', Arial, Helvetica, sans-serif" font-size="41.3" fill="#262626" stroke="#262626" stroke-width="0.35" stroke-linejoin="round" text-anchor="middle" xml:space="preserve">2000</text>
<text transform="translate(1708.20,1420.80) scale(0.961,1.0)" font-family="'Liberation Sans', Arial, Helvetica, sans-serif" font-size="41.3" fill="#262626" stroke="#262626" stroke-width="0.35" stroke-linejoin="round" text-anchor="middle" xml:space="preserve">3000</text>
<text transform="translate(1926.70,1420.80) scale(0.961,1.0)" font-family="'Liberation Sans', Arial, Helvetica, sans-serif" font-size="41.3" fill="#262626" stroke="#262626" stroke-width="0.35" stroke-linejoin="round" text-anchor="middle" xml:space="preserve">4000</text>
<text transform="translate(1001.60,1486.00) scale(0.962,1.0)" font-family="'Liberation Sans', Arial, Helvetica, sans-serif" font-size="57.0" fill="#262626" stroke="#262626" stroke-width="0.4" stroke-linejoin="round" text-anchor="start" xml:space="preserve"><tspan font-style="italic">f</tspan><tspan dx="1.63">/</tspan><tspan dx="0.4">HZ</tspan></text>
<text transform="translate(68.00,700.40) rotate(-90) scale(0.974,1.0)" font-family="'Liberation Sans', Arial, Helvetica, sans-serif" font-size="57.0" fill="#262626" stroke="#262626" stroke-width="0.4" stroke-linejoin="round" text-anchor="middle" xml:space="preserve">Amplitude</text>
<rect x="1501.5" y="84.5" width="406" height="203" fill="#ffffff" stroke="#262626" stroke-width="3" shape-rendering="crispEdges"/>
<path d="M1513,121.5H1633" stroke="#984587" stroke-width="5.0" fill="none" shape-rendering="crispEdges"/>
<text transform="translate(1641.40,141.10) scale(0.951,1.0)" font-family="'Liberation Sans', Arial, Helvetica, sans-serif" font-size="50.1" fill="#000000" stroke="#000000" stroke-width="0.35" stroke-linejoin="round" text-anchor="start" xml:space="preserve">CPM-LFM</text>
<path d="M1513,185.6H1633" stroke="#FDB40F" stroke-width="5.0" fill="none" shape-rendering="crispEdges"/>
<text transform="translate(1641.40,205.20) scale(0.951,1.0)" font-family="'Liberation Sans', Arial, Helvetica, sans-serif" font-size="50.1" fill="#000000" stroke="#000000" stroke-width="0.35" stroke-linejoin="round" text-anchor="start" xml:space="preserve">LFM</text>
<path d="M1513,249.5H1633" stroke="#528BD8" stroke-width="5.0" fill="none" shape-rendering="crispEdges"/>
<text transform="translate(1641.40,269.10) scale(0.951,1.0)" font-family="'Liberation Sans', Arial, Helvetica, sans-serif" font-size="50.1" fill="#000000" stroke="#000000" stroke-width="0.35" stroke-linejoin="round" text-anchor="start" xml:space="preserve">GMSK-LFM</text>
</svg>
</body>
</html>
